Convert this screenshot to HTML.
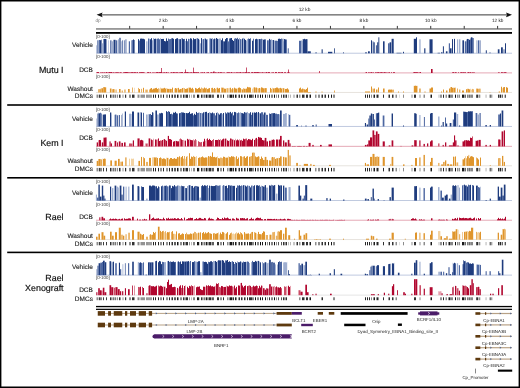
<!DOCTYPE html>
<html><head><meta charset="utf-8"><style>
html,body{margin:0;padding:0;background:#fff;}
#f{position:relative;width:520px;height:388px;overflow:hidden;background:#fff;}
#b{position:absolute;left:0;top:0;width:518px;height:386px;border:1px solid #000;box-shadow:inset 0 0 0 0.4px #000;}
svg{position:absolute;left:0;top:0;}
svg.t{will-change:transform;}
text{text-rendering:geometricPrecision;}
text{font-family:'Liberation Sans', sans-serif;}
</style></head><body><div id="f">
<svg width="520" height="388" viewBox="0 0 520 388" shape-rendering="auto">
<rect x="101.00" y="14.20" width="406.00" height="1.30" fill="#666"/>
<path d="M96.6,14.85 L102.6,12.4 L101.6,14.85 L102.6,17.3 Z" fill="#111"/>
<path d="M512.0,14.85 L506.0,12.4 L507.0,14.85 L506.0,17.3 Z" fill="#111"/>
<rect x="96.00" y="28.40" width="416.00" height="1.10" fill="#555"/>
<rect x="129.25" y="25.90" width="0.90" height="2.80" fill="#222"/>
<rect x="162.70" y="25.90" width="0.90" height="2.80" fill="#222"/>
<rect x="196.15" y="25.90" width="0.90" height="2.80" fill="#222"/>
<rect x="229.60" y="25.90" width="0.90" height="2.80" fill="#222"/>
<rect x="263.05" y="25.90" width="0.90" height="2.80" fill="#222"/>
<rect x="296.50" y="25.90" width="0.90" height="2.80" fill="#222"/>
<rect x="329.95" y="25.90" width="0.90" height="2.80" fill="#222"/>
<rect x="363.40" y="25.90" width="0.90" height="2.80" fill="#222"/>
<rect x="396.85" y="25.90" width="0.90" height="2.80" fill="#222"/>
<rect x="430.30" y="25.90" width="0.90" height="2.80" fill="#222"/>
<rect x="463.75" y="25.90" width="0.90" height="2.80" fill="#222"/>
<rect x="497.20" y="25.90" width="0.90" height="2.80" fill="#222"/>
<rect x="96.00" y="32.00" width="416.00" height="1.80" fill="#000"/>
<rect x="96.00" y="52.75" width="416.00" height="0.90" fill="#b9c4dc"/>
<rect x="96.30" y="45.30" width="0.70" height="8.00" fill="#9eaed0"/>
<rect x="97.30" y="40.30" width="1.00" height="13.00" fill="#4d67a1"/>
<rect x="98.60" y="40.25" width="0.40" height="13.05" fill="#4d67a1"/>
<rect x="99.00" y="39.97" width="1.00" height="13.33" fill="#4d67a1"/>
<rect x="100.00" y="40.21" width="1.00" height="13.09" fill="#1f3c7e"/>
<rect x="101.00" y="39.66" width="0.60" height="13.64" fill="#1f3c7e"/>
<rect x="102.00" y="43.30" width="1.00" height="10.00" fill="#9eaed0"/>
<rect x="103.30" y="38.99" width="0.70" height="14.31" fill="#4d67a1"/>
<rect x="104.00" y="38.94" width="1.00" height="14.36" fill="#1f3c7e"/>
<rect x="105.00" y="38.98" width="1.00" height="14.32" fill="#1f3c7e"/>
<rect x="106.00" y="39.23" width="0.50" height="14.07" fill="#1f3c7e"/>
<rect x="108.00" y="40.30" width="0.60" height="13.00" fill="#9eaed0"/>
<rect x="110.20" y="40.30" width="1.30" height="13.00" fill="#4d67a1"/>
<rect x="111.80" y="41.30" width="1.20" height="12.00" fill="#9eaed0"/>
<rect x="113.50" y="39.80" width="2.10" height="13.50" fill="#1f3c7e"/>
<rect x="116.00" y="40.30" width="1.30" height="13.00" fill="#4d67a1"/>
<rect x="118.00" y="39.30" width="1.00" height="14.00" fill="#9eaed0"/>
<rect x="119.40" y="37.80" width="1.20" height="15.50" fill="#1f3c7e"/>
<rect x="121.00" y="41.30" width="0.70" height="12.00" fill="#9eaed0"/>
<rect x="122.20" y="40.30" width="0.80" height="13.00" fill="#4d67a1"/>
<rect x="123.90" y="40.30" width="0.80" height="13.00" fill="#4d67a1"/>
<rect x="125.50" y="39.30" width="0.90" height="14.00" fill="#4d67a1"/>
<rect x="128.80" y="41.30" width="1.20" height="12.00" fill="#4d67a1"/>
<rect x="131.00" y="40.30" width="0.60" height="13.00" fill="#4d67a1"/>
<rect x="132.10" y="40.08" width="0.90" height="13.22" fill="#4d67a1"/>
<rect x="133.00" y="39.41" width="1.00" height="13.89" fill="#1f3c7e"/>
<rect x="134.00" y="40.00" width="0.60" height="13.30" fill="#1f3c7e"/>
<rect x="138.00" y="39.15" width="1.00" height="14.15" fill="#1f3c7e"/>
<rect x="139.00" y="40.55" width="1.00" height="12.75" fill="#4d67a1"/>
<rect x="140.00" y="38.67" width="1.00" height="14.63" fill="#1f3c7e"/>
<rect x="141.00" y="38.55" width="1.00" height="14.75" fill="#1f3c7e"/>
<rect x="142.00" y="38.72" width="1.00" height="14.58" fill="#1f3c7e"/>
<rect x="143.00" y="38.76" width="1.00" height="14.54" fill="#1f3c7e"/>
<rect x="144.00" y="39.30" width="1.00" height="14.00" fill="#1f3c7e"/>
<rect x="146.20" y="41.30" width="1.30" height="12.00" fill="#9eaed0"/>
<rect x="148.00" y="38.50" width="1.00" height="14.80" fill="#4d67a1"/>
<rect x="149.00" y="38.76" width="1.00" height="14.54" fill="#9eaed0"/>
<rect x="150.00" y="39.28" width="1.00" height="14.02" fill="#1f3c7e"/>
<rect x="151.00" y="38.20" width="1.00" height="15.10" fill="#1f3c7e"/>
<rect x="152.00" y="40.27" width="1.00" height="13.03" fill="#9eaed0"/>
<rect x="153.00" y="38.13" width="1.00" height="15.17" fill="#9eaed0"/>
<rect x="154.00" y="38.90" width="1.00" height="14.40" fill="#1f3c7e"/>
<rect x="155.00" y="38.68" width="1.00" height="14.62" fill="#1f3c7e"/>
<rect x="156.00" y="38.85" width="1.00" height="14.45" fill="#9eaed0"/>
<rect x="157.00" y="38.67" width="1.00" height="14.63" fill="#4d67a1"/>
<rect x="158.00" y="38.44" width="1.00" height="14.86" fill="#4d67a1"/>
<rect x="159.00" y="39.25" width="1.00" height="14.05" fill="#4d67a1"/>
<rect x="160.00" y="38.30" width="1.00" height="15.00" fill="#9eaed0"/>
<rect x="161.00" y="38.99" width="1.00" height="14.31" fill="#1f3c7e"/>
<rect x="162.00" y="38.95" width="1.00" height="14.35" fill="#1f3c7e"/>
<rect x="163.00" y="38.90" width="1.00" height="14.40" fill="#1f3c7e"/>
<rect x="164.00" y="41.00" width="1.00" height="12.30" fill="#1f3c7e"/>
<rect x="165.00" y="41.34" width="1.00" height="11.96" fill="#1f3c7e"/>
<rect x="166.00" y="38.37" width="1.00" height="14.93" fill="#1f3c7e"/>
<rect x="167.00" y="40.87" width="1.00" height="12.43" fill="#1f3c7e"/>
<rect x="168.00" y="38.59" width="1.00" height="14.71" fill="#4d67a1"/>
<rect x="169.00" y="39.24" width="1.00" height="14.06" fill="#4d67a1"/>
<rect x="170.00" y="39.04" width="1.00" height="14.26" fill="#4d67a1"/>
<rect x="171.00" y="38.40" width="1.00" height="14.90" fill="#4d67a1"/>
<rect x="172.00" y="38.19" width="1.00" height="15.11" fill="#1f3c7e"/>
<rect x="173.00" y="38.77" width="1.00" height="14.53" fill="#1f3c7e"/>
<rect x="175.00" y="39.10" width="1.00" height="14.20" fill="#1f3c7e"/>
<rect x="176.00" y="38.48" width="1.00" height="14.82" fill="#1f3c7e"/>
<rect x="177.00" y="38.19" width="1.00" height="15.11" fill="#1f3c7e"/>
<rect x="178.00" y="38.96" width="1.00" height="14.34" fill="#9eaed0"/>
<rect x="179.00" y="39.15" width="1.00" height="14.15" fill="#4d67a1"/>
<rect x="180.00" y="39.12" width="1.00" height="14.18" fill="#1f3c7e"/>
<rect x="181.00" y="38.10" width="1.00" height="15.20" fill="#9eaed0"/>
<rect x="182.00" y="38.46" width="1.00" height="14.84" fill="#1f3c7e"/>
<rect x="183.00" y="39.12" width="1.00" height="14.18" fill="#1f3c7e"/>
<rect x="184.00" y="38.89" width="1.00" height="14.41" fill="#4d67a1"/>
<rect x="185.00" y="41.05" width="1.00" height="12.25" fill="#9eaed0"/>
<rect x="186.00" y="38.80" width="1.00" height="14.50" fill="#1f3c7e"/>
<rect x="187.00" y="41.24" width="1.00" height="12.06" fill="#4d67a1"/>
<rect x="188.00" y="38.82" width="1.00" height="14.48" fill="#4d67a1"/>
<rect x="189.00" y="39.01" width="1.00" height="14.29" fill="#9eaed0"/>
<rect x="190.00" y="38.26" width="1.00" height="15.04" fill="#1f3c7e"/>
<rect x="191.00" y="38.65" width="1.00" height="14.65" fill="#1f3c7e"/>
<rect x="192.00" y="40.20" width="1.00" height="13.10" fill="#9eaed0"/>
<rect x="193.00" y="38.25" width="1.00" height="15.05" fill="#1f3c7e"/>
<rect x="194.00" y="39.12" width="1.00" height="14.18" fill="#1f3c7e"/>
<rect x="195.00" y="38.89" width="1.00" height="14.41" fill="#1f3c7e"/>
<rect x="196.00" y="38.38" width="1.00" height="14.92" fill="#9eaed0"/>
<rect x="197.00" y="38.21" width="1.00" height="15.09" fill="#4d67a1"/>
<rect x="198.00" y="38.83" width="1.00" height="14.47" fill="#1f3c7e"/>
<rect x="199.00" y="39.71" width="1.00" height="13.59" fill="#9eaed0"/>
<rect x="200.00" y="43.30" width="1.30" height="10.00" fill="#9eaed0"/>
<rect x="201.00" y="38.13" width="1.00" height="15.17" fill="#1f3c7e"/>
<rect x="202.00" y="39.36" width="1.00" height="13.94" fill="#9eaed0"/>
<rect x="203.00" y="39.07" width="1.00" height="14.23" fill="#4d67a1"/>
<rect x="204.00" y="38.61" width="1.00" height="14.69" fill="#9eaed0"/>
<rect x="205.00" y="38.60" width="1.00" height="14.70" fill="#1f3c7e"/>
<rect x="206.00" y="39.43" width="1.00" height="13.87" fill="#1f3c7e"/>
<rect x="207.00" y="39.14" width="1.00" height="14.16" fill="#9eaed0"/>
<rect x="209.00" y="38.40" width="1.00" height="14.90" fill="#9eaed0"/>
<rect x="210.00" y="38.45" width="1.00" height="14.85" fill="#4d67a1"/>
<rect x="211.00" y="38.75" width="1.00" height="14.55" fill="#1f3c7e"/>
<rect x="212.00" y="38.03" width="1.00" height="15.27" fill="#9eaed0"/>
<rect x="213.00" y="39.24" width="1.00" height="14.06" fill="#4d67a1"/>
<rect x="214.00" y="38.58" width="1.00" height="14.72" fill="#1f3c7e"/>
<rect x="215.00" y="38.83" width="1.00" height="14.47" fill="#9eaed0"/>
<rect x="216.00" y="38.03" width="1.00" height="15.27" fill="#1f3c7e"/>
<rect x="217.00" y="38.81" width="1.00" height="14.49" fill="#1f3c7e"/>
<rect x="218.00" y="38.90" width="1.00" height="14.40" fill="#9eaed0"/>
<rect x="219.00" y="38.47" width="1.00" height="14.83" fill="#9eaed0"/>
<rect x="220.00" y="38.55" width="1.00" height="14.75" fill="#9eaed0"/>
<rect x="221.00" y="40.18" width="1.00" height="13.12" fill="#1f3c7e"/>
<rect x="222.00" y="38.33" width="1.00" height="14.97" fill="#1f3c7e"/>
<rect x="223.00" y="41.30" width="1.00" height="12.00" fill="#4d67a1"/>
<rect x="224.00" y="41.36" width="1.00" height="11.94" fill="#1f3c7e"/>
<rect x="225.00" y="39.10" width="1.00" height="14.20" fill="#1f3c7e"/>
<rect x="226.00" y="38.00" width="1.00" height="15.30" fill="#1f3c7e"/>
<rect x="227.00" y="38.04" width="1.00" height="15.26" fill="#4d67a1"/>
<rect x="228.00" y="41.38" width="1.00" height="11.92" fill="#4d67a1"/>
<rect x="229.00" y="38.42" width="1.00" height="14.88" fill="#4d67a1"/>
<rect x="230.00" y="38.25" width="1.00" height="15.05" fill="#1f3c7e"/>
<rect x="231.00" y="38.00" width="1.00" height="15.30" fill="#1f3c7e"/>
<rect x="232.00" y="39.95" width="1.00" height="13.35" fill="#1f3c7e"/>
<rect x="233.00" y="40.99" width="1.00" height="12.31" fill="#1f3c7e"/>
<rect x="234.00" y="38.68" width="1.00" height="14.62" fill="#4d67a1"/>
<rect x="235.00" y="38.17" width="1.00" height="15.13" fill="#4d67a1"/>
<rect x="236.00" y="38.72" width="1.00" height="14.58" fill="#1f3c7e"/>
<rect x="237.00" y="37.83" width="1.00" height="15.47" fill="#4d67a1"/>
<rect x="238.00" y="39.27" width="1.00" height="14.03" fill="#1f3c7e"/>
<rect x="239.00" y="37.95" width="1.00" height="15.35" fill="#9eaed0"/>
<rect x="240.00" y="39.11" width="1.00" height="14.19" fill="#4d67a1"/>
<rect x="241.00" y="39.30" width="1.00" height="14.00" fill="#9eaed0"/>
<rect x="242.00" y="38.57" width="1.00" height="14.73" fill="#1f3c7e"/>
<rect x="243.00" y="37.89" width="1.00" height="15.41" fill="#9eaed0"/>
<rect x="244.00" y="38.79" width="1.00" height="14.51" fill="#1f3c7e"/>
<rect x="245.00" y="39.93" width="1.00" height="13.37" fill="#1f3c7e"/>
<rect x="246.00" y="40.57" width="1.00" height="12.73" fill="#9eaed0"/>
<rect x="247.00" y="38.97" width="1.00" height="14.33" fill="#9eaed0"/>
<rect x="248.00" y="38.50" width="1.00" height="14.80" fill="#4d67a1"/>
<rect x="249.00" y="38.93" width="1.00" height="14.37" fill="#1f3c7e"/>
<rect x="250.00" y="38.29" width="1.00" height="15.01" fill="#4d67a1"/>
<rect x="252.00" y="40.71" width="1.00" height="12.59" fill="#1f3c7e"/>
<rect x="253.00" y="38.73" width="1.00" height="14.57" fill="#4d67a1"/>
<rect x="255.00" y="39.20" width="1.00" height="14.10" fill="#1f3c7e"/>
<rect x="256.00" y="38.78" width="1.00" height="14.52" fill="#1f3c7e"/>
<rect x="257.00" y="39.21" width="1.00" height="14.09" fill="#4d67a1"/>
<rect x="258.00" y="39.02" width="1.00" height="14.28" fill="#9eaed0"/>
<rect x="259.00" y="39.05" width="1.00" height="14.25" fill="#1f3c7e"/>
<rect x="260.00" y="39.13" width="1.00" height="14.17" fill="#4d67a1"/>
<rect x="261.00" y="38.76" width="1.00" height="14.54" fill="#4d67a1"/>
<rect x="262.00" y="39.12" width="1.00" height="14.18" fill="#9eaed0"/>
<rect x="263.00" y="39.71" width="1.00" height="13.59" fill="#1f3c7e"/>
<rect x="264.00" y="39.40" width="1.00" height="13.90" fill="#1f3c7e"/>
<rect x="265.00" y="39.34" width="1.00" height="13.96" fill="#4d67a1"/>
<rect x="267.00" y="40.30" width="1.80" height="13.00" fill="#4d67a1"/>
<rect x="269.00" y="38.89" width="1.00" height="14.41" fill="#1f3c7e"/>
<rect x="270.00" y="39.77" width="1.00" height="13.53" fill="#4d67a1"/>
<rect x="271.00" y="39.36" width="1.00" height="13.94" fill="#9eaed0"/>
<rect x="272.00" y="40.00" width="1.00" height="13.30" fill="#9eaed0"/>
<rect x="273.00" y="40.04" width="1.00" height="13.26" fill="#1f3c7e"/>
<rect x="274.50" y="40.53" width="0.50" height="12.77" fill="#4d67a1"/>
<rect x="275.00" y="40.70" width="1.00" height="12.60" fill="#4d67a1"/>
<rect x="276.00" y="40.69" width="1.00" height="12.61" fill="#4d67a1"/>
<rect x="277.00" y="40.98" width="0.90" height="12.32" fill="#4d67a1"/>
<rect x="277.90" y="39.31" width="0.10" height="13.99" fill="#1f3c7e"/>
<rect x="278.00" y="38.81" width="1.00" height="14.49" fill="#1f3c7e"/>
<rect x="279.00" y="38.68" width="1.00" height="14.62" fill="#1f3c7e"/>
<rect x="280.00" y="39.06" width="1.00" height="14.24" fill="#1f3c7e"/>
<rect x="281.00" y="38.56" width="1.00" height="14.74" fill="#4d67a1"/>
<rect x="282.00" y="38.79" width="0.50" height="14.51" fill="#1f3c7e"/>
<rect x="282.50" y="41.30" width="1.10" height="12.00" fill="#9eaed0"/>
<rect x="283.60" y="38.63" width="0.40" height="14.67" fill="#4d67a1"/>
<rect x="284.00" y="39.04" width="1.00" height="14.26" fill="#1f3c7e"/>
<rect x="285.00" y="39.40" width="1.00" height="13.90" fill="#1f3c7e"/>
<rect x="286.00" y="39.49" width="0.90" height="13.81" fill="#4d67a1"/>
<rect x="287.80" y="48.30" width="0.80" height="5.00" fill="#1f3c7e"/>
<rect x="299.00" y="40.76" width="1.00" height="12.54" fill="#4d67a1"/>
<rect x="300.00" y="40.77" width="1.00" height="12.53" fill="#4d67a1"/>
<rect x="301.00" y="40.46" width="1.00" height="12.84" fill="#9eaed0"/>
<rect x="302.00" y="41.08" width="0.60" height="12.22" fill="#9eaed0"/>
<rect x="302.60" y="39.06" width="0.40" height="14.24" fill="#4d67a1"/>
<rect x="303.00" y="39.20" width="1.00" height="14.10" fill="#1f3c7e"/>
<rect x="304.00" y="38.83" width="1.00" height="14.47" fill="#1f3c7e"/>
<rect x="305.00" y="39.33" width="1.00" height="13.97" fill="#1f3c7e"/>
<rect x="306.00" y="39.12" width="1.00" height="14.18" fill="#1f3c7e"/>
<rect x="307.00" y="39.20" width="0.50" height="14.10" fill="#1f3c7e"/>
<rect x="307.50" y="51.30" width="3.30" height="2.00" fill="#1f3c7e"/>
<rect x="315.50" y="52.30" width="1.10" height="1.00" fill="#1f3c7e"/>
<rect x="321.60" y="49.30" width="1.10" height="4.00" fill="#1f3c7e"/>
<rect x="328.00" y="51.80" width="4.30" height="1.50" fill="#1f3c7e"/>
<rect x="334.00" y="48.30" width="0.80" height="5.00" fill="#1f3c7e"/>
<rect x="343.00" y="52.30" width="0.80" height="1.00" fill="#1f3c7e"/>
<rect x="365.20" y="52.30" width="1.60" height="1.00" fill="#1f3c7e"/>
<rect x="368.00" y="51.30" width="1.80" height="2.00" fill="#1f3c7e"/>
<rect x="371.00" y="40.30" width="1.00" height="13.00" fill="#1f3c7e"/>
<rect x="372.60" y="41.30" width="0.80" height="12.00" fill="#4d67a1"/>
<rect x="373.40" y="42.30" width="1.30" height="11.00" fill="#1f3c7e"/>
<rect x="375.90" y="45.30" width="1.30" height="8.00" fill="#4d67a1"/>
<rect x="377.20" y="42.30" width="1.20" height="11.00" fill="#1f3c7e"/>
<rect x="378.40" y="37.30" width="0.90" height="16.00" fill="#1f3c7e"/>
<rect x="383.00" y="41.30" width="1.60" height="12.00" fill="#1f3c7e"/>
<rect x="388.00" y="43.30" width="1.60" height="10.00" fill="#4d67a1"/>
<rect x="389.60" y="42.30" width="1.60" height="11.00" fill="#1f3c7e"/>
<rect x="391.60" y="38.80" width="2.10" height="14.50" fill="#1f3c7e"/>
<rect x="396.50" y="52.80" width="5.00" height="0.50" fill="#1f3c7e"/>
<rect x="403.00" y="51.80" width="1.00" height="1.50" fill="#1f3c7e"/>
<rect x="413.80" y="38.80" width="2.20" height="14.50" fill="#1f3c7e"/>
<rect x="416.00" y="37.30" width="1.00" height="16.00" fill="#1f3c7e"/>
<rect x="419.30" y="39.30" width="1.30" height="14.00" fill="#9eaed0"/>
<rect x="424.20" y="48.30" width="1.20" height="5.00" fill="#1f3c7e"/>
<rect x="429.50" y="39.30" width="1.50" height="14.00" fill="#1f3c7e"/>
<rect x="431.00" y="39.30" width="1.60" height="14.00" fill="#1f3c7e"/>
<rect x="437.60" y="52.80" width="2.40" height="0.50" fill="#1f3c7e"/>
<rect x="441.00" y="52.30" width="1.50" height="1.00" fill="#1f3c7e"/>
<rect x="442.90" y="46.30" width="1.00" height="7.00" fill="#1f3c7e"/>
<rect x="445.90" y="51.30" width="1.60" height="2.00" fill="#1f3c7e"/>
<rect x="448.80" y="43.30" width="1.20" height="10.00" fill="#4d67a1"/>
<rect x="450.00" y="48.30" width="1.60" height="5.00" fill="#1f3c7e"/>
<rect x="452.00" y="39.13" width="1.00" height="14.17" fill="#1f3c7e"/>
<rect x="454.00" y="38.86" width="1.00" height="14.44" fill="#1f3c7e"/>
<rect x="457.00" y="39.30" width="1.20" height="14.00" fill="#9eaed0"/>
<rect x="459.00" y="39.30" width="1.40" height="14.00" fill="#9eaed0"/>
<rect x="462.40" y="40.30" width="1.60" height="13.00" fill="#1f3c7e"/>
<rect x="464.80" y="41.30" width="1.70" height="12.00" fill="#4d67a1"/>
<rect x="466.50" y="39.38" width="0.50" height="13.92" fill="#4d67a1"/>
<rect x="467.00" y="38.95" width="1.00" height="14.35" fill="#1f3c7e"/>
<rect x="468.00" y="39.09" width="1.00" height="14.21" fill="#4d67a1"/>
<rect x="469.00" y="39.77" width="1.00" height="13.53" fill="#1f3c7e"/>
<rect x="470.00" y="39.46" width="0.60" height="13.84" fill="#1f3c7e"/>
<rect x="470.60" y="37.72" width="0.40" height="15.58" fill="#1f3c7e"/>
<rect x="471.00" y="37.31" width="1.00" height="15.99" fill="#1f3c7e"/>
<rect x="472.00" y="37.60" width="1.00" height="15.70" fill="#4d67a1"/>
<rect x="473.00" y="38.05" width="0.60" height="15.25" fill="#1f3c7e"/>
<rect x="476.40" y="40.30" width="1.10" height="13.00" fill="#9eaed0"/>
<rect x="478.00" y="40.30" width="1.20" height="13.00" fill="#4d67a1"/>
<rect x="479.70" y="40.30" width="0.80" height="13.00" fill="#4d67a1"/>
<rect x="485.80" y="50.30" width="1.00" height="3.00" fill="#1f3c7e"/>
<rect x="489.60" y="52.30" width="0.80" height="1.00" fill="#1f3c7e"/>
<rect x="497.80" y="49.30" width="1.70" height="4.00" fill="#1f3c7e"/>
<rect x="501.00" y="47.30" width="1.80" height="6.00" fill="#1f3c7e"/>
<rect x="503.60" y="49.30" width="0.80" height="4.00" fill="#1f3c7e"/>
<rect x="505.00" y="43.30" width="1.00" height="10.00" fill="#1f3c7e"/>
<rect x="96.00" y="72.45" width="416.00" height="0.90" fill="#e2a0ae"/>
<rect x="96.00" y="72.64" width="1.00" height="0.36" fill="#b1072f"/>
<rect x="97.00" y="72.12" width="1.00" height="0.88" fill="#b1072f"/>
<rect x="98.00" y="72.13" width="1.00" height="0.87" fill="#b1072f"/>
<rect x="100.00" y="72.57" width="1.00" height="0.43" fill="#b1072f"/>
<rect x="101.00" y="72.58" width="1.00" height="0.42" fill="#b1072f"/>
<rect x="102.00" y="72.43" width="1.00" height="0.57" fill="#b1072f"/>
<rect x="103.00" y="72.63" width="1.00" height="0.37" fill="#b1072f"/>
<rect x="104.00" y="72.45" width="1.00" height="0.55" fill="#b1072f"/>
<rect x="105.00" y="72.68" width="1.00" height="0.32" fill="#b1072f"/>
<rect x="106.00" y="72.15" width="1.00" height="0.85" fill="#b1072f"/>
<rect x="107.00" y="72.59" width="1.00" height="0.41" fill="#b1072f"/>
<rect x="108.00" y="72.47" width="1.00" height="0.53" fill="#b1072f"/>
<rect x="109.00" y="72.12" width="1.00" height="0.88" fill="#b1072f"/>
<rect x="110.00" y="72.21" width="1.00" height="0.79" fill="#b1072f"/>
<rect x="111.00" y="72.11" width="1.00" height="0.89" fill="#b1072f"/>
<rect x="112.00" y="72.66" width="1.00" height="0.34" fill="#b1072f"/>
<rect x="113.00" y="72.43" width="1.00" height="0.57" fill="#b1072f"/>
<rect x="114.00" y="72.68" width="1.00" height="0.32" fill="#b1072f"/>
<rect x="115.00" y="72.48" width="1.00" height="0.52" fill="#b1072f"/>
<rect x="116.00" y="72.33" width="1.00" height="0.67" fill="#b1072f"/>
<rect x="117.00" y="72.33" width="1.00" height="0.67" fill="#b1072f"/>
<rect x="118.00" y="72.43" width="1.00" height="0.57" fill="#b1072f"/>
<rect x="119.00" y="72.67" width="1.00" height="0.33" fill="#b1072f"/>
<rect x="120.00" y="72.35" width="1.00" height="0.65" fill="#b1072f"/>
<rect x="121.00" y="72.57" width="1.00" height="0.43" fill="#b1072f"/>
<rect x="123.00" y="72.44" width="1.00" height="0.56" fill="#b1072f"/>
<rect x="124.00" y="72.28" width="1.00" height="0.72" fill="#b1072f"/>
<rect x="125.00" y="72.12" width="1.00" height="0.88" fill="#b1072f"/>
<rect x="126.00" y="72.11" width="1.00" height="0.89" fill="#b1072f"/>
<rect x="127.00" y="72.19" width="1.00" height="0.81" fill="#b1072f"/>
<rect x="128.00" y="72.42" width="1.00" height="0.58" fill="#b1072f"/>
<rect x="129.00" y="72.50" width="1.00" height="0.50" fill="#b1072f"/>
<rect x="130.00" y="72.51" width="1.00" height="0.49" fill="#b1072f"/>
<rect x="131.00" y="72.27" width="1.00" height="0.73" fill="#b1072f"/>
<rect x="132.00" y="72.21" width="1.00" height="0.79" fill="#b1072f"/>
<rect x="133.00" y="72.47" width="1.00" height="0.53" fill="#b1072f"/>
<rect x="134.00" y="72.23" width="1.00" height="0.77" fill="#b1072f"/>
<rect x="135.00" y="72.29" width="1.00" height="0.71" fill="#b1072f"/>
<rect x="136.00" y="72.60" width="1.00" height="0.40" fill="#b1072f"/>
<rect x="137.00" y="72.23" width="1.00" height="0.77" fill="#b1072f"/>
<rect x="139.00" y="72.33" width="1.00" height="0.67" fill="#b1072f"/>
<rect x="140.00" y="72.31" width="1.00" height="0.69" fill="#b1072f"/>
<rect x="141.00" y="72.22" width="1.00" height="0.78" fill="#b1072f"/>
<rect x="142.00" y="72.24" width="1.00" height="0.76" fill="#b1072f"/>
<rect x="143.00" y="72.28" width="1.00" height="0.72" fill="#b1072f"/>
<rect x="144.00" y="72.60" width="1.00" height="0.40" fill="#b1072f"/>
<rect x="147.00" y="72.30" width="1.00" height="0.70" fill="#b1072f"/>
<rect x="148.00" y="72.20" width="1.00" height="0.80" fill="#b1072f"/>
<rect x="149.00" y="72.65" width="1.00" height="0.35" fill="#b1072f"/>
<rect x="150.00" y="72.33" width="1.00" height="0.67" fill="#b1072f"/>
<rect x="152.00" y="72.57" width="1.00" height="0.43" fill="#b1072f"/>
<rect x="153.00" y="72.57" width="1.00" height="0.43" fill="#b1072f"/>
<rect x="154.00" y="72.63" width="1.00" height="0.37" fill="#b1072f"/>
<rect x="155.00" y="72.67" width="1.00" height="0.33" fill="#b1072f"/>
<rect x="156.00" y="72.25" width="1.00" height="0.75" fill="#b1072f"/>
<rect x="157.00" y="72.14" width="1.00" height="0.86" fill="#b1072f"/>
<rect x="158.00" y="72.42" width="1.00" height="0.58" fill="#b1072f"/>
<rect x="159.00" y="72.20" width="1.00" height="0.80" fill="#b1072f"/>
<rect x="160.00" y="72.14" width="1.00" height="0.86" fill="#b1072f"/>
<rect x="161.00" y="72.35" width="1.00" height="0.65" fill="#b1072f"/>
<rect x="162.00" y="72.67" width="1.00" height="0.33" fill="#b1072f"/>
<rect x="163.00" y="72.50" width="1.00" height="0.50" fill="#b1072f"/>
<rect x="164.00" y="72.36" width="1.00" height="0.64" fill="#b1072f"/>
<rect x="165.00" y="72.64" width="1.00" height="0.36" fill="#b1072f"/>
<rect x="166.00" y="72.17" width="1.00" height="0.83" fill="#b1072f"/>
<rect x="167.00" y="72.65" width="1.00" height="0.35" fill="#b1072f"/>
<rect x="168.00" y="72.54" width="1.00" height="0.46" fill="#b1072f"/>
<rect x="170.00" y="72.65" width="1.00" height="0.35" fill="#b1072f"/>
<rect x="171.00" y="72.28" width="1.00" height="0.72" fill="#b1072f"/>
<rect x="172.00" y="72.57" width="1.00" height="0.43" fill="#b1072f"/>
<rect x="173.00" y="72.14" width="1.00" height="0.86" fill="#b1072f"/>
<rect x="174.00" y="72.32" width="1.00" height="0.68" fill="#b1072f"/>
<rect x="175.00" y="72.49" width="1.00" height="0.51" fill="#b1072f"/>
<rect x="176.00" y="72.31" width="1.00" height="0.69" fill="#b1072f"/>
<rect x="177.00" y="72.32" width="1.00" height="0.68" fill="#b1072f"/>
<rect x="178.00" y="72.68" width="1.00" height="0.32" fill="#b1072f"/>
<rect x="179.00" y="72.48" width="1.00" height="0.52" fill="#b1072f"/>
<rect x="180.00" y="72.37" width="1.00" height="0.63" fill="#b1072f"/>
<rect x="181.00" y="72.21" width="1.00" height="0.79" fill="#b1072f"/>
<rect x="182.00" y="72.17" width="1.00" height="0.83" fill="#b1072f"/>
<rect x="184.00" y="72.34" width="1.00" height="0.66" fill="#b1072f"/>
<rect x="185.00" y="72.34" width="1.00" height="0.66" fill="#b1072f"/>
<rect x="186.00" y="72.27" width="1.00" height="0.73" fill="#b1072f"/>
<rect x="187.00" y="72.15" width="1.00" height="0.85" fill="#b1072f"/>
<rect x="188.00" y="72.40" width="1.00" height="0.60" fill="#b1072f"/>
<rect x="189.00" y="72.57" width="1.00" height="0.43" fill="#b1072f"/>
<rect x="190.00" y="72.43" width="1.00" height="0.57" fill="#b1072f"/>
<rect x="191.00" y="72.32" width="1.00" height="0.68" fill="#b1072f"/>
<rect x="192.00" y="72.68" width="1.00" height="0.32" fill="#b1072f"/>
<rect x="193.00" y="72.18" width="1.00" height="0.82" fill="#b1072f"/>
<rect x="194.00" y="72.19" width="1.00" height="0.81" fill="#b1072f"/>
<rect x="195.00" y="72.31" width="1.00" height="0.69" fill="#b1072f"/>
<rect x="196.00" y="72.26" width="1.00" height="0.74" fill="#b1072f"/>
<rect x="197.00" y="72.36" width="1.00" height="0.64" fill="#b1072f"/>
<rect x="198.00" y="72.28" width="1.00" height="0.72" fill="#b1072f"/>
<rect x="200.00" y="72.65" width="1.00" height="0.35" fill="#b1072f"/>
<rect x="201.00" y="72.47" width="1.00" height="0.53" fill="#b1072f"/>
<rect x="202.00" y="72.36" width="1.00" height="0.64" fill="#b1072f"/>
<rect x="203.00" y="72.65" width="1.00" height="0.35" fill="#b1072f"/>
<rect x="204.00" y="72.20" width="1.00" height="0.80" fill="#b1072f"/>
<rect x="206.00" y="72.60" width="1.00" height="0.40" fill="#b1072f"/>
<rect x="207.00" y="72.38" width="1.00" height="0.62" fill="#b1072f"/>
<rect x="208.00" y="72.24" width="1.00" height="0.76" fill="#b1072f"/>
<rect x="210.00" y="72.51" width="1.00" height="0.49" fill="#b1072f"/>
<rect x="211.00" y="72.26" width="1.00" height="0.74" fill="#b1072f"/>
<rect x="212.00" y="72.61" width="1.00" height="0.39" fill="#b1072f"/>
<rect x="213.00" y="72.12" width="1.00" height="0.88" fill="#b1072f"/>
<rect x="214.00" y="72.50" width="1.00" height="0.50" fill="#b1072f"/>
<rect x="215.00" y="72.35" width="1.00" height="0.65" fill="#b1072f"/>
<rect x="216.00" y="72.56" width="1.00" height="0.44" fill="#b1072f"/>
<rect x="217.00" y="72.66" width="1.00" height="0.34" fill="#b1072f"/>
<rect x="218.00" y="72.23" width="1.00" height="0.77" fill="#b1072f"/>
<rect x="219.00" y="72.56" width="1.00" height="0.44" fill="#b1072f"/>
<rect x="220.00" y="72.26" width="1.00" height="0.74" fill="#b1072f"/>
<rect x="221.00" y="72.31" width="1.00" height="0.69" fill="#b1072f"/>
<rect x="222.00" y="72.66" width="1.00" height="0.34" fill="#b1072f"/>
<rect x="223.00" y="72.60" width="1.00" height="0.40" fill="#b1072f"/>
<rect x="224.00" y="72.57" width="1.00" height="0.43" fill="#b1072f"/>
<rect x="226.00" y="72.68" width="1.00" height="0.32" fill="#b1072f"/>
<rect x="227.00" y="72.29" width="1.00" height="0.71" fill="#b1072f"/>
<rect x="228.00" y="72.31" width="1.00" height="0.69" fill="#b1072f"/>
<rect x="229.00" y="72.34" width="1.00" height="0.66" fill="#b1072f"/>
<rect x="230.00" y="72.62" width="1.00" height="0.38" fill="#b1072f"/>
<rect x="231.00" y="72.15" width="1.00" height="0.85" fill="#b1072f"/>
<rect x="232.00" y="72.62" width="1.00" height="0.38" fill="#b1072f"/>
<rect x="233.00" y="72.64" width="1.00" height="0.36" fill="#b1072f"/>
<rect x="234.00" y="72.52" width="1.00" height="0.48" fill="#b1072f"/>
<rect x="235.00" y="72.66" width="1.00" height="0.34" fill="#b1072f"/>
<rect x="236.00" y="72.37" width="1.00" height="0.63" fill="#b1072f"/>
<rect x="237.00" y="72.38" width="1.00" height="0.62" fill="#b1072f"/>
<rect x="238.00" y="72.48" width="1.00" height="0.52" fill="#b1072f"/>
<rect x="239.00" y="72.43" width="1.00" height="0.57" fill="#b1072f"/>
<rect x="240.00" y="72.16" width="1.00" height="0.84" fill="#b1072f"/>
<rect x="241.00" y="72.63" width="1.00" height="0.37" fill="#b1072f"/>
<rect x="242.00" y="72.52" width="1.00" height="0.48" fill="#b1072f"/>
<rect x="243.00" y="72.42" width="1.00" height="0.58" fill="#b1072f"/>
<rect x="244.00" y="72.51" width="1.00" height="0.49" fill="#b1072f"/>
<rect x="245.00" y="72.22" width="1.00" height="0.78" fill="#b1072f"/>
<rect x="246.00" y="72.42" width="1.00" height="0.58" fill="#b1072f"/>
<rect x="247.00" y="72.52" width="1.00" height="0.48" fill="#b1072f"/>
<rect x="248.00" y="72.30" width="1.00" height="0.70" fill="#b1072f"/>
<rect x="249.00" y="72.31" width="1.00" height="0.69" fill="#b1072f"/>
<rect x="251.00" y="72.34" width="1.00" height="0.66" fill="#b1072f"/>
<rect x="252.00" y="72.18" width="1.00" height="0.82" fill="#b1072f"/>
<rect x="253.00" y="72.63" width="1.00" height="0.37" fill="#b1072f"/>
<rect x="254.00" y="72.15" width="1.00" height="0.85" fill="#b1072f"/>
<rect x="255.00" y="72.19" width="1.00" height="0.81" fill="#b1072f"/>
<rect x="256.00" y="72.24" width="1.00" height="0.76" fill="#b1072f"/>
<rect x="257.00" y="72.12" width="1.00" height="0.88" fill="#b1072f"/>
<rect x="258.00" y="72.21" width="1.00" height="0.79" fill="#b1072f"/>
<rect x="259.00" y="72.46" width="1.00" height="0.54" fill="#b1072f"/>
<rect x="260.00" y="72.56" width="1.00" height="0.44" fill="#b1072f"/>
<rect x="261.00" y="72.60" width="1.00" height="0.40" fill="#b1072f"/>
<rect x="262.00" y="72.30" width="1.00" height="0.70" fill="#b1072f"/>
<rect x="263.00" y="72.60" width="1.00" height="0.40" fill="#b1072f"/>
<rect x="264.00" y="72.61" width="1.00" height="0.39" fill="#b1072f"/>
<rect x="265.00" y="72.59" width="1.00" height="0.41" fill="#b1072f"/>
<rect x="266.00" y="72.15" width="1.00" height="0.85" fill="#b1072f"/>
<rect x="267.00" y="72.61" width="1.00" height="0.39" fill="#b1072f"/>
<rect x="268.00" y="72.16" width="1.00" height="0.84" fill="#b1072f"/>
<rect x="269.00" y="72.20" width="1.00" height="0.80" fill="#b1072f"/>
<rect x="271.00" y="72.67" width="1.00" height="0.33" fill="#b1072f"/>
<rect x="272.00" y="72.50" width="1.00" height="0.50" fill="#b1072f"/>
<rect x="273.00" y="72.39" width="1.00" height="0.61" fill="#b1072f"/>
<rect x="275.00" y="72.14" width="1.00" height="0.86" fill="#b1072f"/>
<rect x="276.00" y="72.20" width="1.00" height="0.80" fill="#b1072f"/>
<rect x="278.00" y="72.21" width="1.00" height="0.79" fill="#b1072f"/>
<rect x="279.00" y="72.31" width="1.00" height="0.69" fill="#b1072f"/>
<rect x="280.00" y="72.50" width="1.00" height="0.50" fill="#b1072f"/>
<rect x="281.00" y="72.32" width="1.00" height="0.68" fill="#b1072f"/>
<rect x="282.00" y="72.13" width="1.00" height="0.87" fill="#b1072f"/>
<rect x="284.00" y="72.38" width="1.00" height="0.62" fill="#b1072f"/>
<rect x="285.00" y="72.32" width="1.00" height="0.68" fill="#b1072f"/>
<rect x="287.00" y="72.49" width="1.00" height="0.51" fill="#b1072f"/>
<rect x="288.00" y="72.34" width="1.00" height="0.66" fill="#b1072f"/>
<rect x="289.00" y="72.59" width="1.00" height="0.41" fill="#b1072f"/>
<rect x="161.00" y="68.00" width="0.70" height="5.00" fill="#b1072f"/>
<rect x="185.30" y="69.50" width="0.70" height="3.50" fill="#b1072f"/>
<rect x="193.00" y="67.60" width="0.70" height="5.40" fill="#b1072f"/>
<rect x="213.60" y="71.00" width="0.70" height="2.00" fill="#b1072f"/>
<rect x="246.30" y="67.50" width="0.70" height="5.50" fill="#b1072f"/>
<rect x="288.20" y="69.50" width="0.70" height="3.50" fill="#b1072f"/>
<rect x="319.00" y="71.00" width="0.70" height="2.00" fill="#b1072f"/>
<rect x="365.00" y="72.66" width="1.00" height="0.34" fill="#b1072f"/>
<rect x="366.00" y="72.17" width="1.00" height="0.83" fill="#b1072f"/>
<rect x="368.00" y="72.44" width="1.00" height="0.56" fill="#b1072f"/>
<rect x="369.00" y="72.53" width="1.00" height="0.47" fill="#b1072f"/>
<rect x="370.00" y="72.52" width="1.00" height="0.48" fill="#b1072f"/>
<rect x="371.00" y="72.21" width="1.00" height="0.79" fill="#b1072f"/>
<rect x="372.00" y="72.63" width="1.00" height="0.37" fill="#b1072f"/>
<rect x="373.00" y="72.50" width="1.00" height="0.50" fill="#b1072f"/>
<rect x="375.00" y="72.40" width="1.00" height="0.60" fill="#b1072f"/>
<rect x="376.00" y="72.50" width="1.00" height="0.50" fill="#b1072f"/>
<rect x="377.00" y="72.33" width="1.00" height="0.67" fill="#b1072f"/>
<rect x="378.00" y="72.21" width="1.00" height="0.79" fill="#b1072f"/>
<rect x="379.00" y="72.54" width="1.00" height="0.46" fill="#b1072f"/>
<rect x="380.00" y="72.37" width="1.00" height="0.63" fill="#b1072f"/>
<rect x="381.00" y="72.22" width="1.00" height="0.78" fill="#b1072f"/>
<rect x="382.00" y="72.45" width="1.00" height="0.55" fill="#b1072f"/>
<rect x="383.00" y="72.56" width="1.00" height="0.44" fill="#b1072f"/>
<rect x="384.00" y="72.21" width="1.00" height="0.79" fill="#b1072f"/>
<rect x="385.00" y="72.43" width="1.00" height="0.57" fill="#b1072f"/>
<rect x="386.00" y="72.59" width="1.00" height="0.41" fill="#b1072f"/>
<rect x="387.00" y="72.67" width="1.00" height="0.33" fill="#b1072f"/>
<rect x="388.00" y="72.57" width="1.00" height="0.43" fill="#b1072f"/>
<rect x="389.00" y="72.34" width="1.00" height="0.66" fill="#b1072f"/>
<rect x="391.00" y="72.38" width="1.00" height="0.62" fill="#b1072f"/>
<rect x="393.00" y="72.28" width="1.00" height="0.72" fill="#b1072f"/>
<rect x="394.00" y="72.31" width="1.00" height="0.69" fill="#b1072f"/>
<rect x="413.00" y="72.49" width="1.00" height="0.51" fill="#b1072f"/>
<rect x="414.00" y="72.16" width="1.00" height="0.84" fill="#b1072f"/>
<rect x="415.00" y="72.26" width="1.00" height="0.74" fill="#b1072f"/>
<rect x="416.00" y="72.25" width="1.00" height="0.75" fill="#b1072f"/>
<rect x="417.00" y="72.31" width="1.00" height="0.69" fill="#b1072f"/>
<rect x="418.00" y="72.65" width="1.00" height="0.35" fill="#b1072f"/>
<rect x="419.00" y="72.51" width="1.00" height="0.49" fill="#b1072f"/>
<rect x="420.00" y="72.12" width="1.00" height="0.88" fill="#b1072f"/>
<rect x="431.00" y="69.00" width="1.60" height="4.00" fill="#b1072f"/>
<rect x="452.00" y="72.44" width="1.00" height="0.56" fill="#b1072f"/>
<rect x="453.00" y="72.21" width="1.00" height="0.79" fill="#b1072f"/>
<rect x="454.00" y="72.70" width="1.00" height="0.30" fill="#b1072f"/>
<rect x="455.00" y="72.26" width="1.00" height="0.74" fill="#b1072f"/>
<rect x="456.00" y="72.54" width="1.00" height="0.46" fill="#b1072f"/>
<rect x="458.00" y="72.43" width="1.00" height="0.57" fill="#b1072f"/>
<rect x="460.00" y="72.46" width="1.00" height="0.54" fill="#b1072f"/>
<rect x="461.00" y="72.26" width="1.00" height="0.74" fill="#b1072f"/>
<rect x="462.00" y="72.44" width="1.00" height="0.56" fill="#b1072f"/>
<rect x="463.00" y="72.33" width="1.00" height="0.67" fill="#b1072f"/>
<rect x="464.00" y="72.42" width="1.00" height="0.58" fill="#b1072f"/>
<rect x="465.00" y="72.35" width="1.00" height="0.65" fill="#b1072f"/>
<rect x="467.00" y="72.56" width="1.00" height="0.44" fill="#b1072f"/>
<rect x="468.00" y="72.21" width="1.00" height="0.79" fill="#b1072f"/>
<rect x="469.00" y="72.53" width="1.00" height="0.47" fill="#b1072f"/>
<rect x="470.00" y="72.30" width="1.00" height="0.70" fill="#b1072f"/>
<rect x="471.00" y="72.71" width="1.00" height="0.29" fill="#b1072f"/>
<rect x="472.00" y="72.47" width="1.00" height="0.53" fill="#b1072f"/>
<rect x="473.00" y="72.51" width="1.00" height="0.49" fill="#b1072f"/>
<rect x="474.00" y="72.58" width="1.00" height="0.42" fill="#b1072f"/>
<rect x="498.00" y="72.45" width="1.00" height="0.55" fill="#b1072f"/>
<rect x="499.00" y="72.64" width="1.00" height="0.36" fill="#b1072f"/>
<rect x="501.00" y="72.27" width="1.00" height="0.73" fill="#b1072f"/>
<rect x="502.00" y="72.37" width="1.00" height="0.63" fill="#b1072f"/>
<rect x="503.00" y="72.63" width="1.00" height="0.37" fill="#b1072f"/>
<rect x="504.00" y="72.31" width="1.00" height="0.69" fill="#b1072f"/>
<rect x="505.00" y="72.25" width="1.00" height="0.75" fill="#b1072f"/>
<rect x="506.00" y="72.67" width="1.00" height="0.33" fill="#b1072f"/>
<rect x="96.00" y="91.95" width="416.00" height="0.90" fill="#e4e0da"/>
<rect x="98.30" y="89.20" width="0.70" height="3.30" fill="#df952c"/>
<rect x="99.00" y="89.11" width="1.00" height="3.39" fill="#eab263"/>
<rect x="100.00" y="89.16" width="0.80" height="3.34" fill="#df952c"/>
<rect x="100.80" y="88.21" width="0.20" height="4.29" fill="#df952c"/>
<rect x="101.00" y="88.28" width="1.00" height="4.22" fill="#eab263"/>
<rect x="102.00" y="88.23" width="1.00" height="4.27" fill="#df952c"/>
<rect x="103.00" y="88.05" width="0.30" height="4.45" fill="#eab263"/>
<rect x="103.30" y="87.04" width="0.70" height="5.46" fill="#df952c"/>
<rect x="104.00" y="87.13" width="1.00" height="5.37" fill="#df952c"/>
<rect x="105.00" y="87.31" width="1.00" height="5.19" fill="#df952c"/>
<rect x="106.00" y="87.35" width="0.20" height="5.15" fill="#df952c"/>
<rect x="109.90" y="88.50" width="1.60" height="4.00" fill="#df952c"/>
<rect x="112.30" y="89.18" width="0.70" height="3.32" fill="#df952c"/>
<rect x="113.00" y="89.08" width="1.00" height="3.42" fill="#df952c"/>
<rect x="114.00" y="89.17" width="0.80" height="3.33" fill="#eab263"/>
<rect x="115.60" y="89.50" width="0.90" height="3.00" fill="#df952c"/>
<rect x="119.00" y="89.00" width="1.60" height="3.50" fill="#df952c"/>
<rect x="121.70" y="90.50" width="1.00" height="2.00" fill="#df952c"/>
<rect x="124.40" y="89.50" width="1.10" height="3.00" fill="#df952c"/>
<rect x="128.00" y="89.00" width="1.70" height="3.50" fill="#df952c"/>
<rect x="132.00" y="87.51" width="1.00" height="4.99" fill="#eab263"/>
<rect x="134.00" y="87.78" width="0.30" height="4.72" fill="#df952c"/>
<rect x="138.00" y="87.92" width="1.00" height="4.58" fill="#eab263"/>
<rect x="139.00" y="89.04" width="1.00" height="3.46" fill="#df952c"/>
<rect x="141.00" y="88.82" width="1.00" height="3.68" fill="#eab263"/>
<rect x="143.00" y="87.79" width="1.00" height="4.71" fill="#df952c"/>
<rect x="145.30" y="89.51" width="0.70" height="2.99" fill="#eab263"/>
<rect x="146.00" y="89.62" width="1.00" height="2.88" fill="#eab263"/>
<rect x="147.00" y="89.59" width="0.80" height="2.91" fill="#eab263"/>
<rect x="149.00" y="89.46" width="1.00" height="3.04" fill="#eab263"/>
<rect x="150.00" y="88.65" width="1.00" height="3.85" fill="#df952c"/>
<rect x="151.00" y="88.02" width="1.00" height="4.48" fill="#df952c"/>
<rect x="152.00" y="89.50" width="1.00" height="3.00" fill="#df952c"/>
<rect x="153.00" y="88.67" width="1.00" height="3.83" fill="#df952c"/>
<rect x="154.00" y="88.54" width="1.00" height="3.96" fill="#df952c"/>
<rect x="155.00" y="88.09" width="1.00" height="4.41" fill="#df952c"/>
<rect x="156.00" y="87.85" width="1.00" height="4.65" fill="#df952c"/>
<rect x="157.00" y="88.95" width="1.00" height="3.55" fill="#df952c"/>
<rect x="158.00" y="88.22" width="1.00" height="4.28" fill="#eab263"/>
<rect x="159.00" y="88.69" width="1.00" height="3.81" fill="#f3d3a2"/>
<rect x="160.00" y="87.62" width="1.00" height="4.88" fill="#f3d3a2"/>
<rect x="161.00" y="88.50" width="1.00" height="4.00" fill="#df952c"/>
<rect x="162.00" y="88.51" width="1.00" height="3.99" fill="#df952c"/>
<rect x="163.00" y="88.36" width="1.00" height="4.14" fill="#df952c"/>
<rect x="164.00" y="87.85" width="1.00" height="4.65" fill="#df952c"/>
<rect x="165.00" y="88.57" width="1.00" height="3.93" fill="#df952c"/>
<rect x="166.00" y="88.11" width="1.00" height="4.39" fill="#f3d3a2"/>
<rect x="167.00" y="88.74" width="1.00" height="3.76" fill="#df952c"/>
<rect x="168.00" y="88.91" width="1.00" height="3.59" fill="#df952c"/>
<rect x="169.00" y="88.85" width="1.00" height="3.65" fill="#eab263"/>
<rect x="170.00" y="88.87" width="1.00" height="3.63" fill="#df952c"/>
<rect x="171.00" y="88.98" width="1.00" height="3.52" fill="#eab263"/>
<rect x="172.00" y="87.62" width="1.00" height="4.88" fill="#df952c"/>
<rect x="174.00" y="88.55" width="1.00" height="3.95" fill="#f3d3a2"/>
<rect x="175.00" y="88.03" width="1.00" height="4.47" fill="#df952c"/>
<rect x="176.00" y="88.48" width="1.00" height="4.02" fill="#df952c"/>
<rect x="177.00" y="87.97" width="1.00" height="4.53" fill="#f3d3a2"/>
<rect x="178.00" y="87.86" width="1.00" height="4.64" fill="#df952c"/>
<rect x="179.00" y="89.51" width="1.00" height="2.99" fill="#df952c"/>
<rect x="180.00" y="88.94" width="1.00" height="3.56" fill="#df952c"/>
<rect x="181.00" y="88.83" width="1.00" height="3.67" fill="#eab263"/>
<rect x="182.00" y="88.03" width="1.00" height="4.47" fill="#df952c"/>
<rect x="183.00" y="87.84" width="1.00" height="4.66" fill="#f3d3a2"/>
<rect x="184.00" y="88.17" width="1.00" height="4.33" fill="#eab263"/>
<rect x="185.00" y="88.98" width="1.00" height="3.52" fill="#df952c"/>
<rect x="186.00" y="88.71" width="1.00" height="3.79" fill="#df952c"/>
<rect x="187.00" y="88.33" width="1.00" height="4.17" fill="#df952c"/>
<rect x="188.00" y="87.56" width="1.00" height="4.94" fill="#f3d3a2"/>
<rect x="189.00" y="87.64" width="1.00" height="4.86" fill="#df952c"/>
<rect x="190.00" y="87.67" width="1.00" height="4.83" fill="#df952c"/>
<rect x="191.00" y="88.69" width="1.00" height="3.81" fill="#df952c"/>
<rect x="192.00" y="87.83" width="1.00" height="4.67" fill="#df952c"/>
<rect x="193.00" y="89.19" width="1.00" height="3.31" fill="#eab263"/>
<rect x="195.00" y="87.92" width="1.00" height="4.58" fill="#df952c"/>
<rect x="196.00" y="88.49" width="1.00" height="4.01" fill="#df952c"/>
<rect x="197.00" y="88.96" width="1.00" height="3.54" fill="#df952c"/>
<rect x="198.00" y="88.04" width="1.00" height="4.46" fill="#df952c"/>
<rect x="199.00" y="87.51" width="1.00" height="4.99" fill="#df952c"/>
<rect x="200.00" y="88.85" width="1.00" height="3.65" fill="#df952c"/>
<rect x="201.00" y="87.53" width="1.00" height="4.97" fill="#eab263"/>
<rect x="202.00" y="88.28" width="1.00" height="4.22" fill="#eab263"/>
<rect x="203.00" y="88.58" width="1.00" height="3.92" fill="#df952c"/>
<rect x="204.00" y="87.52" width="1.00" height="4.98" fill="#df952c"/>
<rect x="205.00" y="88.36" width="1.00" height="4.14" fill="#df952c"/>
<rect x="206.00" y="87.83" width="1.00" height="4.67" fill="#eab263"/>
<rect x="207.00" y="89.09" width="1.00" height="3.41" fill="#df952c"/>
<rect x="208.00" y="88.53" width="1.00" height="3.97" fill="#df952c"/>
<rect x="209.00" y="88.06" width="1.00" height="4.44" fill="#df952c"/>
<rect x="211.00" y="87.94" width="1.00" height="4.56" fill="#eab263"/>
<rect x="212.00" y="87.80" width="1.00" height="4.70" fill="#df952c"/>
<rect x="213.00" y="88.88" width="1.00" height="3.62" fill="#eab263"/>
<rect x="214.00" y="87.99" width="1.00" height="4.51" fill="#df952c"/>
<rect x="215.00" y="88.86" width="1.00" height="3.64" fill="#eab263"/>
<rect x="216.00" y="87.84" width="1.00" height="4.66" fill="#f3d3a2"/>
<rect x="217.00" y="87.68" width="1.00" height="4.82" fill="#df952c"/>
<rect x="218.00" y="88.55" width="1.00" height="3.95" fill="#df952c"/>
<rect x="219.00" y="87.99" width="1.00" height="4.51" fill="#df952c"/>
<rect x="221.00" y="87.59" width="1.00" height="4.91" fill="#eab263"/>
<rect x="222.00" y="87.67" width="1.00" height="4.83" fill="#df952c"/>
<rect x="223.00" y="87.72" width="1.00" height="4.78" fill="#eab263"/>
<rect x="224.00" y="88.60" width="1.00" height="3.90" fill="#df952c"/>
<rect x="225.00" y="88.76" width="1.00" height="3.74" fill="#df952c"/>
<rect x="226.00" y="88.23" width="1.00" height="4.27" fill="#f3d3a2"/>
<rect x="227.00" y="88.12" width="1.00" height="4.38" fill="#eab263"/>
<rect x="228.00" y="88.23" width="1.00" height="4.27" fill="#f3d3a2"/>
<rect x="229.00" y="87.85" width="1.00" height="4.65" fill="#f3d3a2"/>
<rect x="230.00" y="87.75" width="1.00" height="4.75" fill="#df952c"/>
<rect x="231.00" y="89.28" width="1.00" height="3.22" fill="#eab263"/>
<rect x="232.00" y="88.17" width="1.00" height="4.33" fill="#df952c"/>
<rect x="233.00" y="88.62" width="1.00" height="3.88" fill="#f3d3a2"/>
<rect x="234.00" y="87.67" width="1.00" height="4.83" fill="#df952c"/>
<rect x="235.00" y="88.44" width="1.00" height="4.06" fill="#df952c"/>
<rect x="236.00" y="88.64" width="1.00" height="3.86" fill="#df952c"/>
<rect x="237.00" y="88.43" width="1.00" height="4.07" fill="#f3d3a2"/>
<rect x="238.00" y="87.77" width="1.00" height="4.73" fill="#df952c"/>
<rect x="239.00" y="87.52" width="1.00" height="4.98" fill="#df952c"/>
<rect x="240.00" y="88.12" width="1.00" height="4.38" fill="#df952c"/>
<rect x="241.00" y="89.08" width="1.00" height="3.42" fill="#f3d3a2"/>
<rect x="242.00" y="89.42" width="1.00" height="3.08" fill="#df952c"/>
<rect x="243.00" y="88.27" width="1.00" height="4.23" fill="#eab263"/>
<rect x="244.00" y="88.72" width="1.00" height="3.78" fill="#df952c"/>
<rect x="245.00" y="88.77" width="1.00" height="3.73" fill="#eab263"/>
<rect x="246.00" y="88.59" width="1.00" height="3.91" fill="#df952c"/>
<rect x="247.00" y="86.87" width="1.00" height="5.63" fill="#df952c"/>
<rect x="248.00" y="87.31" width="1.00" height="5.19" fill="#df952c"/>
<rect x="249.00" y="87.29" width="1.00" height="5.21" fill="#df952c"/>
<rect x="250.00" y="87.62" width="1.00" height="4.88" fill="#df952c"/>
<rect x="252.00" y="88.61" width="1.00" height="3.89" fill="#f3d3a2"/>
<rect x="253.00" y="87.48" width="1.00" height="5.02" fill="#f3d3a2"/>
<rect x="254.00" y="87.30" width="1.00" height="5.20" fill="#df952c"/>
<rect x="255.00" y="87.59" width="1.00" height="4.91" fill="#eab263"/>
<rect x="256.00" y="87.56" width="1.00" height="4.94" fill="#df952c"/>
<rect x="257.00" y="87.94" width="1.00" height="4.56" fill="#f3d3a2"/>
<rect x="258.00" y="88.37" width="1.00" height="4.13" fill="#eab263"/>
<rect x="259.00" y="87.99" width="1.00" height="4.51" fill="#df952c"/>
<rect x="260.00" y="88.35" width="1.00" height="4.15" fill="#f3d3a2"/>
<rect x="261.00" y="87.34" width="1.00" height="5.16" fill="#df952c"/>
<rect x="262.00" y="87.71" width="1.00" height="4.79" fill="#df952c"/>
<rect x="263.00" y="88.29" width="1.00" height="4.21" fill="#df952c"/>
<rect x="264.00" y="88.24" width="1.00" height="4.26" fill="#eab263"/>
<rect x="265.00" y="88.11" width="1.00" height="4.39" fill="#df952c"/>
<rect x="266.00" y="88.13" width="1.00" height="4.37" fill="#eab263"/>
<rect x="270.00" y="87.92" width="1.00" height="4.58" fill="#df952c"/>
<rect x="271.00" y="88.87" width="1.00" height="3.63" fill="#eab263"/>
<rect x="272.00" y="87.78" width="1.00" height="4.72" fill="#f3d3a2"/>
<rect x="273.00" y="88.37" width="1.00" height="4.13" fill="#df952c"/>
<rect x="274.00" y="88.25" width="1.00" height="4.25" fill="#eab263"/>
<rect x="275.00" y="88.08" width="1.00" height="4.42" fill="#df952c"/>
<rect x="276.00" y="87.56" width="1.00" height="4.94" fill="#df952c"/>
<rect x="277.00" y="87.59" width="1.00" height="4.91" fill="#df952c"/>
<rect x="278.00" y="88.39" width="1.00" height="4.11" fill="#df952c"/>
<rect x="279.00" y="88.13" width="1.00" height="4.37" fill="#eab263"/>
<rect x="280.00" y="87.85" width="1.00" height="4.65" fill="#df952c"/>
<rect x="281.00" y="88.48" width="1.00" height="4.02" fill="#df952c"/>
<rect x="282.00" y="87.99" width="1.00" height="4.51" fill="#f3d3a2"/>
<rect x="283.00" y="88.20" width="1.00" height="4.30" fill="#df952c"/>
<rect x="284.00" y="88.34" width="1.00" height="4.16" fill="#f3d3a2"/>
<rect x="285.00" y="88.95" width="1.00" height="3.55" fill="#df952c"/>
<rect x="286.00" y="88.87" width="1.00" height="3.63" fill="#df952c"/>
<rect x="287.00" y="88.32" width="1.00" height="4.18" fill="#df952c"/>
<rect x="288.00" y="89.50" width="1.00" height="3.00" fill="#df952c"/>
<rect x="299.00" y="88.47" width="1.00" height="4.03" fill="#df952c"/>
<rect x="300.00" y="87.61" width="1.00" height="4.89" fill="#df952c"/>
<rect x="301.00" y="89.33" width="1.00" height="3.17" fill="#df952c"/>
<rect x="302.00" y="88.56" width="1.00" height="3.94" fill="#df952c"/>
<rect x="303.00" y="88.85" width="1.00" height="3.65" fill="#eab263"/>
<rect x="304.00" y="89.28" width="1.00" height="3.22" fill="#df952c"/>
<rect x="305.00" y="89.69" width="1.00" height="2.81" fill="#df952c"/>
<rect x="306.00" y="88.99" width="1.00" height="3.51" fill="#df952c"/>
<rect x="307.00" y="87.65" width="1.00" height="4.85" fill="#df952c"/>
<rect x="307.50" y="92.00" width="3.30" height="0.50" fill="#df952c"/>
<rect x="315.50" y="91.50" width="1.00" height="1.00" fill="#df952c"/>
<rect x="321.60" y="91.50" width="0.90" height="1.00" fill="#df952c"/>
<rect x="334.00" y="90.50" width="0.80" height="2.00" fill="#df952c"/>
<rect x="365.00" y="91.50" width="5.00" height="1.00" fill="#df952c"/>
<rect x="371.00" y="86.50" width="1.00" height="6.00" fill="#df952c"/>
<rect x="372.60" y="88.51" width="0.40" height="3.99" fill="#df952c"/>
<rect x="373.00" y="88.68" width="1.00" height="3.82" fill="#eab263"/>
<rect x="374.00" y="88.54" width="1.00" height="3.96" fill="#df952c"/>
<rect x="376.00" y="89.50" width="1.50" height="3.00" fill="#df952c"/>
<rect x="378.00" y="87.50" width="1.00" height="5.00" fill="#df952c"/>
<rect x="383.00" y="88.50" width="1.60" height="4.00" fill="#df952c"/>
<rect x="388.00" y="89.70" width="1.00" height="2.80" fill="#df952c"/>
<rect x="389.00" y="89.53" width="1.00" height="2.97" fill="#df952c"/>
<rect x="390.00" y="89.63" width="1.00" height="2.87" fill="#df952c"/>
<rect x="391.00" y="89.51" width="1.00" height="2.99" fill="#df952c"/>
<rect x="392.00" y="89.70" width="1.00" height="2.80" fill="#eab263"/>
<rect x="393.00" y="89.62" width="1.00" height="2.88" fill="#eab263"/>
<rect x="398.00" y="91.50" width="1.00" height="1.00" fill="#df952c"/>
<rect x="403.00" y="91.50" width="1.00" height="1.00" fill="#df952c"/>
<rect x="413.80" y="85.79" width="0.20" height="6.71" fill="#df952c"/>
<rect x="414.00" y="85.84" width="1.00" height="6.66" fill="#df952c"/>
<rect x="415.00" y="85.66" width="1.00" height="6.84" fill="#df952c"/>
<rect x="416.00" y="85.86" width="1.00" height="6.64" fill="#df952c"/>
<rect x="417.00" y="85.83" width="0.60" height="6.67" fill="#eab263"/>
<rect x="419.30" y="88.50" width="1.30" height="4.00" fill="#df952c"/>
<rect x="424.50" y="91.50" width="1.00" height="1.00" fill="#df952c"/>
<rect x="429.50" y="88.50" width="1.50" height="4.00" fill="#df952c"/>
<rect x="431.00" y="87.50" width="2.00" height="5.00" fill="#df952c"/>
<rect x="441.00" y="91.50" width="1.00" height="1.00" fill="#df952c"/>
<rect x="443.00" y="89.50" width="1.00" height="3.00" fill="#df952c"/>
<rect x="446.00" y="90.50" width="1.50" height="2.00" fill="#df952c"/>
<rect x="449.00" y="88.50" width="1.50" height="4.00" fill="#df952c"/>
<rect x="450.50" y="87.00" width="1.50" height="5.50" fill="#df952c"/>
<rect x="452.00" y="87.77" width="1.00" height="4.73" fill="#df952c"/>
<rect x="453.00" y="87.72" width="1.00" height="4.78" fill="#eab263"/>
<rect x="454.00" y="87.77" width="1.00" height="4.73" fill="#df952c"/>
<rect x="455.00" y="87.57" width="0.80" height="4.93" fill="#eab263"/>
<rect x="457.00" y="88.50" width="1.00" height="4.00" fill="#eab263"/>
<rect x="459.00" y="89.50" width="1.40" height="3.00" fill="#eab263"/>
<rect x="462.00" y="90.50" width="2.00" height="2.00" fill="#df952c"/>
<rect x="466.00" y="89.22" width="1.00" height="3.28" fill="#df952c"/>
<rect x="467.00" y="88.75" width="1.00" height="3.75" fill="#eab263"/>
<rect x="468.00" y="88.83" width="1.00" height="3.67" fill="#df952c"/>
<rect x="469.00" y="89.31" width="1.00" height="3.19" fill="#df952c"/>
<rect x="470.00" y="88.76" width="1.00" height="3.74" fill="#f3d3a2"/>
<rect x="471.00" y="89.64" width="1.00" height="2.86" fill="#f3d3a2"/>
<rect x="472.00" y="88.90" width="1.00" height="3.60" fill="#eab263"/>
<rect x="473.00" y="89.28" width="1.00" height="3.22" fill="#eab263"/>
<rect x="476.00" y="88.57" width="1.00" height="3.93" fill="#eab263"/>
<rect x="477.00" y="88.63" width="1.00" height="3.87" fill="#df952c"/>
<rect x="478.00" y="88.77" width="1.00" height="3.73" fill="#eab263"/>
<rect x="479.00" y="88.62" width="1.00" height="3.88" fill="#eab263"/>
<rect x="480.00" y="88.65" width="0.50" height="3.85" fill="#df952c"/>
<rect x="489.60" y="92.00" width="0.80" height="0.50" fill="#df952c"/>
<rect x="498.70" y="91.50" width="1.30" height="1.00" fill="#df952c"/>
<rect x="501.00" y="86.75" width="1.00" height="5.75" fill="#df952c"/>
<rect x="502.00" y="88.23" width="1.00" height="4.27" fill="#f3d3a2"/>
<rect x="503.00" y="87.30" width="1.00" height="5.20" fill="#df952c"/>
<rect x="504.00" y="87.01" width="1.00" height="5.49" fill="#df952c"/>
<rect x="506.00" y="87.17" width="1.00" height="5.33" fill="#df952c"/>
<rect x="507.00" y="87.71" width="1.00" height="4.79" fill="#df952c"/>
<rect x="96.50" y="94.60" width="1.50" height="3.20" fill="#000" fill-opacity="0.45"/>
<rect x="98.80" y="94.60" width="1.00" height="3.20" fill="#000" fill-opacity="0.95"/>
<rect x="100.50" y="94.60" width="1.00" height="3.20" fill="#000" fill-opacity="0.95"/>
<rect x="103.00" y="94.60" width="1.00" height="3.20" fill="#000" fill-opacity="0.76"/>
<rect x="106.00" y="94.60" width="1.00" height="3.20" fill="#000" fill-opacity="0.76"/>
<rect x="110.00" y="94.60" width="1.50" height="3.20" fill="#000" fill-opacity="0.81"/>
<rect x="112.50" y="94.60" width="1.50" height="3.20" fill="#000" fill-opacity="0.54"/>
<rect x="114.50" y="94.60" width="1.70" height="3.20" fill="#000" fill-opacity="0.54"/>
<rect x="117.00" y="94.60" width="1.00" height="3.20" fill="#000" fill-opacity="0.45"/>
<rect x="119.00" y="94.60" width="1.50" height="3.20" fill="#000" fill-opacity="0.81"/>
<rect x="122.50" y="94.60" width="1.00" height="3.20" fill="#000" fill-opacity="0.45"/>
<rect x="125.00" y="94.60" width="1.20" height="3.20" fill="#000" fill-opacity="0.81"/>
<rect x="129.00" y="94.60" width="2.00" height="3.20" fill="#000" fill-opacity="0.45"/>
<rect x="132.00" y="94.60" width="2.50" height="3.20" fill="#000" fill-opacity="0.81"/>
<rect x="137.50" y="94.60" width="1.50" height="3.20" fill="#000" fill-opacity="0.45"/>
<rect x="139.50" y="94.60" width="1.00" height="3.20" fill="#000" fill-opacity="0.45"/>
<rect x="141.50" y="94.60" width="1.00" height="3.20" fill="#000" fill-opacity="0.85"/>
<rect x="143.50" y="94.60" width="1.00" height="3.20" fill="#000" fill-opacity="0.85"/>
<rect x="146.50" y="94.60" width="1.00" height="3.20" fill="#000" fill-opacity="0.81"/>
<rect x="148.50" y="94.60" width="1.00" height="3.20" fill="#000" fill-opacity="0.76"/>
<rect x="150.50" y="94.60" width="1.00" height="3.20" fill="#000" fill-opacity="0.76"/>
<rect x="153.00" y="94.60" width="1.00" height="3.20" fill="#000" fill-opacity="0.85"/>
<rect x="155.00" y="94.60" width="1.00" height="3.20" fill="#000" fill-opacity="0.85"/>
<rect x="158.00" y="94.60" width="1.00" height="3.20" fill="#000" fill-opacity="0.85"/>
<rect x="160.50" y="94.60" width="1.00" height="3.20" fill="#000" fill-opacity="0.85"/>
<rect x="163.00" y="94.60" width="1.00" height="3.20" fill="#000" fill-opacity="0.85"/>
<rect x="166.50" y="94.60" width="1.00" height="3.20" fill="#000" fill-opacity="0.85"/>
<rect x="169.00" y="94.60" width="1.00" height="3.20" fill="#000" fill-opacity="0.85"/>
<rect x="171.50" y="94.60" width="1.50" height="3.20" fill="#000" fill-opacity="0.81"/>
<rect x="174.00" y="94.60" width="2.00" height="3.20" fill="#000" fill-opacity="0.63"/>
<rect x="177.00" y="94.60" width="1.50" height="3.20" fill="#000" fill-opacity="0.90"/>
<rect x="180.00" y="94.60" width="2.00" height="3.20" fill="#000" fill-opacity="0.45"/>
<rect x="183.00" y="94.60" width="1.50" height="3.20" fill="#000" fill-opacity="0.81"/>
<rect x="185.50" y="94.60" width="2.50" height="3.20" fill="#000" fill-opacity="0.81"/>
<rect x="189.00" y="94.60" width="1.00" height="3.20" fill="#000" fill-opacity="0.45"/>
<rect x="191.00" y="94.60" width="1.00" height="3.20" fill="#000" fill-opacity="0.27"/>
<rect x="193.50" y="94.60" width="1.00" height="3.20" fill="#000" fill-opacity="0.95"/>
<rect x="197.00" y="94.60" width="1.00" height="3.20" fill="#000" fill-opacity="0.95"/>
<rect x="198.00" y="94.60" width="1.20" height="3.20" fill="#000" fill-opacity="0.90"/>
<rect x="201.00" y="94.60" width="1.50" height="3.20" fill="#000" fill-opacity="0.81"/>
<rect x="203.50" y="94.60" width="2.00" height="3.20" fill="#000" fill-opacity="0.54"/>
<rect x="206.00" y="94.60" width="1.50" height="3.20" fill="#000" fill-opacity="0.90"/>
<rect x="208.50" y="94.60" width="2.50" height="3.20" fill="#000" fill-opacity="0.81"/>
<rect x="211.50" y="94.60" width="2.50" height="3.20" fill="#000" fill-opacity="0.63"/>
<rect x="217.00" y="94.60" width="2.00" height="3.20" fill="#000" fill-opacity="0.81"/>
<rect x="220.50" y="94.60" width="1.00" height="3.20" fill="#000" fill-opacity="0.85"/>
<rect x="223.00" y="94.60" width="1.00" height="3.20" fill="#000" fill-opacity="0.85"/>
<rect x="227.00" y="94.60" width="1.50" height="3.20" fill="#000" fill-opacity="0.45"/>
<rect x="229.50" y="94.60" width="2.50" height="3.20" fill="#000" fill-opacity="0.90"/>
<rect x="232.50" y="94.60" width="1.50" height="3.20" fill="#000" fill-opacity="0.81"/>
<rect x="235.00" y="94.60" width="1.50" height="3.20" fill="#000" fill-opacity="0.90"/>
<rect x="238.50" y="94.60" width="1.50" height="3.20" fill="#000" fill-opacity="0.81"/>
<rect x="241.00" y="94.60" width="1.50" height="3.20" fill="#000" fill-opacity="0.81"/>
<rect x="244.00" y="94.60" width="1.50" height="3.20" fill="#000" fill-opacity="0.81"/>
<rect x="247.00" y="94.60" width="1.00" height="3.20" fill="#000" fill-opacity="0.85"/>
<rect x="249.00" y="94.60" width="1.00" height="3.20" fill="#000" fill-opacity="0.85"/>
<rect x="250.00" y="94.60" width="2.00" height="3.20" fill="#000" fill-opacity="0.81"/>
<rect x="252.50" y="94.60" width="1.00" height="3.20" fill="#000" fill-opacity="0.95"/>
<rect x="255.00" y="94.60" width="1.00" height="3.20" fill="#000" fill-opacity="0.95"/>
<rect x="257.50" y="94.60" width="1.00" height="3.20" fill="#000" fill-opacity="0.95"/>
<rect x="260.00" y="94.60" width="1.00" height="3.20" fill="#000" fill-opacity="0.95"/>
<rect x="262.00" y="94.60" width="1.00" height="3.20" fill="#000" fill-opacity="0.90"/>
<rect x="265.00" y="94.60" width="1.00" height="3.20" fill="#000" fill-opacity="0.90"/>
<rect x="267.00" y="94.60" width="1.00" height="3.20" fill="#000" fill-opacity="0.45"/>
<rect x="269.00" y="94.60" width="1.00" height="3.20" fill="#000" fill-opacity="0.81"/>
<rect x="271.50" y="94.60" width="1.00" height="3.20" fill="#000" fill-opacity="0.95"/>
<rect x="274.00" y="94.60" width="1.00" height="3.20" fill="#000" fill-opacity="0.95"/>
<rect x="276.00" y="94.60" width="1.00" height="3.20" fill="#000" fill-opacity="0.45"/>
<rect x="278.00" y="94.60" width="1.00" height="3.20" fill="#000" fill-opacity="0.66"/>
<rect x="281.00" y="94.60" width="1.00" height="3.20" fill="#000" fill-opacity="0.66"/>
<rect x="283.00" y="94.60" width="1.50" height="3.20" fill="#000" fill-opacity="0.81"/>
<rect x="285.50" y="94.60" width="1.50" height="3.20" fill="#000" fill-opacity="0.81"/>
<rect x="288.00" y="94.60" width="1.00" height="3.20" fill="#000" fill-opacity="0.28"/>
<rect x="290.00" y="94.60" width="1.00" height="3.20" fill="#000" fill-opacity="0.28"/>
<rect x="293.50" y="94.60" width="1.00" height="3.20" fill="#000" fill-opacity="0.45"/>
<rect x="296.50" y="94.60" width="1.50" height="3.20" fill="#000" fill-opacity="0.81"/>
<rect x="299.00" y="94.60" width="1.50" height="3.20" fill="#000" fill-opacity="0.45"/>
<rect x="302.00" y="94.60" width="2.50" height="3.20" fill="#000" fill-opacity="0.81"/>
<rect x="306.00" y="94.60" width="2.00" height="3.20" fill="#000" fill-opacity="0.81"/>
<rect x="309.50" y="94.60" width="1.50" height="3.20" fill="#000" fill-opacity="0.90"/>
<rect x="315.00" y="94.60" width="1.50" height="3.20" fill="#000" fill-opacity="0.45"/>
<rect x="318.00" y="94.60" width="2.00" height="3.20" fill="#000" fill-opacity="0.45"/>
<rect x="321.50" y="94.60" width="1.50" height="3.20" fill="#000" fill-opacity="0.81"/>
<rect x="324.50" y="94.60" width="1.50" height="3.20" fill="#000" fill-opacity="0.81"/>
<rect x="328.00" y="94.60" width="1.00" height="3.20" fill="#000" fill-opacity="0.90"/>
<rect x="331.00" y="94.60" width="1.00" height="3.20" fill="#000" fill-opacity="0.90"/>
<rect x="333.00" y="94.60" width="2.00" height="3.20" fill="#000" fill-opacity="0.45"/>
<rect x="365.00" y="94.60" width="1.00" height="3.20" fill="#000" fill-opacity="0.85"/>
<rect x="367.00" y="94.60" width="1.00" height="3.20" fill="#000" fill-opacity="0.85"/>
<rect x="369.00" y="94.60" width="1.00" height="3.20" fill="#000" fill-opacity="0.85"/>
<rect x="371.00" y="94.60" width="1.00" height="3.20" fill="#000" fill-opacity="0.45"/>
<rect x="373.50" y="94.60" width="1.50" height="3.20" fill="#000" fill-opacity="0.90"/>
<rect x="376.50" y="94.60" width="2.00" height="3.20" fill="#000" fill-opacity="0.85"/>
<rect x="383.00" y="94.60" width="1.00" height="3.20" fill="#000" fill-opacity="0.81"/>
<rect x="388.50" y="94.60" width="1.50" height="3.20" fill="#000" fill-opacity="0.81"/>
<rect x="392.00" y="94.60" width="1.50" height="3.20" fill="#000" fill-opacity="0.81"/>
<rect x="395.50" y="94.60" width="1.50" height="3.20" fill="#000" fill-opacity="0.45"/>
<rect x="399.50" y="94.60" width="0.50" height="3.20" fill="#000" fill-opacity="0.27"/>
<rect x="403.00" y="94.60" width="1.00" height="3.20" fill="#000" fill-opacity="0.45"/>
<rect x="411.50" y="94.60" width="1.00" height="3.20" fill="#000" fill-opacity="0.45"/>
<rect x="414.00" y="94.60" width="2.00" height="3.20" fill="#000" fill-opacity="0.81"/>
<rect x="419.50" y="94.60" width="1.00" height="3.20" fill="#000" fill-opacity="0.45"/>
<rect x="423.50" y="94.60" width="1.50" height="3.20" fill="#000" fill-opacity="0.45"/>
<rect x="430.50" y="94.60" width="1.50" height="3.20" fill="#000" fill-opacity="0.90"/>
<rect x="438.50" y="94.60" width="1.00" height="3.20" fill="#000" fill-opacity="0.27"/>
<rect x="440.50" y="94.60" width="1.00" height="3.20" fill="#000" fill-opacity="0.85"/>
<rect x="443.00" y="94.60" width="1.00" height="3.20" fill="#000" fill-opacity="0.85"/>
<rect x="445.50" y="94.60" width="1.50" height="3.20" fill="#000" fill-opacity="0.45"/>
<rect x="448.50" y="94.60" width="2.00" height="3.20" fill="#000" fill-opacity="0.90"/>
<rect x="451.50" y="94.60" width="1.00" height="3.20" fill="#000" fill-opacity="0.95"/>
<rect x="455.00" y="94.60" width="1.00" height="3.20" fill="#000" fill-opacity="0.95"/>
<rect x="457.00" y="94.60" width="1.00" height="3.20" fill="#000" fill-opacity="0.45"/>
<rect x="458.50" y="94.60" width="1.50" height="3.20" fill="#000" fill-opacity="0.45"/>
<rect x="462.00" y="94.60" width="2.20" height="3.20" fill="#000" fill-opacity="0.90"/>
<rect x="464.70" y="94.60" width="1.00" height="3.20" fill="#000" fill-opacity="0.85"/>
<rect x="467.40" y="94.60" width="1.00" height="3.20" fill="#000" fill-opacity="0.85"/>
<rect x="469.40" y="94.60" width="1.00" height="3.20" fill="#000" fill-opacity="0.95"/>
<rect x="471.50" y="94.60" width="1.00" height="3.20" fill="#000" fill-opacity="0.95"/>
<rect x="476.20" y="94.60" width="2.00" height="3.20" fill="#000" fill-opacity="0.81"/>
<rect x="478.80" y="94.60" width="1.50" height="3.20" fill="#000" fill-opacity="0.45"/>
<rect x="485.50" y="94.60" width="1.10" height="3.20" fill="#000" fill-opacity="0.27"/>
<rect x="489.70" y="94.60" width="1.00" height="3.20" fill="#000" fill-opacity="0.81"/>
<rect x="491.20" y="94.60" width="1.10" height="3.20" fill="#000" fill-opacity="0.45"/>
<rect x="498.00" y="94.60" width="1.50" height="3.20" fill="#000" fill-opacity="0.81"/>
<rect x="500.00" y="94.60" width="1.00" height="3.20" fill="#000" fill-opacity="0.85"/>
<rect x="501.70" y="94.60" width="1.00" height="3.20" fill="#000" fill-opacity="0.85"/>
<rect x="504.70" y="94.60" width="1.10" height="3.20" fill="#000" fill-opacity="0.81"/>
<rect x="96.00" y="125.95" width="416.00" height="0.90" fill="#b9c4dc"/>
<rect x="96.40" y="118.50" width="0.60" height="8.00" fill="#9eaed0"/>
<rect x="97.40" y="113.50" width="1.30" height="13.00" fill="#4d67a1"/>
<rect x="98.70" y="112.59" width="0.30" height="13.91" fill="#1f3c7e"/>
<rect x="99.00" y="113.28" width="1.00" height="13.22" fill="#1f3c7e"/>
<rect x="100.00" y="112.74" width="1.00" height="13.76" fill="#4d67a1"/>
<rect x="101.00" y="113.46" width="0.80" height="13.04" fill="#4d67a1"/>
<rect x="102.70" y="114.60" width="0.30" height="11.90" fill="#1f3c7e"/>
<rect x="103.00" y="114.58" width="1.00" height="11.92" fill="#1f3c7e"/>
<rect x="104.00" y="114.43" width="1.00" height="12.07" fill="#1f3c7e"/>
<rect x="105.00" y="114.37" width="1.00" height="12.13" fill="#1f3c7e"/>
<rect x="110.00" y="112.50" width="1.30" height="14.00" fill="#1f3c7e"/>
<rect x="111.30" y="114.50" width="0.70" height="12.00" fill="#9eaed0"/>
<rect x="114.60" y="114.76" width="0.40" height="11.74" fill="#4d67a1"/>
<rect x="115.00" y="114.58" width="1.00" height="11.92" fill="#4d67a1"/>
<rect x="116.00" y="114.67" width="1.00" height="11.83" fill="#9eaed0"/>
<rect x="117.00" y="115.32" width="1.00" height="11.18" fill="#4d67a1"/>
<rect x="118.80" y="114.97" width="0.20" height="11.53" fill="#1f3c7e"/>
<rect x="119.00" y="115.03" width="1.00" height="11.47" fill="#4d67a1"/>
<rect x="121.00" y="114.88" width="0.40" height="11.62" fill="#1f3c7e"/>
<rect x="122.20" y="113.50" width="0.80" height="13.00" fill="#9eaed0"/>
<rect x="124.80" y="111.50" width="1.20" height="15.00" fill="#1f3c7e"/>
<rect x="129.00" y="113.81" width="1.00" height="12.69" fill="#9eaed0"/>
<rect x="130.00" y="113.68" width="1.00" height="12.82" fill="#9eaed0"/>
<rect x="131.00" y="114.02" width="0.60" height="12.48" fill="#9eaed0"/>
<rect x="132.00" y="111.50" width="2.00" height="15.00" fill="#1f3c7e"/>
<rect x="137.50" y="112.50" width="1.70" height="14.00" fill="#1f3c7e"/>
<rect x="140.00" y="112.20" width="1.00" height="14.30" fill="#9eaed0"/>
<rect x="141.00" y="112.53" width="1.00" height="13.97" fill="#1f3c7e"/>
<rect x="143.00" y="112.80" width="1.00" height="13.70" fill="#4d67a1"/>
<rect x="146.00" y="114.50" width="1.70" height="12.00" fill="#9eaed0"/>
<rect x="148.60" y="114.13" width="0.40" height="12.37" fill="#4d67a1"/>
<rect x="149.00" y="114.25" width="1.00" height="12.25" fill="#4d67a1"/>
<rect x="150.00" y="113.96" width="1.00" height="12.54" fill="#4d67a1"/>
<rect x="151.00" y="115.02" width="1.00" height="11.48" fill="#1f3c7e"/>
<rect x="152.00" y="112.24" width="1.00" height="14.26" fill="#1f3c7e"/>
<rect x="153.00" y="112.65" width="1.00" height="13.85" fill="#9eaed0"/>
<rect x="155.40" y="110.50" width="1.60" height="16.00" fill="#1f3c7e"/>
<rect x="157.00" y="114.50" width="1.80" height="12.00" fill="#9eaed0"/>
<rect x="159.00" y="113.23" width="1.00" height="13.27" fill="#4d67a1"/>
<rect x="160.00" y="113.38" width="1.00" height="13.12" fill="#1f3c7e"/>
<rect x="161.00" y="112.83" width="1.00" height="13.67" fill="#1f3c7e"/>
<rect x="162.00" y="113.21" width="1.00" height="13.29" fill="#1f3c7e"/>
<rect x="166.00" y="111.18" width="1.00" height="15.32" fill="#1f3c7e"/>
<rect x="167.00" y="111.96" width="1.00" height="14.54" fill="#4d67a1"/>
<rect x="168.00" y="111.07" width="1.00" height="15.43" fill="#4d67a1"/>
<rect x="169.00" y="111.81" width="1.00" height="14.69" fill="#1f3c7e"/>
<rect x="170.00" y="114.06" width="1.00" height="12.44" fill="#1f3c7e"/>
<rect x="171.00" y="113.69" width="1.00" height="12.81" fill="#4d67a1"/>
<rect x="172.00" y="114.37" width="1.00" height="12.13" fill="#4d67a1"/>
<rect x="173.00" y="112.53" width="1.00" height="13.97" fill="#1f3c7e"/>
<rect x="174.00" y="112.83" width="1.00" height="13.67" fill="#1f3c7e"/>
<rect x="175.00" y="111.86" width="1.00" height="14.64" fill="#1f3c7e"/>
<rect x="176.00" y="113.28" width="1.00" height="13.22" fill="#1f3c7e"/>
<rect x="177.00" y="113.52" width="1.00" height="12.98" fill="#4d67a1"/>
<rect x="179.00" y="113.19" width="1.00" height="13.31" fill="#1f3c7e"/>
<rect x="180.00" y="112.90" width="1.00" height="13.60" fill="#4d67a1"/>
<rect x="181.00" y="112.27" width="1.00" height="14.23" fill="#4d67a1"/>
<rect x="182.00" y="112.46" width="1.00" height="14.04" fill="#1f3c7e"/>
<rect x="183.00" y="112.54" width="1.00" height="13.96" fill="#1f3c7e"/>
<rect x="184.00" y="112.97" width="1.00" height="13.53" fill="#1f3c7e"/>
<rect x="185.00" y="113.08" width="1.00" height="13.42" fill="#9eaed0"/>
<rect x="186.00" y="113.04" width="1.00" height="13.46" fill="#1f3c7e"/>
<rect x="187.00" y="113.24" width="1.00" height="13.26" fill="#1f3c7e"/>
<rect x="188.00" y="112.99" width="1.00" height="13.51" fill="#1f3c7e"/>
<rect x="189.00" y="111.84" width="1.00" height="14.66" fill="#1f3c7e"/>
<rect x="190.00" y="113.89" width="1.00" height="12.61" fill="#1f3c7e"/>
<rect x="191.00" y="113.48" width="1.00" height="13.02" fill="#1f3c7e"/>
<rect x="192.00" y="113.19" width="1.00" height="13.31" fill="#1f3c7e"/>
<rect x="193.00" y="115.29" width="1.00" height="11.21" fill="#4d67a1"/>
<rect x="194.00" y="113.79" width="1.00" height="12.71" fill="#1f3c7e"/>
<rect x="195.00" y="114.82" width="1.00" height="11.68" fill="#1f3c7e"/>
<rect x="196.00" y="111.90" width="1.00" height="14.60" fill="#1f3c7e"/>
<rect x="197.00" y="113.06" width="1.00" height="13.44" fill="#4d67a1"/>
<rect x="198.00" y="112.73" width="1.00" height="13.77" fill="#4d67a1"/>
<rect x="199.00" y="112.50" width="1.00" height="14.00" fill="#9eaed0"/>
<rect x="200.00" y="113.01" width="1.00" height="13.49" fill="#4d67a1"/>
<rect x="201.00" y="112.89" width="1.00" height="13.61" fill="#9eaed0"/>
<rect x="202.00" y="113.31" width="1.00" height="13.19" fill="#4d67a1"/>
<rect x="203.00" y="112.31" width="1.00" height="14.19" fill="#1f3c7e"/>
<rect x="204.00" y="112.24" width="1.00" height="14.26" fill="#9eaed0"/>
<rect x="205.00" y="111.95" width="1.00" height="14.55" fill="#1f3c7e"/>
<rect x="206.00" y="111.80" width="1.00" height="14.70" fill="#1f3c7e"/>
<rect x="207.00" y="113.22" width="1.00" height="13.28" fill="#9eaed0"/>
<rect x="208.00" y="112.96" width="1.00" height="13.54" fill="#1f3c7e"/>
<rect x="209.00" y="112.18" width="1.00" height="14.32" fill="#9eaed0"/>
<rect x="210.00" y="112.85" width="1.00" height="13.65" fill="#4d67a1"/>
<rect x="211.00" y="113.26" width="1.00" height="13.24" fill="#1f3c7e"/>
<rect x="212.00" y="112.46" width="1.00" height="14.04" fill="#1f3c7e"/>
<rect x="213.00" y="113.33" width="1.00" height="13.17" fill="#4d67a1"/>
<rect x="214.00" y="113.26" width="1.00" height="13.24" fill="#4d67a1"/>
<rect x="215.00" y="115.42" width="1.00" height="11.08" fill="#4d67a1"/>
<rect x="216.00" y="112.88" width="1.00" height="13.62" fill="#1f3c7e"/>
<rect x="217.00" y="112.21" width="1.00" height="14.29" fill="#9eaed0"/>
<rect x="218.00" y="113.44" width="1.00" height="13.06" fill="#4d67a1"/>
<rect x="219.00" y="114.61" width="1.00" height="11.89" fill="#1f3c7e"/>
<rect x="220.00" y="113.30" width="1.00" height="13.20" fill="#1f3c7e"/>
<rect x="221.00" y="113.05" width="1.00" height="13.45" fill="#4d67a1"/>
<rect x="222.00" y="114.18" width="1.00" height="12.32" fill="#9eaed0"/>
<rect x="223.00" y="113.00" width="1.00" height="13.50" fill="#1f3c7e"/>
<rect x="225.00" y="112.36" width="1.00" height="14.14" fill="#4d67a1"/>
<rect x="226.00" y="113.45" width="1.00" height="13.05" fill="#1f3c7e"/>
<rect x="227.00" y="112.33" width="1.00" height="14.17" fill="#4d67a1"/>
<rect x="228.00" y="112.60" width="1.00" height="13.90" fill="#1f3c7e"/>
<rect x="229.00" y="112.57" width="1.00" height="13.93" fill="#4d67a1"/>
<rect x="230.00" y="111.88" width="1.00" height="14.62" fill="#1f3c7e"/>
<rect x="231.00" y="113.32" width="1.00" height="13.18" fill="#1f3c7e"/>
<rect x="232.00" y="112.23" width="1.00" height="14.27" fill="#4d67a1"/>
<rect x="233.00" y="115.37" width="1.00" height="11.13" fill="#1f3c7e"/>
<rect x="234.00" y="111.92" width="1.00" height="14.58" fill="#1f3c7e"/>
<rect x="235.00" y="112.20" width="1.00" height="14.30" fill="#1f3c7e"/>
<rect x="236.00" y="112.74" width="1.00" height="13.76" fill="#9eaed0"/>
<rect x="237.00" y="113.14" width="1.00" height="13.36" fill="#4d67a1"/>
<rect x="238.00" y="112.39" width="1.00" height="14.11" fill="#4d67a1"/>
<rect x="239.00" y="112.86" width="1.00" height="13.64" fill="#9eaed0"/>
<rect x="240.00" y="112.34" width="1.00" height="14.16" fill="#9eaed0"/>
<rect x="241.00" y="112.94" width="1.00" height="13.56" fill="#4d67a1"/>
<rect x="242.00" y="113.15" width="1.00" height="13.35" fill="#1f3c7e"/>
<rect x="243.00" y="113.56" width="1.00" height="12.94" fill="#1f3c7e"/>
<rect x="244.00" y="112.07" width="1.00" height="14.43" fill="#1f3c7e"/>
<rect x="245.00" y="112.59" width="1.00" height="13.91" fill="#4d67a1"/>
<rect x="246.00" y="112.60" width="1.00" height="13.90" fill="#4d67a1"/>
<rect x="247.00" y="111.88" width="1.00" height="14.62" fill="#9eaed0"/>
<rect x="248.00" y="113.09" width="1.00" height="13.41" fill="#9eaed0"/>
<rect x="249.00" y="113.35" width="1.00" height="13.15" fill="#4d67a1"/>
<rect x="250.00" y="112.20" width="1.00" height="14.30" fill="#1f3c7e"/>
<rect x="251.00" y="114.82" width="1.00" height="11.68" fill="#4d67a1"/>
<rect x="252.00" y="112.58" width="1.00" height="13.92" fill="#1f3c7e"/>
<rect x="253.00" y="112.65" width="1.00" height="13.85" fill="#9eaed0"/>
<rect x="254.00" y="112.42" width="1.00" height="14.08" fill="#1f3c7e"/>
<rect x="255.00" y="112.79" width="1.00" height="13.71" fill="#1f3c7e"/>
<rect x="256.00" y="112.08" width="1.00" height="14.42" fill="#1f3c7e"/>
<rect x="257.00" y="112.77" width="1.00" height="13.73" fill="#9eaed0"/>
<rect x="258.00" y="112.03" width="1.00" height="14.47" fill="#1f3c7e"/>
<rect x="259.00" y="113.17" width="1.00" height="13.33" fill="#9eaed0"/>
<rect x="260.00" y="113.33" width="1.00" height="13.17" fill="#1f3c7e"/>
<rect x="261.00" y="112.26" width="1.00" height="14.24" fill="#4d67a1"/>
<rect x="262.00" y="112.25" width="1.00" height="14.25" fill="#4d67a1"/>
<rect x="263.00" y="114.50" width="0.90" height="12.00" fill="#4d67a1"/>
<rect x="263.90" y="112.50" width="1.70" height="14.00" fill="#1f3c7e"/>
<rect x="265.60" y="115.13" width="0.40" height="11.37" fill="#9eaed0"/>
<rect x="266.00" y="114.80" width="1.00" height="11.70" fill="#4d67a1"/>
<rect x="267.00" y="114.87" width="1.00" height="11.63" fill="#4d67a1"/>
<rect x="269.00" y="113.46" width="1.00" height="13.04" fill="#4d67a1"/>
<rect x="270.00" y="113.93" width="1.00" height="12.57" fill="#1f3c7e"/>
<rect x="271.00" y="113.70" width="0.50" height="12.80" fill="#1f3c7e"/>
<rect x="271.50" y="113.22" width="0.50" height="13.28" fill="#1f3c7e"/>
<rect x="272.00" y="113.19" width="1.00" height="13.31" fill="#4d67a1"/>
<rect x="273.00" y="113.20" width="1.00" height="13.30" fill="#1f3c7e"/>
<rect x="274.00" y="113.07" width="1.00" height="13.43" fill="#1f3c7e"/>
<rect x="275.00" y="113.67" width="1.00" height="12.83" fill="#4d67a1"/>
<rect x="276.00" y="113.64" width="1.00" height="12.86" fill="#4d67a1"/>
<rect x="277.00" y="114.13" width="1.00" height="12.37" fill="#4d67a1"/>
<rect x="278.00" y="114.03" width="1.00" height="12.47" fill="#4d67a1"/>
<rect x="279.00" y="114.36" width="1.00" height="12.14" fill="#9eaed0"/>
<rect x="280.00" y="110.50" width="1.70" height="16.00" fill="#1f3c7e"/>
<rect x="283.00" y="113.91" width="1.00" height="12.59" fill="#9eaed0"/>
<rect x="284.00" y="113.92" width="1.00" height="12.58" fill="#9eaed0"/>
<rect x="285.00" y="113.24" width="1.00" height="13.26" fill="#9eaed0"/>
<rect x="286.00" y="113.07" width="0.80" height="13.43" fill="#9eaed0"/>
<rect x="288.20" y="114.09" width="0.80" height="12.41" fill="#9eaed0"/>
<rect x="289.00" y="114.86" width="1.00" height="11.64" fill="#4d67a1"/>
<rect x="290.00" y="114.82" width="0.60" height="11.68" fill="#9eaed0"/>
<rect x="296.20" y="125.00" width="1.70" height="1.50" fill="#1f3c7e"/>
<rect x="301.00" y="125.50" width="0.50" height="1.00" fill="#1f3c7e"/>
<rect x="305.50" y="125.50" width="1.00" height="1.00" fill="#1f3c7e"/>
<rect x="312.30" y="125.00" width="1.40" height="1.50" fill="#1f3c7e"/>
<rect x="315.70" y="124.50" width="0.90" height="2.00" fill="#1f3c7e"/>
<rect x="328.50" y="124.00" width="3.50" height="2.50" fill="#1f3c7e"/>
<rect x="364.90" y="123.00" width="1.10" height="3.50" fill="#1f3c7e"/>
<rect x="366.60" y="124.50" width="1.70" height="2.00" fill="#1f3c7e"/>
<rect x="368.30" y="118.50" width="1.10" height="8.00" fill="#4d67a1"/>
<rect x="369.40" y="115.50" width="1.40" height="11.00" fill="#1f3c7e"/>
<rect x="370.80" y="113.50" width="1.40" height="13.00" fill="#1f3c7e"/>
<rect x="372.50" y="114.00" width="1.40" height="12.50" fill="#1f3c7e"/>
<rect x="373.90" y="119.50" width="1.10" height="7.00" fill="#4d67a1"/>
<rect x="375.90" y="113.34" width="0.10" height="13.16" fill="#1f3c7e"/>
<rect x="376.00" y="113.25" width="1.00" height="13.25" fill="#4d67a1"/>
<rect x="377.00" y="113.12" width="1.00" height="13.38" fill="#1f3c7e"/>
<rect x="378.00" y="112.65" width="1.00" height="13.85" fill="#1f3c7e"/>
<rect x="379.00" y="112.57" width="0.30" height="13.93" fill="#4d67a1"/>
<rect x="382.70" y="115.50" width="1.70" height="11.00" fill="#4d67a1"/>
<rect x="391.60" y="113.50" width="1.40" height="13.00" fill="#1f3c7e"/>
<rect x="403.00" y="125.50" width="1.00" height="1.00" fill="#1f3c7e"/>
<rect x="414.20" y="113.19" width="0.80" height="13.31" fill="#1f3c7e"/>
<rect x="415.00" y="113.33" width="1.00" height="13.17" fill="#1f3c7e"/>
<rect x="416.00" y="113.79" width="0.70" height="12.71" fill="#1f3c7e"/>
<rect x="419.30" y="115.00" width="1.20" height="11.50" fill="#9eaed0"/>
<rect x="423.90" y="117.00" width="1.00" height="9.50" fill="#4d67a1"/>
<rect x="430.00" y="113.50" width="1.00" height="13.00" fill="#1f3c7e"/>
<rect x="431.00" y="113.00" width="1.70" height="13.50" fill="#1f3c7e"/>
<rect x="438.10" y="116.50" width="1.40" height="10.00" fill="#9eaed0"/>
<rect x="441.20" y="125.50" width="0.80" height="1.00" fill="#1f3c7e"/>
<rect x="442.60" y="122.00" width="1.20" height="4.50" fill="#1f3c7e"/>
<rect x="445.00" y="117.50" width="1.00" height="9.00" fill="#4d67a1"/>
<rect x="446.00" y="123.50" width="1.20" height="3.00" fill="#1f3c7e"/>
<rect x="449.70" y="123.00" width="1.70" height="3.50" fill="#1f3c7e"/>
<rect x="452.80" y="119.50" width="1.20" height="7.00" fill="#4d67a1"/>
<rect x="454.00" y="112.50" width="2.20" height="14.00" fill="#1f3c7e"/>
<rect x="456.50" y="114.00" width="1.70" height="12.50" fill="#9eaed0"/>
<rect x="459.00" y="125.50" width="1.20" height="1.00" fill="#1f3c7e"/>
<rect x="463.00" y="111.59" width="1.00" height="14.91" fill="#4d67a1"/>
<rect x="464.00" y="111.74" width="1.00" height="14.76" fill="#1f3c7e"/>
<rect x="465.00" y="111.85" width="1.00" height="14.65" fill="#1f3c7e"/>
<rect x="466.00" y="112.09" width="1.00" height="14.41" fill="#1f3c7e"/>
<rect x="467.00" y="111.97" width="1.00" height="14.53" fill="#4d67a1"/>
<rect x="468.00" y="111.31" width="1.00" height="15.19" fill="#1f3c7e"/>
<rect x="469.00" y="111.41" width="1.00" height="15.09" fill="#1f3c7e"/>
<rect x="470.00" y="111.24" width="1.00" height="15.26" fill="#1f3c7e"/>
<rect x="471.00" y="111.36" width="1.00" height="15.14" fill="#1f3c7e"/>
<rect x="472.00" y="111.21" width="1.00" height="15.29" fill="#4d67a1"/>
<rect x="475.60" y="113.00" width="1.70" height="13.50" fill="#4d67a1"/>
<rect x="477.30" y="114.50" width="1.70" height="12.00" fill="#9eaed0"/>
<rect x="479.50" y="113.00" width="1.20" height="13.50" fill="#4d67a1"/>
<rect x="485.40" y="125.00" width="1.40" height="1.50" fill="#1f3c7e"/>
<rect x="489.70" y="125.00" width="1.30" height="1.50" fill="#1f3c7e"/>
<rect x="498.20" y="114.50" width="1.70" height="12.00" fill="#4d67a1"/>
<rect x="499.90" y="113.50" width="1.10" height="13.00" fill="#1f3c7e"/>
<rect x="501.60" y="110.50" width="1.70" height="16.00" fill="#1f3c7e"/>
<rect x="96.00" y="145.85" width="416.00" height="0.90" fill="#e2a0ae"/>
<rect x="96.70" y="142.40" width="1.30" height="4.00" fill="#b1072f"/>
<rect x="98.40" y="140.21" width="0.60" height="6.19" fill="#cb4d66"/>
<rect x="99.00" y="139.98" width="1.00" height="6.42" fill="#b1072f"/>
<rect x="100.00" y="140.14" width="1.00" height="6.26" fill="#b1072f"/>
<rect x="101.80" y="142.40" width="1.40" height="4.00" fill="#b1072f"/>
<rect x="103.50" y="137.64" width="0.50" height="8.76" fill="#b1072f"/>
<rect x="104.00" y="137.63" width="1.00" height="8.77" fill="#b1072f"/>
<rect x="105.00" y="137.49" width="1.00" height="8.91" fill="#b1072f"/>
<rect x="106.00" y="137.43" width="0.60" height="8.97" fill="#b1072f"/>
<rect x="109.50" y="141.40" width="1.10" height="5.00" fill="#b1072f"/>
<rect x="110.60" y="143.40" width="1.40" height="3.00" fill="#b1072f"/>
<rect x="114.60" y="140.90" width="1.70" height="5.50" fill="#b1072f"/>
<rect x="117.10" y="142.40" width="0.90" height="4.00" fill="#b1072f"/>
<rect x="118.80" y="141.40" width="1.70" height="5.00" fill="#b1072f"/>
<rect x="121.40" y="142.90" width="1.60" height="3.50" fill="#b1072f"/>
<rect x="124.00" y="142.40" width="1.60" height="4.00" fill="#b1072f"/>
<rect x="129.00" y="143.44" width="1.00" height="2.96" fill="#cb4d66"/>
<rect x="130.00" y="143.43" width="1.00" height="2.97" fill="#cb4d66"/>
<rect x="131.00" y="143.54" width="1.00" height="2.86" fill="#cb4d66"/>
<rect x="132.00" y="143.45" width="0.40" height="2.95" fill="#cb4d66"/>
<rect x="132.80" y="140.40" width="1.20" height="6.00" fill="#b1072f"/>
<rect x="137.50" y="138.40" width="2.10" height="8.00" fill="#b1072f"/>
<rect x="140.00" y="140.21" width="1.00" height="6.19" fill="#b1072f"/>
<rect x="141.00" y="139.84" width="1.00" height="6.56" fill="#b1072f"/>
<rect x="142.00" y="140.32" width="1.00" height="6.08" fill="#b1072f"/>
<rect x="143.00" y="140.63" width="1.00" height="5.77" fill="#e6a1ae"/>
<rect x="145.00" y="143.43" width="1.00" height="2.97" fill="#e6a1ae"/>
<rect x="146.00" y="143.51" width="1.00" height="2.89" fill="#cb4d66"/>
<rect x="147.00" y="143.45" width="0.70" height="2.95" fill="#cb4d66"/>
<rect x="148.60" y="138.40" width="1.70" height="8.00" fill="#b1072f"/>
<rect x="151.00" y="139.51" width="1.00" height="6.89" fill="#b1072f"/>
<rect x="152.00" y="140.16" width="1.00" height="6.24" fill="#cb4d66"/>
<rect x="153.00" y="138.71" width="1.00" height="7.69" fill="#e6a1ae"/>
<rect x="155.00" y="139.46" width="1.00" height="6.94" fill="#b1072f"/>
<rect x="156.00" y="139.63" width="1.00" height="6.77" fill="#cb4d66"/>
<rect x="157.00" y="139.41" width="1.00" height="6.99" fill="#e6a1ae"/>
<rect x="158.00" y="138.42" width="1.00" height="7.98" fill="#b1072f"/>
<rect x="159.00" y="140.98" width="1.00" height="5.42" fill="#b1072f"/>
<rect x="160.00" y="140.43" width="1.00" height="5.97" fill="#cb4d66"/>
<rect x="161.00" y="140.60" width="1.00" height="5.80" fill="#cb4d66"/>
<rect x="162.00" y="139.98" width="1.00" height="6.42" fill="#b1072f"/>
<rect x="163.00" y="139.32" width="1.00" height="7.08" fill="#e6a1ae"/>
<rect x="164.00" y="139.14" width="1.00" height="7.26" fill="#b1072f"/>
<rect x="165.00" y="139.89" width="1.00" height="6.51" fill="#cb4d66"/>
<rect x="166.00" y="140.76" width="1.00" height="5.64" fill="#b1072f"/>
<rect x="167.80" y="135.90" width="1.20" height="10.50" fill="#b1072f"/>
<rect x="169.00" y="139.02" width="1.00" height="7.38" fill="#b1072f"/>
<rect x="170.00" y="139.13" width="1.00" height="7.27" fill="#b1072f"/>
<rect x="171.00" y="139.87" width="1.00" height="6.53" fill="#b1072f"/>
<rect x="173.00" y="141.62" width="1.00" height="4.78" fill="#b1072f"/>
<rect x="174.00" y="141.13" width="1.00" height="5.27" fill="#b1072f"/>
<rect x="175.00" y="140.78" width="1.00" height="5.62" fill="#e6a1ae"/>
<rect x="176.00" y="140.95" width="1.00" height="5.45" fill="#b1072f"/>
<rect x="177.00" y="141.33" width="1.00" height="5.07" fill="#b1072f"/>
<rect x="178.00" y="141.31" width="1.00" height="5.09" fill="#b1072f"/>
<rect x="179.00" y="139.04" width="1.00" height="7.36" fill="#e6a1ae"/>
<rect x="180.00" y="138.50" width="1.00" height="7.90" fill="#cb4d66"/>
<rect x="181.00" y="139.42" width="1.00" height="6.98" fill="#b1072f"/>
<rect x="182.00" y="140.01" width="1.00" height="6.39" fill="#cb4d66"/>
<rect x="183.00" y="139.90" width="1.00" height="6.50" fill="#e6a1ae"/>
<rect x="184.00" y="140.53" width="1.00" height="5.87" fill="#e6a1ae"/>
<rect x="185.00" y="140.60" width="1.00" height="5.80" fill="#b1072f"/>
<rect x="187.00" y="138.84" width="1.00" height="7.56" fill="#b1072f"/>
<rect x="188.00" y="139.60" width="1.00" height="6.80" fill="#b1072f"/>
<rect x="189.00" y="138.91" width="1.00" height="7.49" fill="#e6a1ae"/>
<rect x="190.00" y="139.78" width="1.00" height="6.62" fill="#b1072f"/>
<rect x="191.00" y="140.11" width="1.00" height="6.29" fill="#b1072f"/>
<rect x="192.00" y="140.30" width="1.00" height="6.10" fill="#b1072f"/>
<rect x="193.00" y="139.28" width="1.00" height="7.12" fill="#e6a1ae"/>
<rect x="194.00" y="140.36" width="1.00" height="6.04" fill="#cb4d66"/>
<rect x="195.00" y="139.12" width="1.00" height="7.28" fill="#cb4d66"/>
<rect x="196.00" y="140.08" width="1.00" height="6.32" fill="#e6a1ae"/>
<rect x="198.00" y="141.22" width="1.00" height="5.18" fill="#cb4d66"/>
<rect x="199.00" y="141.95" width="1.00" height="4.45" fill="#cb4d66"/>
<rect x="200.00" y="142.35" width="1.00" height="4.05" fill="#cb4d66"/>
<rect x="201.00" y="142.00" width="1.00" height="4.40" fill="#cb4d66"/>
<rect x="203.00" y="141.62" width="1.00" height="4.78" fill="#b1072f"/>
<rect x="204.00" y="138.79" width="1.00" height="7.61" fill="#b1072f"/>
<rect x="205.00" y="140.73" width="1.00" height="5.67" fill="#e6a1ae"/>
<rect x="206.00" y="139.06" width="1.00" height="7.34" fill="#e6a1ae"/>
<rect x="207.00" y="138.42" width="1.00" height="7.98" fill="#b1072f"/>
<rect x="208.00" y="140.04" width="1.00" height="6.36" fill="#b1072f"/>
<rect x="209.00" y="138.86" width="1.00" height="7.54" fill="#b1072f"/>
<rect x="210.00" y="140.02" width="1.00" height="6.38" fill="#b1072f"/>
<rect x="211.00" y="140.95" width="1.00" height="5.45" fill="#b1072f"/>
<rect x="212.00" y="140.01" width="1.00" height="6.39" fill="#cb4d66"/>
<rect x="213.00" y="139.17" width="1.00" height="7.23" fill="#cb4d66"/>
<rect x="215.00" y="140.02" width="1.00" height="6.38" fill="#b1072f"/>
<rect x="216.00" y="139.97" width="1.00" height="6.43" fill="#b1072f"/>
<rect x="217.00" y="140.08" width="1.00" height="6.32" fill="#b1072f"/>
<rect x="218.00" y="139.35" width="1.00" height="7.05" fill="#cb4d66"/>
<rect x="219.00" y="139.92" width="1.00" height="6.48" fill="#b1072f"/>
<rect x="220.00" y="139.04" width="1.00" height="7.36" fill="#e6a1ae"/>
<rect x="221.00" y="140.38" width="1.00" height="6.02" fill="#b1072f"/>
<rect x="222.00" y="139.36" width="1.00" height="7.04" fill="#b1072f"/>
<rect x="223.00" y="138.65" width="1.00" height="7.75" fill="#b1072f"/>
<rect x="224.00" y="138.79" width="1.00" height="7.61" fill="#e6a1ae"/>
<rect x="225.00" y="138.57" width="1.00" height="7.83" fill="#b1072f"/>
<rect x="226.00" y="138.67" width="1.00" height="7.73" fill="#e6a1ae"/>
<rect x="227.00" y="140.35" width="1.00" height="6.05" fill="#b1072f"/>
<rect x="228.00" y="140.91" width="1.00" height="5.49" fill="#b1072f"/>
<rect x="229.00" y="140.36" width="1.00" height="6.04" fill="#e6a1ae"/>
<rect x="230.00" y="138.46" width="1.00" height="7.94" fill="#b1072f"/>
<rect x="231.00" y="138.68" width="1.00" height="7.72" fill="#cb4d66"/>
<rect x="232.00" y="139.51" width="1.00" height="6.89" fill="#b1072f"/>
<rect x="233.00" y="139.41" width="1.00" height="6.99" fill="#e6a1ae"/>
<rect x="234.00" y="140.22" width="1.00" height="6.18" fill="#b1072f"/>
<rect x="235.00" y="138.82" width="1.00" height="7.58" fill="#e6a1ae"/>
<rect x="236.00" y="140.35" width="1.00" height="6.05" fill="#b1072f"/>
<rect x="237.00" y="139.54" width="1.00" height="6.86" fill="#b1072f"/>
<rect x="238.00" y="140.33" width="1.00" height="6.07" fill="#b1072f"/>
<rect x="239.00" y="139.18" width="1.00" height="7.22" fill="#e6a1ae"/>
<rect x="240.00" y="140.34" width="1.00" height="6.06" fill="#b1072f"/>
<rect x="241.00" y="139.84" width="1.00" height="6.56" fill="#cb4d66"/>
<rect x="242.00" y="140.84" width="1.00" height="5.56" fill="#b1072f"/>
<rect x="243.00" y="138.65" width="1.00" height="7.75" fill="#b1072f"/>
<rect x="244.00" y="139.25" width="1.00" height="7.15" fill="#b1072f"/>
<rect x="245.00" y="138.74" width="1.00" height="7.66" fill="#cb4d66"/>
<rect x="246.00" y="138.50" width="1.00" height="7.90" fill="#cb4d66"/>
<rect x="247.00" y="140.23" width="1.00" height="6.17" fill="#b1072f"/>
<rect x="248.00" y="138.99" width="1.00" height="7.41" fill="#b1072f"/>
<rect x="249.00" y="139.31" width="1.00" height="7.09" fill="#b1072f"/>
<rect x="250.00" y="139.58" width="1.00" height="6.82" fill="#b1072f"/>
<rect x="251.00" y="140.16" width="1.00" height="6.24" fill="#b1072f"/>
<rect x="252.00" y="138.81" width="1.00" height="7.59" fill="#b1072f"/>
<rect x="254.00" y="139.94" width="1.00" height="6.46" fill="#b1072f"/>
<rect x="255.00" y="138.46" width="1.00" height="7.94" fill="#cb4d66"/>
<rect x="256.00" y="137.90" width="1.00" height="8.50" fill="#b1072f"/>
<rect x="257.00" y="139.17" width="1.00" height="7.23" fill="#e6a1ae"/>
<rect x="258.00" y="136.94" width="1.00" height="9.46" fill="#b1072f"/>
<rect x="259.00" y="137.45" width="1.00" height="8.95" fill="#b1072f"/>
<rect x="260.00" y="137.49" width="1.00" height="8.91" fill="#b1072f"/>
<rect x="261.00" y="137.91" width="1.00" height="8.49" fill="#b1072f"/>
<rect x="262.00" y="139.94" width="1.00" height="6.46" fill="#b1072f"/>
<rect x="263.00" y="140.40" width="1.70" height="6.00" fill="#b1072f"/>
<rect x="264.70" y="137.90" width="1.70" height="8.50" fill="#b1072f"/>
<rect x="266.40" y="141.40" width="1.60" height="5.00" fill="#b1072f"/>
<rect x="269.00" y="140.74" width="1.00" height="5.66" fill="#b1072f"/>
<rect x="270.00" y="140.80" width="1.00" height="5.60" fill="#cb4d66"/>
<rect x="271.00" y="140.67" width="0.50" height="5.73" fill="#b1072f"/>
<rect x="271.50" y="139.77" width="0.50" height="6.63" fill="#cb4d66"/>
<rect x="272.00" y="139.85" width="1.00" height="6.55" fill="#b1072f"/>
<rect x="273.00" y="139.43" width="1.00" height="6.97" fill="#b1072f"/>
<rect x="274.00" y="139.84" width="1.00" height="6.56" fill="#cb4d66"/>
<rect x="276.00" y="139.48" width="1.00" height="6.92" fill="#b1072f"/>
<rect x="277.00" y="139.53" width="1.00" height="6.87" fill="#b1072f"/>
<rect x="278.00" y="139.55" width="1.00" height="6.85" fill="#e6a1ae"/>
<rect x="279.00" y="139.48" width="1.00" height="6.92" fill="#b1072f"/>
<rect x="280.00" y="135.90" width="1.70" height="10.50" fill="#b1072f"/>
<rect x="283.00" y="140.40" width="1.30" height="6.00" fill="#b1072f"/>
<rect x="284.80" y="142.40" width="2.00" height="4.00" fill="#b1072f"/>
<rect x="287.70" y="139.90" width="1.70" height="6.50" fill="#b1072f"/>
<rect x="289.40" y="143.40" width="1.20" height="3.00" fill="#b1072f"/>
<rect x="292.00" y="146.06" width="1.00" height="0.34" fill="#b1072f"/>
<rect x="293.00" y="146.13" width="1.00" height="0.27" fill="#b1072f"/>
<rect x="294.00" y="146.09" width="1.00" height="0.31" fill="#b1072f"/>
<rect x="295.00" y="146.17" width="1.00" height="0.23" fill="#b1072f"/>
<rect x="297.00" y="146.07" width="1.00" height="0.33" fill="#b1072f"/>
<rect x="298.00" y="145.99" width="1.00" height="0.41" fill="#b1072f"/>
<rect x="299.00" y="145.97" width="1.00" height="0.43" fill="#b1072f"/>
<rect x="300.00" y="146.00" width="1.00" height="0.40" fill="#b1072f"/>
<rect x="301.00" y="146.10" width="1.00" height="0.30" fill="#b1072f"/>
<rect x="303.00" y="145.96" width="1.00" height="0.44" fill="#b1072f"/>
<rect x="304.00" y="145.93" width="1.00" height="0.47" fill="#b1072f"/>
<rect x="306.00" y="146.05" width="1.00" height="0.35" fill="#b1072f"/>
<rect x="307.00" y="146.19" width="1.00" height="0.21" fill="#b1072f"/>
<rect x="308.60" y="142.90" width="2.00" height="3.50" fill="#b1072f"/>
<rect x="312.30" y="144.90" width="1.40" height="1.50" fill="#b1072f"/>
<rect x="320.00" y="144.90" width="1.70" height="1.50" fill="#b1072f"/>
<rect x="328.50" y="144.40" width="3.50" height="2.00" fill="#b1072f"/>
<rect x="364.90" y="144.90" width="1.70" height="1.50" fill="#b1072f"/>
<rect x="367.00" y="144.40" width="1.30" height="2.00" fill="#b1072f"/>
<rect x="368.30" y="140.40" width="1.70" height="6.00" fill="#b1072f"/>
<rect x="370.00" y="137.40" width="2.20" height="9.00" fill="#b1072f"/>
<rect x="372.50" y="130.40" width="1.70" height="16.00" fill="#b1072f"/>
<rect x="374.20" y="134.90" width="1.40" height="11.50" fill="#b1072f"/>
<rect x="375.90" y="131.40" width="1.70" height="15.00" fill="#b1072f"/>
<rect x="377.60" y="133.90" width="1.70" height="12.50" fill="#b1072f"/>
<rect x="382.70" y="141.40" width="2.10" height="5.00" fill="#b1072f"/>
<rect x="388.70" y="145.40" width="1.70" height="1.00" fill="#b1072f"/>
<rect x="391.60" y="140.40" width="1.70" height="6.00" fill="#b1072f"/>
<rect x="400.60" y="145.90" width="0.80" height="0.50" fill="#b1072f"/>
<rect x="411.60" y="145.40" width="1.70" height="1.00" fill="#b1072f"/>
<rect x="414.20" y="140.12" width="0.80" height="6.28" fill="#b1072f"/>
<rect x="415.00" y="140.21" width="1.00" height="6.19" fill="#b1072f"/>
<rect x="416.00" y="140.23" width="0.70" height="6.17" fill="#b1072f"/>
<rect x="419.30" y="140.40" width="1.20" height="6.00" fill="#b1072f"/>
<rect x="423.50" y="143.90" width="1.40" height="2.50" fill="#b1072f"/>
<rect x="427.00" y="143.40" width="1.30" height="3.00" fill="#b1072f"/>
<rect x="430.00" y="141.40" width="1.00" height="5.00" fill="#b1072f"/>
<rect x="431.00" y="140.40" width="1.70" height="6.00" fill="#b1072f"/>
<rect x="438.10" y="143.40" width="1.40" height="3.00" fill="#cb4d66"/>
<rect x="442.60" y="144.90" width="1.20" height="1.50" fill="#b1072f"/>
<rect x="445.00" y="142.40" width="1.30" height="4.00" fill="#b1072f"/>
<rect x="448.90" y="145.40" width="3.90" height="1.00" fill="#b1072f"/>
<rect x="452.80" y="142.40" width="1.20" height="4.00" fill="#b1072f"/>
<rect x="454.00" y="135.40" width="1.10" height="11.00" fill="#b1072f"/>
<rect x="455.10" y="140.40" width="1.40" height="6.00" fill="#b1072f"/>
<rect x="457.40" y="145.40" width="1.20" height="1.00" fill="#b1072f"/>
<rect x="462.50" y="141.40" width="1.70" height="5.00" fill="#b1072f"/>
<rect x="464.00" y="140.37" width="1.00" height="6.03" fill="#b1072f"/>
<rect x="465.00" y="140.19" width="1.00" height="6.21" fill="#cb4d66"/>
<rect x="466.00" y="140.13" width="1.00" height="6.27" fill="#b1072f"/>
<rect x="467.00" y="140.50" width="1.00" height="5.90" fill="#b1072f"/>
<rect x="468.00" y="140.28" width="1.00" height="6.12" fill="#b1072f"/>
<rect x="469.00" y="140.80" width="1.00" height="5.60" fill="#b1072f"/>
<rect x="470.00" y="137.67" width="1.00" height="8.73" fill="#b1072f"/>
<rect x="471.00" y="137.98" width="1.00" height="8.42" fill="#b1072f"/>
<rect x="472.00" y="136.44" width="1.00" height="9.96" fill="#cb4d66"/>
<rect x="475.60" y="140.76" width="0.40" height="5.64" fill="#b1072f"/>
<rect x="476.00" y="140.79" width="1.00" height="5.61" fill="#b1072f"/>
<rect x="477.00" y="140.49" width="1.00" height="5.91" fill="#b1072f"/>
<rect x="478.00" y="140.71" width="0.60" height="5.69" fill="#cb4d66"/>
<rect x="478.60" y="139.90" width="2.10" height="6.50" fill="#b1072f"/>
<rect x="485.40" y="144.90" width="1.40" height="1.50" fill="#b1072f"/>
<rect x="489.70" y="144.90" width="1.30" height="1.50" fill="#b1072f"/>
<rect x="498.20" y="139.44" width="0.80" height="6.96" fill="#b1072f"/>
<rect x="499.00" y="139.45" width="1.00" height="6.95" fill="#b1072f"/>
<rect x="500.00" y="139.69" width="0.70" height="6.71" fill="#cb4d66"/>
<rect x="501.60" y="131.40" width="1.70" height="15.00" fill="#b1072f"/>
<rect x="503.80" y="130.40" width="1.20" height="16.00" fill="#b1072f"/>
<rect x="96.00" y="165.35" width="416.00" height="0.90" fill="#e4e0da"/>
<rect x="96.70" y="160.90" width="1.70" height="5.00" fill="#df952c"/>
<rect x="98.40" y="159.00" width="0.60" height="6.90" fill="#df952c"/>
<rect x="99.00" y="158.98" width="1.00" height="6.92" fill="#df952c"/>
<rect x="100.00" y="159.11" width="1.00" height="6.79" fill="#eab263"/>
<rect x="101.00" y="159.37" width="0.80" height="6.53" fill="#df952c"/>
<rect x="102.70" y="158.50" width="0.30" height="7.40" fill="#eab263"/>
<rect x="103.00" y="158.89" width="1.00" height="7.01" fill="#df952c"/>
<rect x="104.00" y="158.57" width="1.00" height="7.33" fill="#df952c"/>
<rect x="105.00" y="158.80" width="1.00" height="7.10" fill="#eab263"/>
<rect x="110.30" y="160.40" width="1.70" height="5.50" fill="#df952c"/>
<rect x="114.60" y="160.69" width="0.40" height="5.21" fill="#df952c"/>
<rect x="115.00" y="160.71" width="1.00" height="5.19" fill="#df952c"/>
<rect x="116.00" y="160.69" width="1.00" height="5.21" fill="#eab263"/>
<rect x="118.00" y="158.90" width="1.70" height="7.00" fill="#df952c"/>
<rect x="120.50" y="161.69" width="0.50" height="4.21" fill="#df952c"/>
<rect x="121.00" y="161.68" width="1.00" height="4.22" fill="#eab263"/>
<rect x="122.00" y="161.55" width="1.00" height="4.35" fill="#df952c"/>
<rect x="125.30" y="157.40" width="1.20" height="8.50" fill="#df952c"/>
<rect x="129.00" y="158.69" width="1.00" height="7.21" fill="#f3d3a2"/>
<rect x="131.00" y="158.62" width="1.00" height="7.28" fill="#f3d3a2"/>
<rect x="132.00" y="158.82" width="1.00" height="7.08" fill="#f3d3a2"/>
<rect x="133.00" y="158.61" width="1.00" height="7.29" fill="#f3d3a2"/>
<rect x="138.40" y="160.90" width="1.60" height="5.00" fill="#df952c"/>
<rect x="141.00" y="156.92" width="1.00" height="8.98" fill="#df952c"/>
<rect x="143.00" y="157.15" width="1.00" height="8.75" fill="#eab263"/>
<rect x="144.00" y="158.22" width="1.00" height="7.68" fill="#df952c"/>
<rect x="146.00" y="161.90" width="2.00" height="4.00" fill="#eab263"/>
<rect x="149.00" y="157.90" width="2.00" height="8.00" fill="#df952c"/>
<rect x="152.00" y="157.37" width="1.00" height="8.53" fill="#f3d3a2"/>
<rect x="153.00" y="157.23" width="1.00" height="8.67" fill="#f3d3a2"/>
<rect x="154.00" y="157.35" width="1.00" height="8.55" fill="#df952c"/>
<rect x="155.00" y="157.46" width="1.00" height="8.44" fill="#df952c"/>
<rect x="156.00" y="157.30" width="1.00" height="8.60" fill="#eab263"/>
<rect x="157.00" y="157.92" width="1.00" height="7.98" fill="#df952c"/>
<rect x="159.00" y="158.10" width="1.00" height="7.80" fill="#df952c"/>
<rect x="160.00" y="157.41" width="1.00" height="8.49" fill="#df952c"/>
<rect x="161.00" y="158.19" width="1.00" height="7.71" fill="#eab263"/>
<rect x="162.00" y="158.90" width="1.00" height="7.00" fill="#df952c"/>
<rect x="163.00" y="158.36" width="1.00" height="7.54" fill="#df952c"/>
<rect x="164.00" y="158.57" width="1.00" height="7.33" fill="#df952c"/>
<rect x="165.00" y="159.22" width="1.00" height="6.68" fill="#df952c"/>
<rect x="166.00" y="157.67" width="1.00" height="8.23" fill="#f3d3a2"/>
<rect x="167.00" y="157.90" width="1.00" height="8.00" fill="#df952c"/>
<rect x="168.00" y="157.88" width="1.00" height="8.02" fill="#f3d3a2"/>
<rect x="169.00" y="159.31" width="1.00" height="6.59" fill="#df952c"/>
<rect x="170.00" y="158.06" width="1.00" height="7.84" fill="#df952c"/>
<rect x="171.00" y="158.02" width="1.00" height="7.88" fill="#df952c"/>
<rect x="172.00" y="159.00" width="1.00" height="6.90" fill="#df952c"/>
<rect x="173.00" y="158.71" width="1.00" height="7.19" fill="#df952c"/>
<rect x="174.00" y="158.13" width="1.00" height="7.77" fill="#df952c"/>
<rect x="175.00" y="158.84" width="1.00" height="7.06" fill="#df952c"/>
<rect x="176.00" y="158.76" width="1.00" height="7.14" fill="#df952c"/>
<rect x="177.00" y="156.97" width="1.00" height="8.93" fill="#df952c"/>
<rect x="178.00" y="157.28" width="1.00" height="8.62" fill="#eab263"/>
<rect x="179.00" y="156.30" width="1.00" height="9.60" fill="#df952c"/>
<rect x="180.00" y="157.45" width="1.00" height="8.45" fill="#f3d3a2"/>
<rect x="181.00" y="157.12" width="1.00" height="8.78" fill="#df952c"/>
<rect x="182.00" y="155.99" width="1.00" height="9.91" fill="#df952c"/>
<rect x="183.00" y="158.63" width="1.00" height="7.27" fill="#eab263"/>
<rect x="184.00" y="155.97" width="1.00" height="9.93" fill="#eab263"/>
<rect x="185.00" y="158.76" width="1.00" height="7.14" fill="#f3d3a2"/>
<rect x="186.00" y="156.68" width="1.00" height="9.22" fill="#df952c"/>
<rect x="187.00" y="156.02" width="1.00" height="9.88" fill="#f3d3a2"/>
<rect x="189.00" y="157.47" width="1.00" height="8.43" fill="#df952c"/>
<rect x="190.00" y="158.83" width="1.00" height="7.07" fill="#df952c"/>
<rect x="191.00" y="156.55" width="1.00" height="9.35" fill="#df952c"/>
<rect x="192.00" y="157.12" width="1.00" height="8.78" fill="#df952c"/>
<rect x="193.00" y="155.90" width="1.00" height="10.00" fill="#eab263"/>
<rect x="194.00" y="156.79" width="1.00" height="9.11" fill="#df952c"/>
<rect x="195.00" y="156.99" width="1.00" height="8.91" fill="#f3d3a2"/>
<rect x="196.00" y="156.15" width="1.00" height="9.75" fill="#f3d3a2"/>
<rect x="198.00" y="157.94" width="1.00" height="7.96" fill="#df952c"/>
<rect x="199.00" y="157.37" width="1.00" height="8.53" fill="#df952c"/>
<rect x="200.00" y="157.49" width="1.00" height="8.41" fill="#eab263"/>
<rect x="201.00" y="157.11" width="1.00" height="8.79" fill="#df952c"/>
<rect x="202.00" y="156.42" width="1.00" height="9.48" fill="#df952c"/>
<rect x="203.00" y="157.35" width="1.00" height="8.55" fill="#df952c"/>
<rect x="204.00" y="157.79" width="1.00" height="8.11" fill="#df952c"/>
<rect x="205.00" y="157.38" width="1.00" height="8.52" fill="#df952c"/>
<rect x="206.00" y="157.42" width="1.00" height="8.48" fill="#df952c"/>
<rect x="207.00" y="157.43" width="1.00" height="8.47" fill="#f3d3a2"/>
<rect x="208.00" y="156.06" width="1.00" height="9.84" fill="#df952c"/>
<rect x="209.00" y="156.62" width="1.00" height="9.28" fill="#eab263"/>
<rect x="210.00" y="155.93" width="1.00" height="9.97" fill="#df952c"/>
<rect x="211.00" y="156.81" width="1.00" height="9.09" fill="#df952c"/>
<rect x="212.00" y="156.13" width="1.00" height="9.77" fill="#eab263"/>
<rect x="213.00" y="157.07" width="1.00" height="8.83" fill="#df952c"/>
<rect x="214.00" y="156.86" width="1.00" height="9.04" fill="#df952c"/>
<rect x="215.00" y="157.50" width="1.00" height="8.40" fill="#df952c"/>
<rect x="216.00" y="157.20" width="1.00" height="8.70" fill="#df952c"/>
<rect x="217.00" y="156.34" width="1.00" height="9.56" fill="#f3d3a2"/>
<rect x="218.00" y="158.09" width="1.00" height="7.81" fill="#df952c"/>
<rect x="219.00" y="158.42" width="1.00" height="7.48" fill="#df952c"/>
<rect x="220.00" y="157.54" width="1.00" height="8.36" fill="#eab263"/>
<rect x="221.00" y="157.66" width="1.00" height="8.24" fill="#eab263"/>
<rect x="222.00" y="158.15" width="1.00" height="7.75" fill="#eab263"/>
<rect x="223.00" y="156.67" width="1.00" height="9.23" fill="#df952c"/>
<rect x="224.00" y="156.91" width="1.00" height="8.99" fill="#df952c"/>
<rect x="225.00" y="157.68" width="1.00" height="8.22" fill="#eab263"/>
<rect x="226.00" y="157.63" width="1.00" height="8.27" fill="#df952c"/>
<rect x="227.00" y="157.56" width="1.00" height="8.34" fill="#df952c"/>
<rect x="228.00" y="156.23" width="1.00" height="9.67" fill="#f3d3a2"/>
<rect x="229.00" y="156.90" width="1.00" height="9.00" fill="#df952c"/>
<rect x="230.00" y="157.21" width="1.00" height="8.69" fill="#df952c"/>
<rect x="231.00" y="156.09" width="1.00" height="9.81" fill="#df952c"/>
<rect x="232.00" y="156.61" width="1.00" height="9.29" fill="#df952c"/>
<rect x="233.00" y="156.45" width="1.00" height="9.45" fill="#df952c"/>
<rect x="234.00" y="157.06" width="1.00" height="8.84" fill="#eab263"/>
<rect x="235.00" y="157.47" width="1.00" height="8.43" fill="#f3d3a2"/>
<rect x="236.00" y="156.27" width="1.00" height="9.63" fill="#df952c"/>
<rect x="237.00" y="159.06" width="1.00" height="6.84" fill="#df952c"/>
<rect x="238.00" y="157.55" width="1.00" height="8.35" fill="#df952c"/>
<rect x="240.00" y="156.10" width="1.00" height="9.80" fill="#df952c"/>
<rect x="241.00" y="156.32" width="1.00" height="9.58" fill="#df952c"/>
<rect x="242.00" y="156.97" width="1.00" height="8.93" fill="#f3d3a2"/>
<rect x="243.00" y="156.65" width="1.00" height="9.25" fill="#eab263"/>
<rect x="244.00" y="156.23" width="1.00" height="9.67" fill="#df952c"/>
<rect x="245.00" y="158.03" width="1.00" height="7.87" fill="#df952c"/>
<rect x="246.00" y="156.71" width="1.00" height="9.19" fill="#df952c"/>
<rect x="247.00" y="156.18" width="1.00" height="9.72" fill="#df952c"/>
<rect x="249.00" y="156.79" width="1.00" height="9.11" fill="#df952c"/>
<rect x="250.00" y="156.47" width="1.00" height="9.43" fill="#eab263"/>
<rect x="251.00" y="156.07" width="1.00" height="9.83" fill="#eab263"/>
<rect x="252.00" y="156.57" width="1.00" height="9.33" fill="#df952c"/>
<rect x="253.00" y="157.83" width="1.00" height="8.07" fill="#eab263"/>
<rect x="254.00" y="157.44" width="1.00" height="8.46" fill="#eab263"/>
<rect x="255.00" y="156.39" width="1.00" height="9.51" fill="#df952c"/>
<rect x="256.00" y="157.21" width="1.00" height="8.69" fill="#df952c"/>
<rect x="257.00" y="156.85" width="1.00" height="9.05" fill="#df952c"/>
<rect x="258.00" y="156.22" width="1.00" height="9.68" fill="#df952c"/>
<rect x="259.00" y="156.71" width="1.00" height="9.19" fill="#f3d3a2"/>
<rect x="260.00" y="158.97" width="1.00" height="6.93" fill="#df952c"/>
<rect x="261.00" y="156.51" width="1.00" height="9.39" fill="#df952c"/>
<rect x="262.00" y="158.16" width="1.00" height="7.74" fill="#df952c"/>
<rect x="189.00" y="153.20" width="1.00" height="12.70" fill="#df952c"/>
<rect x="212.00" y="152.40" width="1.00" height="13.50" fill="#df952c"/>
<rect x="252.00" y="152.66" width="1.00" height="13.24" fill="#df952c"/>
<rect x="253.00" y="152.49" width="1.00" height="13.41" fill="#eab263"/>
<rect x="254.00" y="152.67" width="1.00" height="13.23" fill="#eab263"/>
<rect x="263.00" y="159.90" width="1.70" height="6.00" fill="#df952c"/>
<rect x="264.70" y="156.90" width="1.70" height="9.00" fill="#df952c"/>
<rect x="266.40" y="159.90" width="1.60" height="6.00" fill="#df952c"/>
<rect x="269.00" y="160.40" width="1.00" height="5.50" fill="#df952c"/>
<rect x="270.00" y="160.61" width="1.00" height="5.29" fill="#df952c"/>
<rect x="271.00" y="160.70" width="0.50" height="5.20" fill="#eab263"/>
<rect x="271.50" y="157.44" width="0.50" height="8.46" fill="#df952c"/>
<rect x="272.00" y="156.99" width="1.00" height="8.91" fill="#df952c"/>
<rect x="273.00" y="157.38" width="1.00" height="8.52" fill="#eab263"/>
<rect x="274.00" y="157.17" width="1.00" height="8.73" fill="#eab263"/>
<rect x="275.00" y="158.91" width="1.00" height="6.99" fill="#df952c"/>
<rect x="276.00" y="158.24" width="1.00" height="7.66" fill="#eab263"/>
<rect x="277.00" y="158.19" width="1.00" height="7.71" fill="#df952c"/>
<rect x="278.00" y="157.81" width="1.00" height="8.09" fill="#f3d3a2"/>
<rect x="279.00" y="157.98" width="1.00" height="7.92" fill="#df952c"/>
<rect x="280.00" y="156.40" width="1.70" height="9.50" fill="#df952c"/>
<rect x="283.00" y="156.90" width="1.30" height="9.00" fill="#df952c"/>
<rect x="284.80" y="157.40" width="2.00" height="8.50" fill="#df952c"/>
<rect x="287.70" y="149.90" width="1.20" height="16.00" fill="#df952c"/>
<rect x="289.40" y="155.40" width="1.20" height="10.50" fill="#df952c"/>
<rect x="296.20" y="162.90" width="1.70" height="3.00" fill="#df952c"/>
<rect x="299.60" y="164.90" width="0.80" height="1.00" fill="#df952c"/>
<rect x="303.80" y="163.90" width="4.20" height="2.00" fill="#df952c"/>
<rect x="310.30" y="163.90" width="1.20" height="2.00" fill="#df952c"/>
<rect x="313.00" y="164.90" width="1.80" height="1.00" fill="#df952c"/>
<rect x="329.00" y="164.90" width="2.00" height="1.00" fill="#df952c"/>
<rect x="364.90" y="162.90" width="1.10" height="3.00" fill="#df952c"/>
<rect x="366.60" y="164.40" width="2.40" height="1.50" fill="#df952c"/>
<rect x="370.00" y="156.90" width="2.20" height="9.00" fill="#df952c"/>
<rect x="372.50" y="153.90" width="2.00" height="12.00" fill="#df952c"/>
<rect x="374.50" y="156.90" width="1.40" height="9.00" fill="#df952c"/>
<rect x="376.20" y="156.66" width="0.80" height="9.24" fill="#df952c"/>
<rect x="377.00" y="156.42" width="1.00" height="9.48" fill="#eab263"/>
<rect x="378.00" y="156.86" width="1.00" height="9.04" fill="#df952c"/>
<rect x="379.00" y="156.55" width="0.30" height="9.35" fill="#df952c"/>
<rect x="382.70" y="156.90" width="2.10" height="9.00" fill="#df952c"/>
<rect x="390.40" y="163.90" width="0.80" height="2.00" fill="#df952c"/>
<rect x="391.60" y="156.90" width="1.70" height="9.00" fill="#df952c"/>
<rect x="403.00" y="164.40" width="1.50" height="1.50" fill="#df952c"/>
<rect x="411.30" y="164.90" width="1.20" height="1.00" fill="#df952c"/>
<rect x="415.00" y="158.03" width="1.00" height="7.87" fill="#df952c"/>
<rect x="416.00" y="158.04" width="1.00" height="7.86" fill="#df952c"/>
<rect x="419.30" y="157.40" width="1.20" height="8.50" fill="#df952c"/>
<rect x="423.50" y="154.90" width="1.40" height="11.00" fill="#df952c"/>
<rect x="430.00" y="161.90" width="1.00" height="4.00" fill="#df952c"/>
<rect x="431.00" y="157.90" width="1.70" height="8.00" fill="#df952c"/>
<rect x="438.10" y="162.90" width="1.40" height="3.00" fill="#eab263"/>
<rect x="441.20" y="164.40" width="1.70" height="1.50" fill="#df952c"/>
<rect x="443.20" y="161.90" width="1.40" height="4.00" fill="#df952c"/>
<rect x="445.00" y="160.40" width="1.30" height="5.50" fill="#df952c"/>
<rect x="447.20" y="163.90" width="1.70" height="2.00" fill="#df952c"/>
<rect x="449.70" y="164.40" width="2.60" height="1.50" fill="#df952c"/>
<rect x="453.00" y="156.68" width="1.00" height="9.22" fill="#df952c"/>
<rect x="454.00" y="156.82" width="1.00" height="9.08" fill="#f3d3a2"/>
<rect x="455.00" y="156.45" width="1.00" height="9.45" fill="#df952c"/>
<rect x="456.50" y="162.40" width="1.70" height="3.50" fill="#eab263"/>
<rect x="462.50" y="159.40" width="1.70" height="6.50" fill="#df952c"/>
<rect x="464.00" y="158.17" width="1.00" height="7.73" fill="#df952c"/>
<rect x="465.00" y="156.29" width="1.00" height="9.61" fill="#f3d3a2"/>
<rect x="466.00" y="158.30" width="1.00" height="7.60" fill="#eab263"/>
<rect x="467.00" y="156.13" width="1.00" height="9.77" fill="#df952c"/>
<rect x="468.00" y="156.54" width="1.00" height="9.36" fill="#eab263"/>
<rect x="469.00" y="158.17" width="1.00" height="7.73" fill="#df952c"/>
<rect x="470.00" y="156.55" width="1.00" height="9.35" fill="#df952c"/>
<rect x="471.00" y="156.13" width="1.00" height="9.77" fill="#df952c"/>
<rect x="472.00" y="156.51" width="1.00" height="9.39" fill="#df952c"/>
<rect x="473.00" y="157.20" width="1.00" height="8.70" fill="#df952c"/>
<rect x="468.50" y="154.90" width="0.70" height="11.00" fill="#df952c"/>
<rect x="476.00" y="157.49" width="1.00" height="8.41" fill="#eab263"/>
<rect x="477.00" y="158.25" width="1.00" height="7.65" fill="#df952c"/>
<rect x="478.00" y="159.47" width="1.00" height="6.43" fill="#df952c"/>
<rect x="480.00" y="157.55" width="1.00" height="8.35" fill="#df952c"/>
<rect x="489.70" y="165.40" width="1.30" height="0.50" fill="#df952c"/>
<rect x="498.20" y="158.17" width="0.80" height="7.73" fill="#df952c"/>
<rect x="499.00" y="158.00" width="1.00" height="7.90" fill="#eab263"/>
<rect x="500.00" y="158.22" width="0.70" height="7.68" fill="#eab263"/>
<rect x="502.00" y="155.90" width="1.30" height="10.00" fill="#df952c"/>
<rect x="503.80" y="161.90" width="1.20" height="4.00" fill="#df952c"/>
<rect x="96.50" y="167.90" width="1.50" height="3.50" fill="#000" fill-opacity="0.45"/>
<rect x="98.80" y="167.90" width="1.00" height="3.50" fill="#000" fill-opacity="0.95"/>
<rect x="100.50" y="167.90" width="1.00" height="3.50" fill="#000" fill-opacity="0.95"/>
<rect x="103.00" y="167.90" width="1.00" height="3.50" fill="#000" fill-opacity="0.76"/>
<rect x="106.00" y="167.90" width="1.00" height="3.50" fill="#000" fill-opacity="0.76"/>
<rect x="110.00" y="167.90" width="1.50" height="3.50" fill="#000" fill-opacity="0.81"/>
<rect x="112.50" y="167.90" width="1.50" height="3.50" fill="#000" fill-opacity="0.54"/>
<rect x="114.50" y="167.90" width="1.70" height="3.50" fill="#000" fill-opacity="0.54"/>
<rect x="117.00" y="167.90" width="1.00" height="3.50" fill="#000" fill-opacity="0.45"/>
<rect x="119.00" y="167.90" width="1.50" height="3.50" fill="#000" fill-opacity="0.81"/>
<rect x="122.50" y="167.90" width="1.00" height="3.50" fill="#000" fill-opacity="0.45"/>
<rect x="125.00" y="167.90" width="1.20" height="3.50" fill="#000" fill-opacity="0.81"/>
<rect x="129.00" y="167.90" width="2.00" height="3.50" fill="#000" fill-opacity="0.45"/>
<rect x="132.00" y="167.90" width="2.50" height="3.50" fill="#000" fill-opacity="0.81"/>
<rect x="137.50" y="167.90" width="1.50" height="3.50" fill="#000" fill-opacity="0.45"/>
<rect x="139.50" y="167.90" width="1.00" height="3.50" fill="#000" fill-opacity="0.45"/>
<rect x="141.50" y="167.90" width="1.00" height="3.50" fill="#000" fill-opacity="0.85"/>
<rect x="143.50" y="167.90" width="1.00" height="3.50" fill="#000" fill-opacity="0.85"/>
<rect x="146.50" y="167.90" width="1.00" height="3.50" fill="#000" fill-opacity="0.81"/>
<rect x="148.50" y="167.90" width="1.00" height="3.50" fill="#000" fill-opacity="0.76"/>
<rect x="150.50" y="167.90" width="1.00" height="3.50" fill="#000" fill-opacity="0.76"/>
<rect x="153.00" y="167.90" width="1.00" height="3.50" fill="#000" fill-opacity="0.85"/>
<rect x="155.00" y="167.90" width="1.00" height="3.50" fill="#000" fill-opacity="0.85"/>
<rect x="158.00" y="167.90" width="1.00" height="3.50" fill="#000" fill-opacity="0.85"/>
<rect x="160.50" y="167.90" width="1.00" height="3.50" fill="#000" fill-opacity="0.85"/>
<rect x="163.00" y="167.90" width="1.00" height="3.50" fill="#000" fill-opacity="0.85"/>
<rect x="166.50" y="167.90" width="1.00" height="3.50" fill="#000" fill-opacity="0.85"/>
<rect x="169.00" y="167.90" width="1.00" height="3.50" fill="#000" fill-opacity="0.85"/>
<rect x="171.50" y="167.90" width="1.50" height="3.50" fill="#000" fill-opacity="0.81"/>
<rect x="174.00" y="167.90" width="2.00" height="3.50" fill="#000" fill-opacity="0.63"/>
<rect x="177.00" y="167.90" width="1.50" height="3.50" fill="#000" fill-opacity="0.90"/>
<rect x="180.00" y="167.90" width="2.00" height="3.50" fill="#000" fill-opacity="0.45"/>
<rect x="183.00" y="167.90" width="1.50" height="3.50" fill="#000" fill-opacity="0.81"/>
<rect x="185.50" y="167.90" width="2.50" height="3.50" fill="#000" fill-opacity="0.81"/>
<rect x="189.00" y="167.90" width="1.00" height="3.50" fill="#000" fill-opacity="0.45"/>
<rect x="191.00" y="167.90" width="1.00" height="3.50" fill="#000" fill-opacity="0.27"/>
<rect x="193.50" y="167.90" width="1.00" height="3.50" fill="#000" fill-opacity="0.95"/>
<rect x="197.00" y="167.90" width="1.00" height="3.50" fill="#000" fill-opacity="0.95"/>
<rect x="198.00" y="167.90" width="1.20" height="3.50" fill="#000" fill-opacity="0.90"/>
<rect x="201.00" y="167.90" width="1.50" height="3.50" fill="#000" fill-opacity="0.81"/>
<rect x="203.50" y="167.90" width="2.00" height="3.50" fill="#000" fill-opacity="0.54"/>
<rect x="206.00" y="167.90" width="1.50" height="3.50" fill="#000" fill-opacity="0.90"/>
<rect x="208.50" y="167.90" width="2.50" height="3.50" fill="#000" fill-opacity="0.81"/>
<rect x="211.50" y="167.90" width="2.50" height="3.50" fill="#000" fill-opacity="0.63"/>
<rect x="217.00" y="167.90" width="2.00" height="3.50" fill="#000" fill-opacity="0.81"/>
<rect x="220.50" y="167.90" width="1.00" height="3.50" fill="#000" fill-opacity="0.85"/>
<rect x="223.00" y="167.90" width="1.00" height="3.50" fill="#000" fill-opacity="0.85"/>
<rect x="227.00" y="167.90" width="1.50" height="3.50" fill="#000" fill-opacity="0.45"/>
<rect x="229.50" y="167.90" width="2.50" height="3.50" fill="#000" fill-opacity="0.90"/>
<rect x="232.50" y="167.90" width="1.50" height="3.50" fill="#000" fill-opacity="0.81"/>
<rect x="235.00" y="167.90" width="1.50" height="3.50" fill="#000" fill-opacity="0.90"/>
<rect x="238.50" y="167.90" width="1.50" height="3.50" fill="#000" fill-opacity="0.81"/>
<rect x="241.00" y="167.90" width="1.50" height="3.50" fill="#000" fill-opacity="0.81"/>
<rect x="244.00" y="167.90" width="1.50" height="3.50" fill="#000" fill-opacity="0.81"/>
<rect x="247.00" y="167.90" width="1.00" height="3.50" fill="#000" fill-opacity="0.85"/>
<rect x="249.00" y="167.90" width="1.00" height="3.50" fill="#000" fill-opacity="0.85"/>
<rect x="250.00" y="167.90" width="2.00" height="3.50" fill="#000" fill-opacity="0.81"/>
<rect x="252.50" y="167.90" width="1.00" height="3.50" fill="#000" fill-opacity="0.95"/>
<rect x="255.00" y="167.90" width="1.00" height="3.50" fill="#000" fill-opacity="0.95"/>
<rect x="257.50" y="167.90" width="1.00" height="3.50" fill="#000" fill-opacity="0.95"/>
<rect x="260.00" y="167.90" width="1.00" height="3.50" fill="#000" fill-opacity="0.95"/>
<rect x="262.00" y="167.90" width="1.00" height="3.50" fill="#000" fill-opacity="0.90"/>
<rect x="265.00" y="167.90" width="1.00" height="3.50" fill="#000" fill-opacity="0.90"/>
<rect x="267.00" y="167.90" width="1.00" height="3.50" fill="#000" fill-opacity="0.45"/>
<rect x="269.00" y="167.90" width="1.00" height="3.50" fill="#000" fill-opacity="0.81"/>
<rect x="271.50" y="167.90" width="1.00" height="3.50" fill="#000" fill-opacity="0.95"/>
<rect x="274.00" y="167.90" width="1.00" height="3.50" fill="#000" fill-opacity="0.95"/>
<rect x="276.00" y="167.90" width="1.00" height="3.50" fill="#000" fill-opacity="0.45"/>
<rect x="278.00" y="167.90" width="1.00" height="3.50" fill="#000" fill-opacity="0.66"/>
<rect x="281.00" y="167.90" width="1.00" height="3.50" fill="#000" fill-opacity="0.66"/>
<rect x="283.00" y="167.90" width="1.50" height="3.50" fill="#000" fill-opacity="0.81"/>
<rect x="285.50" y="167.90" width="1.50" height="3.50" fill="#000" fill-opacity="0.81"/>
<rect x="288.00" y="167.90" width="1.00" height="3.50" fill="#000" fill-opacity="0.28"/>
<rect x="290.00" y="167.90" width="1.00" height="3.50" fill="#000" fill-opacity="0.28"/>
<rect x="293.50" y="167.90" width="1.00" height="3.50" fill="#000" fill-opacity="0.45"/>
<rect x="296.50" y="167.90" width="1.50" height="3.50" fill="#000" fill-opacity="0.81"/>
<rect x="299.00" y="167.90" width="1.50" height="3.50" fill="#000" fill-opacity="0.45"/>
<rect x="302.00" y="167.90" width="2.50" height="3.50" fill="#000" fill-opacity="0.81"/>
<rect x="306.00" y="167.90" width="2.00" height="3.50" fill="#000" fill-opacity="0.81"/>
<rect x="309.50" y="167.90" width="1.50" height="3.50" fill="#000" fill-opacity="0.90"/>
<rect x="315.00" y="167.90" width="1.50" height="3.50" fill="#000" fill-opacity="0.45"/>
<rect x="318.00" y="167.90" width="2.00" height="3.50" fill="#000" fill-opacity="0.45"/>
<rect x="321.50" y="167.90" width="1.50" height="3.50" fill="#000" fill-opacity="0.81"/>
<rect x="324.50" y="167.90" width="1.50" height="3.50" fill="#000" fill-opacity="0.81"/>
<rect x="328.00" y="167.90" width="1.00" height="3.50" fill="#000" fill-opacity="0.90"/>
<rect x="331.00" y="167.90" width="1.00" height="3.50" fill="#000" fill-opacity="0.90"/>
<rect x="333.00" y="167.90" width="2.00" height="3.50" fill="#000" fill-opacity="0.45"/>
<rect x="365.00" y="167.90" width="1.00" height="3.50" fill="#000" fill-opacity="0.85"/>
<rect x="367.00" y="167.90" width="1.00" height="3.50" fill="#000" fill-opacity="0.85"/>
<rect x="369.00" y="167.90" width="1.00" height="3.50" fill="#000" fill-opacity="0.85"/>
<rect x="371.00" y="167.90" width="1.00" height="3.50" fill="#000" fill-opacity="0.45"/>
<rect x="373.50" y="167.90" width="1.50" height="3.50" fill="#000" fill-opacity="0.90"/>
<rect x="376.50" y="167.90" width="2.00" height="3.50" fill="#000" fill-opacity="0.85"/>
<rect x="383.00" y="167.90" width="1.00" height="3.50" fill="#000" fill-opacity="0.81"/>
<rect x="388.50" y="167.90" width="1.50" height="3.50" fill="#000" fill-opacity="0.81"/>
<rect x="392.00" y="167.90" width="1.50" height="3.50" fill="#000" fill-opacity="0.81"/>
<rect x="395.50" y="167.90" width="1.50" height="3.50" fill="#000" fill-opacity="0.45"/>
<rect x="399.50" y="167.90" width="0.50" height="3.50" fill="#000" fill-opacity="0.27"/>
<rect x="403.00" y="167.90" width="1.00" height="3.50" fill="#000" fill-opacity="0.45"/>
<rect x="411.50" y="167.90" width="1.00" height="3.50" fill="#000" fill-opacity="0.45"/>
<rect x="414.00" y="167.90" width="2.00" height="3.50" fill="#000" fill-opacity="0.81"/>
<rect x="419.50" y="167.90" width="1.00" height="3.50" fill="#000" fill-opacity="0.45"/>
<rect x="423.50" y="167.90" width="1.50" height="3.50" fill="#000" fill-opacity="0.45"/>
<rect x="430.50" y="167.90" width="1.50" height="3.50" fill="#000" fill-opacity="0.90"/>
<rect x="438.50" y="167.90" width="1.00" height="3.50" fill="#000" fill-opacity="0.27"/>
<rect x="440.50" y="167.90" width="1.00" height="3.50" fill="#000" fill-opacity="0.85"/>
<rect x="443.00" y="167.90" width="1.00" height="3.50" fill="#000" fill-opacity="0.85"/>
<rect x="445.50" y="167.90" width="1.50" height="3.50" fill="#000" fill-opacity="0.45"/>
<rect x="448.50" y="167.90" width="2.00" height="3.50" fill="#000" fill-opacity="0.90"/>
<rect x="451.50" y="167.90" width="1.00" height="3.50" fill="#000" fill-opacity="0.95"/>
<rect x="455.00" y="167.90" width="1.00" height="3.50" fill="#000" fill-opacity="0.95"/>
<rect x="457.00" y="167.90" width="1.00" height="3.50" fill="#000" fill-opacity="0.45"/>
<rect x="458.50" y="167.90" width="1.50" height="3.50" fill="#000" fill-opacity="0.45"/>
<rect x="462.00" y="167.90" width="2.20" height="3.50" fill="#000" fill-opacity="0.90"/>
<rect x="464.70" y="167.90" width="1.00" height="3.50" fill="#000" fill-opacity="0.85"/>
<rect x="467.40" y="167.90" width="1.00" height="3.50" fill="#000" fill-opacity="0.85"/>
<rect x="469.40" y="167.90" width="1.00" height="3.50" fill="#000" fill-opacity="0.95"/>
<rect x="471.50" y="167.90" width="1.00" height="3.50" fill="#000" fill-opacity="0.95"/>
<rect x="476.20" y="167.90" width="2.00" height="3.50" fill="#000" fill-opacity="0.81"/>
<rect x="478.80" y="167.90" width="1.50" height="3.50" fill="#000" fill-opacity="0.45"/>
<rect x="485.50" y="167.90" width="1.10" height="3.50" fill="#000" fill-opacity="0.27"/>
<rect x="489.70" y="167.90" width="1.00" height="3.50" fill="#000" fill-opacity="0.81"/>
<rect x="491.20" y="167.90" width="1.10" height="3.50" fill="#000" fill-opacity="0.45"/>
<rect x="498.00" y="167.90" width="1.50" height="3.50" fill="#000" fill-opacity="0.81"/>
<rect x="500.00" y="167.90" width="1.00" height="3.50" fill="#000" fill-opacity="0.85"/>
<rect x="501.70" y="167.90" width="1.00" height="3.50" fill="#000" fill-opacity="0.85"/>
<rect x="504.70" y="167.90" width="1.10" height="3.50" fill="#000" fill-opacity="0.81"/>
<rect x="96.00" y="200.05" width="416.00" height="0.90" fill="#b9c4dc"/>
<rect x="95.90" y="194.60" width="1.10" height="6.00" fill="#9eaed0"/>
<rect x="97.00" y="197.60" width="1.40" height="3.00" fill="#4d67a1"/>
<rect x="98.40" y="184.60" width="1.40" height="16.00" fill="#1f3c7e"/>
<rect x="99.80" y="196.60" width="1.70" height="4.00" fill="#1f3c7e"/>
<rect x="101.80" y="185.60" width="1.40" height="15.00" fill="#1f3c7e"/>
<rect x="103.20" y="195.60" width="1.20" height="5.00" fill="#1f3c7e"/>
<rect x="104.40" y="198.60" width="1.10" height="2.00" fill="#1f3c7e"/>
<rect x="110.00" y="186.60" width="1.20" height="14.00" fill="#1f3c7e"/>
<rect x="112.00" y="188.10" width="1.40" height="12.50" fill="#9eaed0"/>
<rect x="114.60" y="185.60" width="1.70" height="15.00" fill="#1f3c7e"/>
<rect x="116.30" y="186.70" width="0.70" height="13.90" fill="#9eaed0"/>
<rect x="117.00" y="186.66" width="1.00" height="13.94" fill="#9eaed0"/>
<rect x="118.00" y="187.52" width="0.80" height="13.08" fill="#9eaed0"/>
<rect x="119.70" y="185.60" width="1.70" height="15.00" fill="#1f3c7e"/>
<rect x="121.40" y="194.60" width="1.20" height="6.00" fill="#1f3c7e"/>
<rect x="123.00" y="186.60" width="1.30" height="14.00" fill="#4d67a1"/>
<rect x="125.60" y="186.60" width="1.00" height="14.00" fill="#9eaed0"/>
<rect x="128.20" y="186.60" width="1.20" height="14.00" fill="#9eaed0"/>
<rect x="132.00" y="184.60" width="1.80" height="16.00" fill="#1f3c7e"/>
<rect x="137.50" y="186.10" width="1.70" height="14.50" fill="#1f3c7e"/>
<rect x="139.00" y="186.91" width="1.00" height="13.69" fill="#9eaed0"/>
<rect x="141.00" y="186.35" width="1.00" height="14.25" fill="#4d67a1"/>
<rect x="142.00" y="186.96" width="1.00" height="13.64" fill="#1f3c7e"/>
<rect x="143.00" y="187.03" width="1.00" height="13.57" fill="#1f3c7e"/>
<rect x="146.00" y="198.60" width="1.70" height="2.00" fill="#9eaed0"/>
<rect x="149.00" y="185.60" width="2.00" height="15.00" fill="#1f3c7e"/>
<rect x="151.00" y="186.33" width="1.00" height="14.27" fill="#1f3c7e"/>
<rect x="152.00" y="185.49" width="1.00" height="15.11" fill="#1f3c7e"/>
<rect x="153.00" y="185.48" width="1.00" height="15.12" fill="#1f3c7e"/>
<rect x="154.00" y="185.69" width="1.00" height="14.91" fill="#1f3c7e"/>
<rect x="155.00" y="186.37" width="1.00" height="14.23" fill="#4d67a1"/>
<rect x="156.00" y="186.23" width="1.00" height="14.37" fill="#1f3c7e"/>
<rect x="157.00" y="188.25" width="1.00" height="12.35" fill="#1f3c7e"/>
<rect x="158.00" y="186.40" width="1.00" height="14.20" fill="#1f3c7e"/>
<rect x="159.00" y="187.09" width="1.00" height="13.51" fill="#9eaed0"/>
<rect x="161.00" y="186.24" width="1.00" height="14.36" fill="#1f3c7e"/>
<rect x="162.00" y="185.60" width="1.00" height="15.00" fill="#4d67a1"/>
<rect x="163.00" y="186.39" width="1.00" height="14.21" fill="#9eaed0"/>
<rect x="164.00" y="185.79" width="1.00" height="14.81" fill="#4d67a1"/>
<rect x="165.00" y="185.79" width="1.00" height="14.81" fill="#1f3c7e"/>
<rect x="166.00" y="185.51" width="1.00" height="15.09" fill="#4d67a1"/>
<rect x="167.00" y="186.28" width="1.00" height="14.32" fill="#4d67a1"/>
<rect x="168.00" y="186.43" width="1.00" height="14.17" fill="#9eaed0"/>
<rect x="169.00" y="185.42" width="1.00" height="15.18" fill="#1f3c7e"/>
<rect x="170.00" y="185.50" width="1.00" height="15.10" fill="#4d67a1"/>
<rect x="171.00" y="188.12" width="1.00" height="12.48" fill="#1f3c7e"/>
<rect x="172.00" y="185.91" width="1.00" height="14.69" fill="#1f3c7e"/>
<rect x="173.00" y="186.44" width="1.00" height="14.16" fill="#1f3c7e"/>
<rect x="174.00" y="185.12" width="1.00" height="15.48" fill="#1f3c7e"/>
<rect x="175.00" y="186.35" width="1.00" height="14.25" fill="#4d67a1"/>
<rect x="176.00" y="186.36" width="1.00" height="14.24" fill="#4d67a1"/>
<rect x="177.00" y="185.54" width="1.00" height="15.06" fill="#4d67a1"/>
<rect x="178.00" y="185.46" width="1.00" height="15.14" fill="#9eaed0"/>
<rect x="179.00" y="185.80" width="1.00" height="14.80" fill="#9eaed0"/>
<rect x="180.00" y="186.31" width="1.00" height="14.29" fill="#9eaed0"/>
<rect x="181.00" y="185.68" width="1.00" height="14.92" fill="#4d67a1"/>
<rect x="182.00" y="186.12" width="1.00" height="14.48" fill="#1f3c7e"/>
<rect x="183.00" y="186.25" width="1.00" height="14.35" fill="#1f3c7e"/>
<rect x="184.00" y="186.02" width="1.00" height="14.58" fill="#9eaed0"/>
<rect x="185.00" y="188.00" width="1.00" height="12.60" fill="#4d67a1"/>
<rect x="186.00" y="188.09" width="1.00" height="12.51" fill="#1f3c7e"/>
<rect x="187.00" y="185.99" width="1.00" height="14.61" fill="#9eaed0"/>
<rect x="188.00" y="185.30" width="1.00" height="15.30" fill="#9eaed0"/>
<rect x="189.00" y="185.17" width="1.00" height="15.43" fill="#1f3c7e"/>
<rect x="190.00" y="185.15" width="1.00" height="15.45" fill="#9eaed0"/>
<rect x="191.00" y="186.05" width="1.00" height="14.55" fill="#4d67a1"/>
<rect x="192.00" y="185.93" width="1.00" height="14.67" fill="#1f3c7e"/>
<rect x="193.00" y="187.76" width="1.00" height="12.84" fill="#4d67a1"/>
<rect x="194.00" y="186.47" width="1.00" height="14.13" fill="#1f3c7e"/>
<rect x="195.00" y="185.93" width="1.00" height="14.67" fill="#4d67a1"/>
<rect x="196.00" y="186.06" width="1.00" height="14.54" fill="#4d67a1"/>
<rect x="197.00" y="186.42" width="1.00" height="14.18" fill="#1f3c7e"/>
<rect x="198.00" y="186.65" width="1.00" height="13.95" fill="#1f3c7e"/>
<rect x="199.40" y="197.60" width="1.60" height="3.00" fill="#9eaed0"/>
<rect x="201.00" y="186.09" width="1.00" height="14.51" fill="#4d67a1"/>
<rect x="202.00" y="185.19" width="1.00" height="15.41" fill="#1f3c7e"/>
<rect x="203.00" y="186.16" width="1.00" height="14.44" fill="#1f3c7e"/>
<rect x="204.00" y="185.19" width="1.00" height="15.41" fill="#1f3c7e"/>
<rect x="205.00" y="185.52" width="1.00" height="15.08" fill="#1f3c7e"/>
<rect x="206.00" y="185.88" width="1.00" height="14.72" fill="#4d67a1"/>
<rect x="207.00" y="185.16" width="1.00" height="15.44" fill="#4d67a1"/>
<rect x="208.00" y="187.98" width="1.00" height="12.62" fill="#9eaed0"/>
<rect x="209.00" y="185.63" width="1.00" height="14.97" fill="#1f3c7e"/>
<rect x="210.00" y="186.07" width="1.00" height="14.53" fill="#9eaed0"/>
<rect x="211.00" y="185.83" width="1.00" height="14.77" fill="#1f3c7e"/>
<rect x="212.00" y="186.05" width="1.00" height="14.55" fill="#1f3c7e"/>
<rect x="213.00" y="186.08" width="1.00" height="14.52" fill="#1f3c7e"/>
<rect x="214.00" y="186.00" width="1.00" height="14.60" fill="#1f3c7e"/>
<rect x="215.00" y="185.41" width="1.00" height="15.19" fill="#1f3c7e"/>
<rect x="216.00" y="185.19" width="1.00" height="15.41" fill="#4d67a1"/>
<rect x="217.00" y="185.59" width="1.00" height="15.01" fill="#4d67a1"/>
<rect x="218.00" y="185.75" width="1.00" height="14.85" fill="#4d67a1"/>
<rect x="219.00" y="185.43" width="1.00" height="15.17" fill="#4d67a1"/>
<rect x="220.00" y="185.26" width="1.00" height="15.34" fill="#9eaed0"/>
<rect x="222.00" y="185.79" width="1.00" height="14.81" fill="#9eaed0"/>
<rect x="223.00" y="185.12" width="1.00" height="15.48" fill="#4d67a1"/>
<rect x="224.00" y="185.48" width="1.00" height="15.12" fill="#9eaed0"/>
<rect x="225.00" y="186.00" width="1.00" height="14.60" fill="#1f3c7e"/>
<rect x="226.00" y="185.70" width="1.00" height="14.90" fill="#1f3c7e"/>
<rect x="227.00" y="188.10" width="1.00" height="12.50" fill="#4d67a1"/>
<rect x="228.00" y="185.16" width="1.00" height="15.44" fill="#1f3c7e"/>
<rect x="229.00" y="185.24" width="1.00" height="15.36" fill="#4d67a1"/>
<rect x="230.00" y="185.60" width="1.00" height="15.00" fill="#1f3c7e"/>
<rect x="231.00" y="185.41" width="1.00" height="15.19" fill="#4d67a1"/>
<rect x="232.00" y="185.77" width="1.00" height="14.83" fill="#4d67a1"/>
<rect x="233.00" y="185.87" width="1.00" height="14.73" fill="#1f3c7e"/>
<rect x="234.00" y="185.83" width="1.00" height="14.77" fill="#1f3c7e"/>
<rect x="236.00" y="187.78" width="1.00" height="12.82" fill="#1f3c7e"/>
<rect x="237.00" y="185.38" width="1.00" height="15.22" fill="#4d67a1"/>
<rect x="238.00" y="185.70" width="1.00" height="14.90" fill="#4d67a1"/>
<rect x="239.00" y="185.24" width="1.00" height="15.36" fill="#1f3c7e"/>
<rect x="240.00" y="186.02" width="1.00" height="14.58" fill="#4d67a1"/>
<rect x="241.00" y="185.42" width="1.00" height="15.18" fill="#4d67a1"/>
<rect x="242.00" y="185.66" width="1.00" height="14.94" fill="#9eaed0"/>
<rect x="243.00" y="185.16" width="1.00" height="15.44" fill="#1f3c7e"/>
<rect x="244.00" y="185.11" width="1.00" height="15.49" fill="#9eaed0"/>
<rect x="245.00" y="185.64" width="1.00" height="14.96" fill="#1f3c7e"/>
<rect x="246.00" y="186.55" width="1.00" height="14.05" fill="#1f3c7e"/>
<rect x="247.00" y="185.45" width="1.00" height="15.15" fill="#4d67a1"/>
<rect x="248.00" y="185.75" width="1.00" height="14.85" fill="#9eaed0"/>
<rect x="249.00" y="185.90" width="1.00" height="14.70" fill="#4d67a1"/>
<rect x="250.00" y="187.37" width="1.00" height="13.23" fill="#1f3c7e"/>
<rect x="251.00" y="185.56" width="1.00" height="15.04" fill="#4d67a1"/>
<rect x="252.00" y="185.44" width="1.00" height="15.16" fill="#9eaed0"/>
<rect x="253.00" y="186.09" width="1.00" height="14.51" fill="#4d67a1"/>
<rect x="254.00" y="185.26" width="1.00" height="15.34" fill="#1f3c7e"/>
<rect x="256.00" y="185.33" width="1.00" height="15.27" fill="#1f3c7e"/>
<rect x="257.00" y="185.20" width="1.00" height="15.40" fill="#1f3c7e"/>
<rect x="258.00" y="185.77" width="1.00" height="14.83" fill="#1f3c7e"/>
<rect x="259.00" y="185.28" width="1.00" height="15.32" fill="#4d67a1"/>
<rect x="260.00" y="186.73" width="1.00" height="13.87" fill="#4d67a1"/>
<rect x="261.00" y="185.60" width="1.00" height="15.00" fill="#9eaed0"/>
<rect x="262.00" y="185.99" width="1.00" height="14.61" fill="#4d67a1"/>
<rect x="263.00" y="186.60" width="1.70" height="14.00" fill="#1f3c7e"/>
<rect x="264.70" y="185.10" width="1.30" height="15.50" fill="#1f3c7e"/>
<rect x="266.00" y="187.60" width="2.10" height="13.00" fill="#9eaed0"/>
<rect x="269.00" y="185.38" width="1.00" height="15.22" fill="#1f3c7e"/>
<rect x="270.00" y="185.65" width="1.00" height="14.95" fill="#1f3c7e"/>
<rect x="271.00" y="185.39" width="0.50" height="15.21" fill="#4d67a1"/>
<rect x="271.50" y="184.70" width="0.50" height="15.90" fill="#1f3c7e"/>
<rect x="272.00" y="185.22" width="1.00" height="15.38" fill="#4d67a1"/>
<rect x="273.00" y="185.68" width="1.00" height="14.92" fill="#1f3c7e"/>
<rect x="274.00" y="185.11" width="1.00" height="15.49" fill="#1f3c7e"/>
<rect x="275.00" y="184.95" width="0.20" height="15.65" fill="#1f3c7e"/>
<rect x="275.80" y="193.60" width="1.70" height="7.00" fill="#9eaed0"/>
<rect x="278.00" y="184.85" width="1.00" height="15.75" fill="#1f3c7e"/>
<rect x="279.00" y="185.59" width="1.00" height="15.01" fill="#1f3c7e"/>
<rect x="280.00" y="185.35" width="1.00" height="15.25" fill="#4d67a1"/>
<rect x="281.00" y="185.38" width="1.00" height="15.22" fill="#1f3c7e"/>
<rect x="283.00" y="185.60" width="1.30" height="15.00" fill="#1f3c7e"/>
<rect x="284.80" y="187.60" width="2.00" height="13.00" fill="#4d67a1"/>
<rect x="288.50" y="187.10" width="2.10" height="13.50" fill="#9eaed0"/>
<rect x="298.40" y="185.60" width="1.60" height="15.00" fill="#1f3c7e"/>
<rect x="300.00" y="195.60" width="1.30" height="5.00" fill="#1f3c7e"/>
<rect x="302.50" y="198.60" width="1.30" height="2.00" fill="#1f3c7e"/>
<rect x="303.80" y="195.60" width="1.40" height="5.00" fill="#4d67a1"/>
<rect x="305.20" y="185.10" width="2.00" height="15.50" fill="#1f3c7e"/>
<rect x="310.30" y="198.60" width="2.00" height="2.00" fill="#1f3c7e"/>
<rect x="326.30" y="198.10" width="1.30" height="2.50" fill="#1f3c7e"/>
<rect x="329.70" y="198.60" width="1.30" height="2.00" fill="#1f3c7e"/>
<rect x="343.00" y="199.60" width="1.50" height="1.00" fill="#1f3c7e"/>
<rect x="364.90" y="198.60" width="1.70" height="2.00" fill="#1f3c7e"/>
<rect x="367.40" y="199.10" width="1.60" height="1.50" fill="#1f3c7e"/>
<rect x="370.80" y="197.10" width="0.90" height="3.50" fill="#1f3c7e"/>
<rect x="372.50" y="188.60" width="1.40" height="12.00" fill="#1f3c7e"/>
<rect x="373.90" y="198.60" width="0.70" height="2.00" fill="#1f3c7e"/>
<rect x="377.60" y="199.10" width="1.40" height="1.50" fill="#1f3c7e"/>
<rect x="383.60" y="200.10" width="0.90" height="0.50" fill="#1f3c7e"/>
<rect x="389.50" y="197.10" width="1.40" height="3.50" fill="#1f3c7e"/>
<rect x="391.60" y="187.60" width="2.20" height="13.00" fill="#1f3c7e"/>
<rect x="414.20" y="186.19" width="0.80" height="14.41" fill="#1f3c7e"/>
<rect x="415.00" y="186.20" width="1.00" height="14.40" fill="#1f3c7e"/>
<rect x="416.00" y="186.05" width="1.00" height="14.55" fill="#1f3c7e"/>
<rect x="419.30" y="187.60" width="1.20" height="13.00" fill="#9eaed0"/>
<rect x="423.50" y="188.10" width="1.40" height="12.50" fill="#4d67a1"/>
<rect x="430.00" y="187.60" width="1.00" height="13.00" fill="#1f3c7e"/>
<rect x="431.00" y="186.60" width="1.70" height="14.00" fill="#1f3c7e"/>
<rect x="438.00" y="187.10" width="1.50" height="13.50" fill="#9eaed0"/>
<rect x="440.40" y="190.60" width="1.60" height="10.00" fill="#4d67a1"/>
<rect x="442.00" y="197.60" width="1.80" height="3.00" fill="#1f3c7e"/>
<rect x="444.60" y="195.60" width="1.40" height="5.00" fill="#1f3c7e"/>
<rect x="446.00" y="194.60" width="1.70" height="6.00" fill="#1f3c7e"/>
<rect x="448.90" y="198.60" width="1.70" height="2.00" fill="#1f3c7e"/>
<rect x="450.60" y="194.60" width="1.70" height="6.00" fill="#9eaed0"/>
<rect x="452.30" y="185.62" width="0.70" height="14.98" fill="#1f3c7e"/>
<rect x="453.00" y="185.30" width="1.00" height="15.30" fill="#1f3c7e"/>
<rect x="454.00" y="186.04" width="1.00" height="14.56" fill="#1f3c7e"/>
<rect x="455.00" y="185.32" width="1.00" height="15.28" fill="#1f3c7e"/>
<rect x="456.00" y="185.80" width="0.50" height="14.80" fill="#1f3c7e"/>
<rect x="457.40" y="185.10" width="1.20" height="15.50" fill="#9eaed0"/>
<rect x="459.00" y="187.60" width="1.00" height="13.00" fill="#9eaed0"/>
<rect x="462.00" y="185.32" width="1.00" height="15.28" fill="#4d67a1"/>
<rect x="463.00" y="184.94" width="1.00" height="15.66" fill="#9eaed0"/>
<rect x="464.00" y="184.62" width="1.00" height="15.98" fill="#1f3c7e"/>
<rect x="465.00" y="185.48" width="1.00" height="15.12" fill="#1f3c7e"/>
<rect x="466.00" y="185.39" width="1.00" height="15.21" fill="#4d67a1"/>
<rect x="467.00" y="186.52" width="1.00" height="14.08" fill="#1f3c7e"/>
<rect x="468.00" y="184.67" width="1.00" height="15.93" fill="#4d67a1"/>
<rect x="469.00" y="185.18" width="1.00" height="15.42" fill="#4d67a1"/>
<rect x="470.00" y="184.84" width="1.00" height="15.76" fill="#1f3c7e"/>
<rect x="472.00" y="185.06" width="1.00" height="15.54" fill="#4d67a1"/>
<rect x="473.00" y="185.53" width="1.00" height="15.07" fill="#1f3c7e"/>
<rect x="476.00" y="185.60" width="1.80" height="15.00" fill="#1f3c7e"/>
<rect x="477.80" y="186.70" width="0.20" height="13.90" fill="#4d67a1"/>
<rect x="478.00" y="187.08" width="1.00" height="13.52" fill="#4d67a1"/>
<rect x="479.00" y="187.52" width="1.00" height="13.08" fill="#4d67a1"/>
<rect x="480.00" y="186.75" width="0.70" height="13.85" fill="#9eaed0"/>
<rect x="485.40" y="200.10" width="1.60" height="0.50" fill="#1f3c7e"/>
<rect x="489.70" y="198.60" width="1.20" height="2.00" fill="#1f3c7e"/>
<rect x="497.70" y="186.60" width="1.30" height="14.00" fill="#1f3c7e"/>
<rect x="499.00" y="196.60" width="1.70" height="4.00" fill="#1f3c7e"/>
<rect x="500.70" y="187.60" width="1.70" height="13.00" fill="#1f3c7e"/>
<rect x="502.40" y="195.60" width="1.40" height="5.00" fill="#1f3c7e"/>
<rect x="503.80" y="184.60" width="1.70" height="16.00" fill="#1f3c7e"/>
<rect x="96.00" y="219.75" width="416.00" height="0.90" fill="#e2a0ae"/>
<rect x="99.30" y="217.30" width="1.10" height="3.00" fill="#b1072f"/>
<rect x="101.50" y="216.80" width="1.70" height="3.50" fill="#b1072f"/>
<rect x="103.20" y="218.30" width="1.80" height="2.00" fill="#b1072f"/>
<rect x="109.00" y="219.41" width="1.00" height="0.89" fill="#b1072f"/>
<rect x="110.00" y="218.51" width="1.00" height="1.79" fill="#b1072f"/>
<rect x="111.00" y="219.23" width="1.00" height="1.07" fill="#b1072f"/>
<rect x="112.00" y="218.89" width="1.00" height="1.41" fill="#b1072f"/>
<rect x="113.00" y="218.68" width="1.00" height="1.62" fill="#b1072f"/>
<rect x="114.00" y="219.13" width="1.00" height="1.17" fill="#b1072f"/>
<rect x="115.00" y="218.62" width="1.00" height="1.68" fill="#b1072f"/>
<rect x="116.00" y="218.93" width="1.00" height="1.37" fill="#b1072f"/>
<rect x="117.00" y="219.51" width="1.00" height="0.79" fill="#b1072f"/>
<rect x="118.00" y="219.27" width="1.00" height="1.03" fill="#b1072f"/>
<rect x="119.00" y="218.88" width="1.00" height="1.42" fill="#b1072f"/>
<rect x="120.00" y="219.56" width="1.00" height="0.74" fill="#b1072f"/>
<rect x="121.00" y="218.83" width="1.00" height="1.47" fill="#b1072f"/>
<rect x="122.00" y="218.54" width="1.00" height="1.76" fill="#b1072f"/>
<rect x="124.00" y="218.36" width="1.00" height="1.94" fill="#b1072f"/>
<rect x="125.00" y="219.15" width="1.00" height="1.15" fill="#b1072f"/>
<rect x="126.00" y="218.83" width="1.00" height="1.47" fill="#b1072f"/>
<rect x="127.00" y="218.85" width="1.00" height="1.45" fill="#b1072f"/>
<rect x="128.00" y="218.39" width="1.00" height="1.91" fill="#b1072f"/>
<rect x="129.00" y="218.31" width="1.00" height="1.99" fill="#b1072f"/>
<rect x="130.00" y="218.62" width="1.00" height="1.68" fill="#b1072f"/>
<rect x="132.00" y="216.80" width="1.80" height="3.50" fill="#b1072f"/>
<rect x="137.00" y="218.64" width="1.00" height="1.66" fill="#b1072f"/>
<rect x="139.00" y="219.64" width="1.00" height="0.66" fill="#b1072f"/>
<rect x="140.00" y="219.58" width="1.00" height="0.72" fill="#b1072f"/>
<rect x="142.00" y="219.48" width="1.00" height="0.82" fill="#b1072f"/>
<rect x="143.00" y="219.69" width="1.00" height="0.61" fill="#b1072f"/>
<rect x="144.00" y="218.85" width="1.00" height="1.45" fill="#b1072f"/>
<rect x="145.00" y="219.56" width="1.00" height="0.74" fill="#b1072f"/>
<rect x="146.00" y="219.27" width="1.00" height="1.03" fill="#b1072f"/>
<rect x="149.00" y="214.30" width="1.30" height="6.00" fill="#b1072f"/>
<rect x="151.00" y="218.90" width="1.00" height="1.40" fill="#b1072f"/>
<rect x="152.00" y="218.13" width="1.00" height="2.17" fill="#b1072f"/>
<rect x="153.00" y="217.54" width="1.00" height="2.76" fill="#b1072f"/>
<rect x="154.00" y="218.78" width="1.00" height="1.52" fill="#b1072f"/>
<rect x="155.00" y="218.92" width="1.00" height="1.38" fill="#b1072f"/>
<rect x="156.00" y="218.55" width="1.00" height="1.75" fill="#b1072f"/>
<rect x="157.00" y="218.57" width="1.00" height="1.73" fill="#b1072f"/>
<rect x="158.00" y="218.21" width="1.00" height="2.09" fill="#b1072f"/>
<rect x="159.00" y="219.25" width="1.00" height="1.05" fill="#b1072f"/>
<rect x="160.00" y="218.94" width="1.00" height="1.36" fill="#b1072f"/>
<rect x="161.00" y="219.27" width="1.00" height="1.03" fill="#b1072f"/>
<rect x="162.00" y="219.30" width="1.00" height="1.00" fill="#b1072f"/>
<rect x="163.00" y="217.69" width="1.00" height="2.61" fill="#b1072f"/>
<rect x="164.00" y="218.94" width="1.00" height="1.36" fill="#b1072f"/>
<rect x="166.00" y="218.27" width="1.00" height="2.03" fill="#b1072f"/>
<rect x="167.00" y="218.72" width="1.00" height="1.58" fill="#b1072f"/>
<rect x="168.00" y="217.83" width="1.00" height="2.47" fill="#b1072f"/>
<rect x="169.00" y="219.01" width="1.00" height="1.29" fill="#b1072f"/>
<rect x="170.00" y="218.55" width="1.00" height="1.75" fill="#b1072f"/>
<rect x="171.00" y="218.68" width="1.00" height="1.62" fill="#b1072f"/>
<rect x="172.00" y="218.46" width="1.00" height="1.84" fill="#b1072f"/>
<rect x="173.00" y="218.79" width="1.00" height="1.51" fill="#b1072f"/>
<rect x="174.00" y="218.10" width="1.00" height="2.20" fill="#b1072f"/>
<rect x="175.00" y="218.42" width="1.00" height="1.88" fill="#b1072f"/>
<rect x="176.00" y="219.00" width="1.00" height="1.30" fill="#b1072f"/>
<rect x="177.00" y="218.31" width="1.00" height="1.99" fill="#b1072f"/>
<rect x="178.00" y="218.26" width="1.00" height="2.04" fill="#b1072f"/>
<rect x="179.00" y="219.13" width="1.00" height="1.17" fill="#b1072f"/>
<rect x="180.00" y="219.17" width="1.00" height="1.13" fill="#b1072f"/>
<rect x="181.00" y="218.00" width="1.00" height="2.30" fill="#b1072f"/>
<rect x="182.00" y="219.30" width="1.00" height="1.00" fill="#b1072f"/>
<rect x="184.00" y="217.58" width="1.00" height="2.72" fill="#b1072f"/>
<rect x="186.00" y="219.29" width="1.00" height="1.01" fill="#b1072f"/>
<rect x="187.00" y="218.98" width="1.00" height="1.32" fill="#b1072f"/>
<rect x="188.00" y="218.14" width="1.00" height="2.16" fill="#b1072f"/>
<rect x="189.00" y="218.31" width="1.00" height="1.99" fill="#b1072f"/>
<rect x="190.00" y="217.76" width="1.00" height="2.54" fill="#b1072f"/>
<rect x="191.00" y="218.07" width="1.00" height="2.23" fill="#b1072f"/>
<rect x="192.00" y="217.90" width="1.00" height="2.40" fill="#b1072f"/>
<rect x="194.00" y="219.28" width="1.00" height="1.02" fill="#b1072f"/>
<rect x="195.00" y="218.99" width="1.00" height="1.31" fill="#b1072f"/>
<rect x="196.00" y="218.11" width="1.00" height="2.19" fill="#b1072f"/>
<rect x="197.00" y="219.11" width="1.00" height="1.19" fill="#b1072f"/>
<rect x="198.00" y="218.57" width="1.00" height="1.73" fill="#b1072f"/>
<rect x="199.00" y="217.87" width="1.00" height="2.43" fill="#b1072f"/>
<rect x="200.00" y="217.92" width="1.00" height="2.38" fill="#b1072f"/>
<rect x="201.00" y="218.73" width="1.00" height="1.57" fill="#b1072f"/>
<rect x="202.00" y="218.92" width="1.00" height="1.38" fill="#b1072f"/>
<rect x="203.00" y="219.29" width="1.00" height="1.01" fill="#b1072f"/>
<rect x="204.00" y="217.98" width="1.00" height="2.32" fill="#b1072f"/>
<rect x="205.00" y="218.35" width="1.00" height="1.95" fill="#b1072f"/>
<rect x="208.00" y="218.53" width="1.00" height="1.77" fill="#b1072f"/>
<rect x="209.00" y="217.67" width="1.00" height="2.63" fill="#b1072f"/>
<rect x="210.00" y="218.86" width="1.00" height="1.44" fill="#b1072f"/>
<rect x="211.00" y="218.61" width="1.00" height="1.69" fill="#b1072f"/>
<rect x="212.00" y="218.94" width="1.00" height="1.36" fill="#b1072f"/>
<rect x="213.00" y="219.27" width="1.00" height="1.03" fill="#b1072f"/>
<rect x="216.00" y="219.31" width="1.00" height="0.99" fill="#b1072f"/>
<rect x="217.00" y="217.59" width="1.00" height="2.71" fill="#b1072f"/>
<rect x="218.00" y="218.01" width="1.00" height="2.29" fill="#b1072f"/>
<rect x="219.00" y="219.05" width="1.00" height="1.25" fill="#b1072f"/>
<rect x="220.00" y="219.01" width="1.00" height="1.29" fill="#b1072f"/>
<rect x="221.00" y="219.28" width="1.00" height="1.02" fill="#b1072f"/>
<rect x="222.00" y="217.92" width="1.00" height="2.38" fill="#b1072f"/>
<rect x="223.00" y="219.02" width="1.00" height="1.28" fill="#b1072f"/>
<rect x="224.00" y="217.52" width="1.00" height="2.78" fill="#b1072f"/>
<rect x="225.00" y="218.30" width="1.00" height="2.00" fill="#b1072f"/>
<rect x="226.00" y="218.19" width="1.00" height="2.11" fill="#b1072f"/>
<rect x="227.00" y="217.53" width="1.00" height="2.77" fill="#b1072f"/>
<rect x="228.00" y="218.42" width="1.00" height="1.88" fill="#b1072f"/>
<rect x="229.00" y="219.02" width="1.00" height="1.28" fill="#b1072f"/>
<rect x="230.00" y="218.81" width="1.00" height="1.49" fill="#b1072f"/>
<rect x="232.00" y="218.48" width="1.00" height="1.82" fill="#b1072f"/>
<rect x="233.00" y="218.54" width="1.00" height="1.76" fill="#b1072f"/>
<rect x="234.00" y="219.22" width="1.00" height="1.08" fill="#b1072f"/>
<rect x="236.00" y="217.80" width="1.00" height="2.50" fill="#b1072f"/>
<rect x="237.00" y="218.49" width="1.00" height="1.81" fill="#b1072f"/>
<rect x="238.00" y="218.68" width="1.00" height="1.62" fill="#b1072f"/>
<rect x="240.00" y="218.10" width="1.00" height="2.20" fill="#b1072f"/>
<rect x="241.00" y="218.26" width="1.00" height="2.04" fill="#b1072f"/>
<rect x="242.00" y="218.03" width="1.00" height="2.27" fill="#b1072f"/>
<rect x="243.00" y="218.37" width="1.00" height="1.93" fill="#b1072f"/>
<rect x="244.00" y="218.18" width="1.00" height="2.12" fill="#b1072f"/>
<rect x="245.00" y="219.17" width="1.00" height="1.13" fill="#b1072f"/>
<rect x="246.00" y="218.57" width="1.00" height="1.73" fill="#b1072f"/>
<rect x="247.00" y="218.18" width="1.00" height="2.12" fill="#b1072f"/>
<rect x="249.00" y="219.19" width="1.00" height="1.11" fill="#b1072f"/>
<rect x="250.00" y="218.83" width="1.00" height="1.47" fill="#b1072f"/>
<rect x="251.00" y="217.72" width="1.00" height="2.58" fill="#b1072f"/>
<rect x="252.00" y="219.12" width="1.00" height="1.18" fill="#b1072f"/>
<rect x="253.00" y="218.76" width="1.00" height="1.54" fill="#b1072f"/>
<rect x="255.00" y="218.79" width="1.00" height="1.51" fill="#b1072f"/>
<rect x="256.00" y="217.96" width="1.00" height="2.34" fill="#b1072f"/>
<rect x="257.00" y="217.61" width="1.00" height="2.69" fill="#b1072f"/>
<rect x="258.00" y="217.94" width="1.00" height="2.36" fill="#b1072f"/>
<rect x="259.00" y="218.24" width="1.00" height="2.06" fill="#b1072f"/>
<rect x="260.00" y="217.77" width="1.00" height="2.53" fill="#b1072f"/>
<rect x="261.00" y="219.10" width="1.00" height="1.20" fill="#b1072f"/>
<rect x="262.00" y="219.24" width="1.00" height="1.06" fill="#b1072f"/>
<rect x="264.00" y="219.17" width="1.00" height="1.13" fill="#b1072f"/>
<rect x="265.00" y="219.05" width="1.00" height="1.25" fill="#b1072f"/>
<rect x="267.00" y="218.88" width="1.00" height="1.42" fill="#b1072f"/>
<rect x="268.00" y="218.89" width="1.00" height="1.41" fill="#b1072f"/>
<rect x="269.00" y="218.95" width="1.00" height="1.35" fill="#b1072f"/>
<rect x="270.00" y="218.91" width="1.00" height="1.39" fill="#b1072f"/>
<rect x="271.00" y="218.95" width="1.00" height="1.35" fill="#b1072f"/>
<rect x="272.00" y="219.26" width="1.00" height="1.04" fill="#b1072f"/>
<rect x="273.00" y="219.10" width="1.00" height="1.20" fill="#b1072f"/>
<rect x="274.00" y="218.86" width="1.00" height="1.44" fill="#b1072f"/>
<rect x="275.00" y="219.47" width="1.00" height="0.83" fill="#b1072f"/>
<rect x="276.00" y="218.93" width="1.00" height="1.37" fill="#b1072f"/>
<rect x="277.00" y="219.50" width="1.00" height="0.80" fill="#b1072f"/>
<rect x="278.00" y="219.36" width="1.00" height="0.94" fill="#b1072f"/>
<rect x="279.00" y="219.41" width="1.00" height="0.89" fill="#b1072f"/>
<rect x="280.00" y="218.82" width="1.00" height="1.48" fill="#b1072f"/>
<rect x="281.00" y="219.35" width="1.00" height="0.95" fill="#b1072f"/>
<rect x="282.00" y="219.38" width="1.00" height="0.92" fill="#b1072f"/>
<rect x="283.00" y="219.16" width="1.00" height="1.14" fill="#b1072f"/>
<rect x="284.00" y="218.72" width="1.00" height="1.58" fill="#b1072f"/>
<rect x="285.00" y="219.40" width="1.00" height="0.90" fill="#b1072f"/>
<rect x="287.00" y="218.86" width="1.00" height="1.44" fill="#b1072f"/>
<rect x="288.00" y="218.82" width="1.00" height="1.48" fill="#b1072f"/>
<rect x="289.00" y="219.12" width="1.00" height="1.18" fill="#b1072f"/>
<rect x="290.00" y="219.23" width="1.00" height="1.07" fill="#b1072f"/>
<rect x="291.00" y="219.87" width="1.00" height="0.43" fill="#b1072f"/>
<rect x="292.00" y="219.90" width="1.00" height="0.40" fill="#b1072f"/>
<rect x="293.00" y="220.07" width="1.00" height="0.23" fill="#b1072f"/>
<rect x="294.00" y="219.84" width="1.00" height="0.46" fill="#b1072f"/>
<rect x="295.00" y="220.10" width="1.00" height="0.20" fill="#b1072f"/>
<rect x="296.00" y="219.84" width="1.00" height="0.46" fill="#b1072f"/>
<rect x="297.00" y="219.93" width="1.00" height="0.37" fill="#b1072f"/>
<rect x="298.00" y="220.01" width="1.00" height="0.29" fill="#b1072f"/>
<rect x="299.00" y="219.95" width="1.00" height="0.35" fill="#b1072f"/>
<rect x="300.00" y="220.09" width="1.00" height="0.21" fill="#b1072f"/>
<rect x="301.00" y="219.81" width="1.00" height="0.49" fill="#b1072f"/>
<rect x="302.00" y="219.85" width="1.00" height="0.45" fill="#b1072f"/>
<rect x="303.00" y="219.84" width="1.00" height="0.46" fill="#b1072f"/>
<rect x="304.00" y="219.83" width="1.00" height="0.47" fill="#b1072f"/>
<rect x="305.00" y="220.00" width="1.00" height="0.30" fill="#b1072f"/>
<rect x="306.00" y="220.01" width="1.00" height="0.29" fill="#b1072f"/>
<rect x="307.00" y="219.88" width="1.00" height="0.42" fill="#b1072f"/>
<rect x="308.00" y="220.02" width="1.00" height="0.28" fill="#b1072f"/>
<rect x="309.00" y="219.94" width="1.00" height="0.36" fill="#b1072f"/>
<rect x="310.00" y="219.87" width="1.00" height="0.43" fill="#b1072f"/>
<rect x="311.00" y="220.11" width="1.00" height="0.19" fill="#b1072f"/>
<rect x="312.00" y="219.84" width="1.00" height="0.46" fill="#b1072f"/>
<rect x="313.00" y="219.95" width="1.00" height="0.35" fill="#b1072f"/>
<rect x="314.00" y="220.12" width="1.00" height="0.18" fill="#b1072f"/>
<rect x="315.00" y="219.83" width="1.00" height="0.47" fill="#b1072f"/>
<rect x="316.00" y="220.05" width="1.00" height="0.25" fill="#b1072f"/>
<rect x="317.00" y="219.96" width="1.00" height="0.34" fill="#b1072f"/>
<rect x="318.00" y="220.08" width="1.00" height="0.22" fill="#b1072f"/>
<rect x="319.00" y="220.11" width="1.00" height="0.19" fill="#b1072f"/>
<rect x="320.00" y="219.88" width="1.00" height="0.42" fill="#b1072f"/>
<rect x="321.00" y="219.97" width="1.00" height="0.33" fill="#b1072f"/>
<rect x="322.00" y="219.84" width="1.00" height="0.46" fill="#b1072f"/>
<rect x="323.00" y="220.06" width="1.00" height="0.24" fill="#b1072f"/>
<rect x="324.00" y="219.94" width="1.00" height="0.36" fill="#b1072f"/>
<rect x="325.00" y="219.85" width="1.00" height="0.45" fill="#b1072f"/>
<rect x="326.00" y="219.85" width="1.00" height="0.45" fill="#b1072f"/>
<rect x="327.00" y="219.89" width="1.00" height="0.41" fill="#b1072f"/>
<rect x="328.00" y="220.12" width="1.00" height="0.18" fill="#b1072f"/>
<rect x="329.00" y="219.89" width="1.00" height="0.41" fill="#b1072f"/>
<rect x="330.00" y="220.04" width="1.00" height="0.26" fill="#b1072f"/>
<rect x="331.00" y="220.03" width="1.00" height="0.27" fill="#b1072f"/>
<rect x="332.00" y="220.05" width="1.00" height="0.25" fill="#b1072f"/>
<rect x="333.00" y="219.82" width="1.00" height="0.48" fill="#b1072f"/>
<rect x="335.00" y="220.11" width="1.00" height="0.19" fill="#b1072f"/>
<rect x="336.00" y="220.09" width="1.00" height="0.21" fill="#b1072f"/>
<rect x="337.00" y="219.99" width="1.00" height="0.31" fill="#b1072f"/>
<rect x="338.00" y="219.99" width="1.00" height="0.31" fill="#b1072f"/>
<rect x="339.00" y="219.91" width="1.00" height="0.39" fill="#b1072f"/>
<rect x="340.00" y="219.93" width="1.00" height="0.37" fill="#b1072f"/>
<rect x="341.00" y="219.84" width="1.00" height="0.46" fill="#b1072f"/>
<rect x="342.00" y="219.96" width="1.00" height="0.34" fill="#b1072f"/>
<rect x="343.00" y="220.07" width="1.00" height="0.23" fill="#b1072f"/>
<rect x="344.00" y="219.85" width="1.00" height="0.45" fill="#b1072f"/>
<rect x="367.00" y="219.85" width="1.00" height="0.45" fill="#b1072f"/>
<rect x="368.00" y="219.35" width="1.00" height="0.95" fill="#b1072f"/>
<rect x="370.00" y="219.70" width="1.00" height="0.60" fill="#b1072f"/>
<rect x="371.00" y="219.87" width="1.00" height="0.43" fill="#b1072f"/>
<rect x="372.00" y="219.81" width="1.00" height="0.49" fill="#b1072f"/>
<rect x="373.00" y="219.62" width="1.00" height="0.68" fill="#b1072f"/>
<rect x="375.00" y="219.64" width="1.00" height="0.66" fill="#b1072f"/>
<rect x="376.00" y="219.89" width="1.00" height="0.41" fill="#b1072f"/>
<rect x="377.00" y="219.52" width="1.00" height="0.78" fill="#b1072f"/>
<rect x="378.00" y="219.48" width="1.00" height="0.82" fill="#b1072f"/>
<rect x="388.70" y="219.17" width="1.00" height="1.13" fill="#b1072f"/>
<rect x="389.70" y="218.87" width="1.00" height="1.43" fill="#b1072f"/>
<rect x="391.70" y="218.85" width="1.00" height="1.45" fill="#b1072f"/>
<rect x="392.70" y="219.23" width="1.00" height="1.07" fill="#b1072f"/>
<rect x="411.00" y="218.99" width="1.00" height="1.31" fill="#b1072f"/>
<rect x="412.00" y="218.40" width="1.00" height="1.90" fill="#b1072f"/>
<rect x="413.00" y="218.37" width="1.00" height="1.93" fill="#b1072f"/>
<rect x="414.00" y="219.11" width="1.00" height="1.19" fill="#b1072f"/>
<rect x="415.00" y="218.48" width="1.00" height="1.82" fill="#b1072f"/>
<rect x="416.00" y="219.52" width="1.00" height="0.78" fill="#b1072f"/>
<rect x="419.00" y="219.38" width="1.00" height="0.92" fill="#b1072f"/>
<rect x="420.00" y="219.71" width="1.00" height="0.59" fill="#b1072f"/>
<rect x="421.00" y="219.33" width="1.00" height="0.97" fill="#b1072f"/>
<rect x="422.00" y="219.91" width="1.00" height="0.39" fill="#b1072f"/>
<rect x="423.00" y="219.67" width="1.00" height="0.63" fill="#b1072f"/>
<rect x="424.00" y="219.68" width="1.00" height="0.62" fill="#b1072f"/>
<rect x="431.00" y="218.30" width="1.50" height="2.00" fill="#b1072f"/>
<rect x="438.00" y="219.75" width="1.00" height="0.55" fill="#b1072f"/>
<rect x="439.00" y="219.51" width="1.00" height="0.79" fill="#b1072f"/>
<rect x="440.00" y="219.78" width="1.00" height="0.52" fill="#b1072f"/>
<rect x="441.00" y="219.74" width="1.00" height="0.56" fill="#b1072f"/>
<rect x="442.00" y="219.80" width="1.00" height="0.50" fill="#b1072f"/>
<rect x="443.00" y="219.70" width="1.00" height="0.60" fill="#b1072f"/>
<rect x="444.00" y="219.79" width="1.00" height="0.51" fill="#b1072f"/>
<rect x="446.00" y="219.42" width="1.00" height="0.88" fill="#b1072f"/>
<rect x="447.00" y="219.74" width="1.00" height="0.56" fill="#b1072f"/>
<rect x="452.00" y="218.81" width="1.00" height="1.49" fill="#b1072f"/>
<rect x="453.00" y="219.31" width="1.00" height="0.99" fill="#b1072f"/>
<rect x="454.00" y="218.68" width="1.00" height="1.62" fill="#b1072f"/>
<rect x="455.00" y="218.10" width="1.00" height="2.20" fill="#b1072f"/>
<rect x="456.00" y="219.31" width="1.00" height="0.99" fill="#b1072f"/>
<rect x="457.00" y="217.81" width="1.00" height="2.49" fill="#b1072f"/>
<rect x="459.00" y="217.62" width="1.00" height="2.68" fill="#b1072f"/>
<rect x="460.00" y="218.00" width="1.00" height="2.30" fill="#b1072f"/>
<rect x="461.00" y="218.24" width="1.00" height="2.06" fill="#b1072f"/>
<rect x="462.00" y="218.05" width="1.00" height="2.25" fill="#b1072f"/>
<rect x="463.00" y="217.76" width="1.00" height="2.54" fill="#b1072f"/>
<rect x="464.00" y="218.31" width="1.00" height="1.99" fill="#b1072f"/>
<rect x="465.00" y="218.04" width="1.00" height="2.26" fill="#b1072f"/>
<rect x="466.00" y="218.07" width="1.00" height="2.23" fill="#b1072f"/>
<rect x="467.00" y="218.43" width="1.00" height="1.87" fill="#b1072f"/>
<rect x="468.00" y="218.38" width="1.00" height="1.92" fill="#b1072f"/>
<rect x="469.00" y="217.95" width="1.00" height="2.35" fill="#b1072f"/>
<rect x="470.00" y="217.76" width="1.00" height="2.54" fill="#b1072f"/>
<rect x="471.00" y="218.62" width="1.00" height="1.68" fill="#b1072f"/>
<rect x="472.00" y="218.96" width="1.00" height="1.34" fill="#b1072f"/>
<rect x="473.00" y="218.19" width="1.00" height="2.11" fill="#b1072f"/>
<rect x="474.00" y="217.54" width="1.00" height="2.76" fill="#b1072f"/>
<rect x="476.00" y="218.56" width="1.00" height="1.74" fill="#b1072f"/>
<rect x="478.00" y="218.00" width="1.00" height="2.30" fill="#b1072f"/>
<rect x="479.00" y="219.16" width="1.00" height="1.14" fill="#b1072f"/>
<rect x="480.00" y="218.06" width="1.00" height="2.24" fill="#b1072f"/>
<rect x="497.00" y="219.27" width="1.00" height="1.03" fill="#b1072f"/>
<rect x="498.00" y="217.86" width="1.00" height="2.44" fill="#b1072f"/>
<rect x="499.00" y="218.95" width="1.00" height="1.35" fill="#b1072f"/>
<rect x="500.00" y="218.36" width="1.00" height="1.94" fill="#b1072f"/>
<rect x="501.00" y="219.23" width="1.00" height="1.07" fill="#b1072f"/>
<rect x="502.00" y="218.51" width="1.00" height="1.79" fill="#b1072f"/>
<rect x="503.00" y="219.33" width="1.00" height="0.97" fill="#b1072f"/>
<rect x="504.00" y="218.65" width="1.00" height="1.65" fill="#b1072f"/>
<rect x="505.00" y="218.27" width="1.00" height="2.03" fill="#b1072f"/>
<rect x="505.00" y="216.80" width="1.00" height="3.50" fill="#b1072f"/>
<rect x="96.00" y="239.15" width="416.00" height="0.90" fill="#e4e0da"/>
<rect x="96.00" y="236.70" width="1.60" height="3.00" fill="#df952c"/>
<rect x="98.40" y="233.70" width="1.60" height="6.00" fill="#df952c"/>
<rect x="101.50" y="232.20" width="2.00" height="7.50" fill="#df952c"/>
<rect x="103.50" y="235.70" width="1.70" height="4.00" fill="#df952c"/>
<rect x="110.00" y="231.70" width="1.70" height="8.00" fill="#df952c"/>
<rect x="112.00" y="235.70" width="1.70" height="4.00" fill="#df952c"/>
<rect x="115.00" y="232.20" width="2.00" height="7.50" fill="#df952c"/>
<rect x="118.80" y="227.70" width="2.00" height="12.00" fill="#df952c"/>
<rect x="121.40" y="234.70" width="1.20" height="5.00" fill="#df952c"/>
<rect x="123.00" y="235.70" width="1.30" height="4.00" fill="#df952c"/>
<rect x="125.60" y="234.20" width="0.90" height="5.50" fill="#df952c"/>
<rect x="128.20" y="232.70" width="1.70" height="7.00" fill="#eab263"/>
<rect x="132.00" y="230.20" width="2.00" height="9.50" fill="#df952c"/>
<rect x="137.50" y="231.70" width="2.10" height="8.00" fill="#df952c"/>
<rect x="140.00" y="233.73" width="1.00" height="5.97" fill="#df952c"/>
<rect x="141.00" y="234.39" width="1.00" height="5.31" fill="#eab263"/>
<rect x="142.00" y="234.88" width="1.00" height="4.82" fill="#df952c"/>
<rect x="143.00" y="233.99" width="1.00" height="5.71" fill="#df952c"/>
<rect x="146.00" y="236.70" width="2.00" height="3.00" fill="#eab263"/>
<rect x="149.00" y="234.89" width="1.00" height="4.81" fill="#f3d3a2"/>
<rect x="150.00" y="234.28" width="1.00" height="5.42" fill="#df952c"/>
<rect x="151.00" y="234.83" width="1.00" height="4.87" fill="#eab263"/>
<rect x="152.00" y="234.71" width="1.00" height="4.99" fill="#df952c"/>
<rect x="153.00" y="231.96" width="1.00" height="7.74" fill="#df952c"/>
<rect x="154.00" y="233.06" width="1.00" height="6.64" fill="#df952c"/>
<rect x="155.00" y="231.91" width="1.00" height="7.79" fill="#eab263"/>
<rect x="157.90" y="226.70" width="1.70" height="13.00" fill="#df952c"/>
<rect x="160.00" y="230.86" width="1.00" height="8.84" fill="#df952c"/>
<rect x="161.00" y="232.03" width="1.00" height="7.67" fill="#eab263"/>
<rect x="162.00" y="231.13" width="1.00" height="8.57" fill="#df952c"/>
<rect x="163.00" y="230.79" width="1.00" height="8.91" fill="#eab263"/>
<rect x="164.00" y="232.09" width="1.00" height="7.61" fill="#f3d3a2"/>
<rect x="165.00" y="231.20" width="1.00" height="8.50" fill="#eab263"/>
<rect x="166.00" y="233.21" width="1.00" height="6.49" fill="#f3d3a2"/>
<rect x="167.00" y="232.09" width="1.00" height="7.61" fill="#df952c"/>
<rect x="168.00" y="232.31" width="1.00" height="7.39" fill="#df952c"/>
<rect x="169.00" y="231.76" width="1.00" height="7.94" fill="#eab263"/>
<rect x="171.00" y="231.85" width="1.00" height="7.85" fill="#eab263"/>
<rect x="172.00" y="231.12" width="1.00" height="8.58" fill="#df952c"/>
<rect x="173.00" y="233.77" width="1.00" height="5.93" fill="#eab263"/>
<rect x="174.00" y="233.78" width="1.00" height="5.92" fill="#f3d3a2"/>
<rect x="175.00" y="234.23" width="1.00" height="5.47" fill="#f3d3a2"/>
<rect x="176.00" y="231.40" width="1.00" height="8.30" fill="#df952c"/>
<rect x="178.00" y="233.50" width="1.00" height="6.20" fill="#df952c"/>
<rect x="179.00" y="233.20" width="1.00" height="6.50" fill="#df952c"/>
<rect x="180.00" y="234.90" width="1.00" height="4.80" fill="#df952c"/>
<rect x="181.00" y="234.26" width="1.00" height="5.44" fill="#df952c"/>
<rect x="182.00" y="233.36" width="1.00" height="6.34" fill="#df952c"/>
<rect x="183.00" y="233.94" width="1.00" height="5.76" fill="#df952c"/>
<rect x="185.00" y="234.05" width="1.00" height="5.65" fill="#df952c"/>
<rect x="186.00" y="232.68" width="1.00" height="7.02" fill="#eab263"/>
<rect x="187.00" y="234.27" width="1.00" height="5.43" fill="#df952c"/>
<rect x="188.00" y="234.38" width="1.00" height="5.32" fill="#df952c"/>
<rect x="189.00" y="234.30" width="1.00" height="5.40" fill="#df952c"/>
<rect x="190.00" y="233.44" width="1.00" height="6.26" fill="#df952c"/>
<rect x="191.00" y="233.86" width="1.00" height="5.84" fill="#df952c"/>
<rect x="192.00" y="233.60" width="1.00" height="6.10" fill="#f3d3a2"/>
<rect x="193.00" y="233.31" width="1.00" height="6.39" fill="#df952c"/>
<rect x="194.00" y="231.77" width="1.00" height="7.93" fill="#eab263"/>
<rect x="195.00" y="232.01" width="1.00" height="7.69" fill="#eab263"/>
<rect x="196.00" y="233.31" width="1.00" height="6.39" fill="#eab263"/>
<rect x="197.00" y="233.21" width="1.00" height="6.49" fill="#f3d3a2"/>
<rect x="198.00" y="232.66" width="1.00" height="7.04" fill="#df952c"/>
<rect x="199.00" y="232.74" width="1.00" height="6.96" fill="#f3d3a2"/>
<rect x="200.00" y="232.34" width="1.00" height="7.36" fill="#df952c"/>
<rect x="202.00" y="233.06" width="1.00" height="6.64" fill="#df952c"/>
<rect x="203.00" y="231.97" width="1.00" height="7.73" fill="#df952c"/>
<rect x="204.00" y="233.65" width="1.00" height="6.05" fill="#df952c"/>
<rect x="205.00" y="232.33" width="1.00" height="7.37" fill="#df952c"/>
<rect x="206.00" y="233.38" width="1.00" height="6.32" fill="#df952c"/>
<rect x="207.00" y="232.78" width="1.00" height="6.92" fill="#df952c"/>
<rect x="208.00" y="232.00" width="1.00" height="7.70" fill="#df952c"/>
<rect x="209.00" y="233.20" width="1.00" height="6.50" fill="#eab263"/>
<rect x="210.00" y="233.44" width="1.00" height="6.26" fill="#df952c"/>
<rect x="211.00" y="233.90" width="1.00" height="5.80" fill="#df952c"/>
<rect x="213.00" y="233.33" width="1.00" height="6.37" fill="#df952c"/>
<rect x="214.00" y="233.09" width="1.00" height="6.61" fill="#eab263"/>
<rect x="215.00" y="233.83" width="1.00" height="5.87" fill="#df952c"/>
<rect x="216.00" y="233.51" width="1.00" height="6.19" fill="#df952c"/>
<rect x="217.00" y="233.11" width="1.00" height="6.59" fill="#df952c"/>
<rect x="218.00" y="232.42" width="1.00" height="7.28" fill="#f3d3a2"/>
<rect x="219.00" y="234.46" width="1.00" height="5.24" fill="#f3d3a2"/>
<rect x="220.00" y="232.63" width="1.00" height="7.07" fill="#df952c"/>
<rect x="221.00" y="234.09" width="1.00" height="5.61" fill="#df952c"/>
<rect x="222.00" y="231.90" width="1.00" height="7.80" fill="#df952c"/>
<rect x="223.00" y="232.29" width="1.00" height="7.41" fill="#df952c"/>
<rect x="224.00" y="232.93" width="1.00" height="6.77" fill="#f3d3a2"/>
<rect x="225.00" y="233.94" width="1.00" height="5.76" fill="#f3d3a2"/>
<rect x="226.00" y="233.38" width="1.00" height="6.32" fill="#df952c"/>
<rect x="227.00" y="232.13" width="1.00" height="7.57" fill="#df952c"/>
<rect x="229.00" y="234.84" width="1.00" height="4.86" fill="#df952c"/>
<rect x="230.00" y="233.28" width="1.00" height="6.42" fill="#df952c"/>
<rect x="231.00" y="232.55" width="1.00" height="7.15" fill="#eab263"/>
<rect x="232.00" y="233.80" width="1.00" height="5.90" fill="#f3d3a2"/>
<rect x="233.00" y="233.48" width="1.00" height="6.22" fill="#f3d3a2"/>
<rect x="234.00" y="234.17" width="1.00" height="5.53" fill="#f3d3a2"/>
<rect x="235.00" y="233.36" width="1.00" height="6.34" fill="#eab263"/>
<rect x="236.00" y="232.12" width="1.00" height="7.58" fill="#f3d3a2"/>
<rect x="237.00" y="233.47" width="1.00" height="6.23" fill="#df952c"/>
<rect x="238.00" y="232.73" width="1.00" height="6.97" fill="#df952c"/>
<rect x="239.00" y="234.20" width="1.00" height="5.50" fill="#df952c"/>
<rect x="240.00" y="232.15" width="1.00" height="7.55" fill="#eab263"/>
<rect x="241.00" y="233.12" width="1.00" height="6.58" fill="#df952c"/>
<rect x="242.00" y="234.43" width="1.00" height="5.27" fill="#df952c"/>
<rect x="244.00" y="232.11" width="1.00" height="7.59" fill="#df952c"/>
<rect x="245.00" y="233.55" width="1.00" height="6.15" fill="#eab263"/>
<rect x="246.00" y="233.71" width="1.00" height="5.99" fill="#df952c"/>
<rect x="247.00" y="233.63" width="1.00" height="6.07" fill="#df952c"/>
<rect x="248.00" y="233.38" width="1.00" height="6.32" fill="#df952c"/>
<rect x="249.00" y="234.07" width="1.00" height="5.63" fill="#f3d3a2"/>
<rect x="250.00" y="233.64" width="1.00" height="6.06" fill="#df952c"/>
<rect x="251.00" y="232.20" width="1.00" height="7.50" fill="#eab263"/>
<rect x="252.00" y="231.92" width="1.00" height="7.78" fill="#df952c"/>
<rect x="254.00" y="232.11" width="1.00" height="7.59" fill="#eab263"/>
<rect x="255.00" y="232.73" width="1.00" height="6.97" fill="#df952c"/>
<rect x="256.00" y="233.17" width="1.00" height="6.53" fill="#f3d3a2"/>
<rect x="257.00" y="234.07" width="1.00" height="5.63" fill="#f3d3a2"/>
<rect x="258.00" y="231.89" width="1.00" height="7.81" fill="#df952c"/>
<rect x="259.00" y="234.06" width="1.00" height="5.64" fill="#df952c"/>
<rect x="260.00" y="234.19" width="1.00" height="5.51" fill="#df952c"/>
<rect x="261.00" y="234.33" width="1.00" height="5.37" fill="#eab263"/>
<rect x="262.00" y="232.94" width="1.00" height="6.76" fill="#df952c"/>
<rect x="263.00" y="231.30" width="1.00" height="8.40" fill="#df952c"/>
<rect x="264.00" y="231.68" width="1.00" height="8.02" fill="#df952c"/>
<rect x="265.50" y="234.86" width="0.50" height="4.84" fill="#f3d3a2"/>
<rect x="266.00" y="235.01" width="1.00" height="4.69" fill="#eab263"/>
<rect x="267.00" y="235.00" width="1.00" height="4.70" fill="#eab263"/>
<rect x="269.50" y="234.70" width="2.00" height="5.00" fill="#df952c"/>
<rect x="272.40" y="232.23" width="0.60" height="7.47" fill="#df952c"/>
<rect x="273.00" y="232.18" width="1.00" height="7.52" fill="#eab263"/>
<rect x="274.00" y="231.88" width="1.00" height="7.82" fill="#eab263"/>
<rect x="275.80" y="235.70" width="1.70" height="4.00" fill="#eab263"/>
<rect x="277.50" y="231.63" width="0.50" height="8.07" fill="#df952c"/>
<rect x="278.00" y="231.21" width="1.00" height="8.49" fill="#eab263"/>
<rect x="279.00" y="231.65" width="1.00" height="8.05" fill="#df952c"/>
<rect x="280.00" y="230.20" width="2.00" height="9.50" fill="#df952c"/>
<rect x="283.00" y="233.70" width="1.30" height="6.00" fill="#df952c"/>
<rect x="285.00" y="227.70" width="1.80" height="12.00" fill="#df952c"/>
<rect x="288.20" y="235.20" width="2.00" height="4.50" fill="#df952c"/>
<rect x="294.00" y="238.70" width="1.00" height="1.00" fill="#df952c"/>
<rect x="298.70" y="230.20" width="1.30" height="9.50" fill="#df952c"/>
<rect x="300.00" y="235.70" width="1.30" height="4.00" fill="#df952c"/>
<rect x="303.50" y="234.70" width="1.70" height="5.00" fill="#df952c"/>
<rect x="305.50" y="233.20" width="1.70" height="6.50" fill="#df952c"/>
<rect x="314.00" y="239.32" width="1.00" height="0.38" fill="#df952c"/>
<rect x="315.00" y="239.35" width="1.00" height="0.35" fill="#df952c"/>
<rect x="316.00" y="239.07" width="1.00" height="0.63" fill="#df952c"/>
<rect x="317.00" y="239.32" width="1.00" height="0.38" fill="#df952c"/>
<rect x="318.00" y="239.42" width="1.00" height="0.28" fill="#df952c"/>
<rect x="319.00" y="239.40" width="1.00" height="0.30" fill="#df952c"/>
<rect x="320.00" y="239.21" width="1.00" height="0.49" fill="#df952c"/>
<rect x="329.00" y="238.70" width="2.00" height="1.00" fill="#df952c"/>
<rect x="343.00" y="238.70" width="1.00" height="1.00" fill="#df952c"/>
<rect x="366.00" y="238.70" width="3.00" height="1.00" fill="#df952c"/>
<rect x="370.80" y="235.70" width="1.40" height="4.00" fill="#df952c"/>
<rect x="372.50" y="236.20" width="1.70" height="3.50" fill="#df952c"/>
<rect x="376.00" y="238.70" width="1.60" height="1.00" fill="#df952c"/>
<rect x="389.00" y="238.70" width="1.90" height="1.00" fill="#df952c"/>
<rect x="391.60" y="232.70" width="2.20" height="7.00" fill="#df952c"/>
<rect x="404.80" y="238.70" width="0.90" height="1.00" fill="#df952c"/>
<rect x="415.00" y="232.69" width="1.00" height="7.01" fill="#df952c"/>
<rect x="416.00" y="232.40" width="1.00" height="7.30" fill="#df952c"/>
<rect x="419.30" y="232.70" width="1.20" height="7.00" fill="#eab263"/>
<rect x="423.50" y="233.20" width="1.40" height="6.50" fill="#df952c"/>
<rect x="430.00" y="234.70" width="1.00" height="5.00" fill="#df952c"/>
<rect x="431.00" y="230.70" width="1.70" height="9.00" fill="#df952c"/>
<rect x="438.00" y="231.06" width="1.00" height="8.64" fill="#f3d3a2"/>
<rect x="439.00" y="230.97" width="1.00" height="8.73" fill="#f3d3a2"/>
<rect x="440.00" y="231.14" width="0.40" height="8.56" fill="#f3d3a2"/>
<rect x="440.40" y="236.20" width="1.60" height="3.50" fill="#df952c"/>
<rect x="443.80" y="238.20" width="2.50" height="1.50" fill="#df952c"/>
<rect x="446.30" y="236.20" width="1.40" height="3.50" fill="#df952c"/>
<rect x="448.90" y="238.70" width="3.40" height="1.00" fill="#df952c"/>
<rect x="452.30" y="231.29" width="0.70" height="8.41" fill="#df952c"/>
<rect x="453.00" y="231.69" width="1.00" height="8.01" fill="#df952c"/>
<rect x="454.00" y="231.48" width="1.00" height="8.22" fill="#df952c"/>
<rect x="455.00" y="231.31" width="0.70" height="8.39" fill="#df952c"/>
<rect x="455.70" y="229.20" width="1.70" height="10.50" fill="#df952c"/>
<rect x="457.40" y="229.70" width="1.20" height="10.00" fill="#f3d3a2"/>
<rect x="459.00" y="234.20" width="1.20" height="5.50" fill="#eab263"/>
<rect x="462.50" y="231.99" width="0.50" height="7.71" fill="#df952c"/>
<rect x="464.00" y="231.82" width="1.00" height="7.88" fill="#df952c"/>
<rect x="465.00" y="231.61" width="1.00" height="8.09" fill="#eab263"/>
<rect x="466.00" y="231.56" width="1.00" height="8.14" fill="#df952c"/>
<rect x="467.00" y="231.07" width="1.00" height="8.63" fill="#f3d3a2"/>
<rect x="468.00" y="231.68" width="1.00" height="8.02" fill="#eab263"/>
<rect x="469.00" y="230.85" width="1.00" height="8.85" fill="#df952c"/>
<rect x="470.00" y="231.19" width="1.00" height="8.51" fill="#df952c"/>
<rect x="471.00" y="227.70" width="2.20" height="12.00" fill="#df952c"/>
<rect x="476.00" y="231.86" width="1.00" height="7.84" fill="#eab263"/>
<rect x="477.00" y="232.52" width="1.00" height="7.18" fill="#f3d3a2"/>
<rect x="478.00" y="232.11" width="1.00" height="7.59" fill="#f3d3a2"/>
<rect x="479.00" y="232.60" width="1.00" height="7.10" fill="#eab263"/>
<rect x="480.00" y="231.78" width="1.00" height="7.92" fill="#df952c"/>
<rect x="497.70" y="232.70" width="1.30" height="7.00" fill="#df952c"/>
<rect x="500.70" y="234.70" width="1.70" height="5.00" fill="#df952c"/>
<rect x="502.40" y="229.05" width="0.60" height="10.65" fill="#eab263"/>
<rect x="503.00" y="229.20" width="1.00" height="10.50" fill="#df952c"/>
<rect x="504.00" y="228.82" width="1.00" height="10.88" fill="#eab263"/>
<rect x="505.00" y="229.37" width="0.80" height="10.33" fill="#eab263"/>
<rect x="96.50" y="242.00" width="1.50" height="3.30" fill="#000" fill-opacity="0.45"/>
<rect x="98.80" y="242.00" width="1.00" height="3.30" fill="#000" fill-opacity="0.95"/>
<rect x="100.50" y="242.00" width="1.00" height="3.30" fill="#000" fill-opacity="0.95"/>
<rect x="103.00" y="242.00" width="1.00" height="3.30" fill="#000" fill-opacity="0.76"/>
<rect x="106.00" y="242.00" width="1.00" height="3.30" fill="#000" fill-opacity="0.76"/>
<rect x="110.00" y="242.00" width="1.50" height="3.30" fill="#000" fill-opacity="0.81"/>
<rect x="112.50" y="242.00" width="1.50" height="3.30" fill="#000" fill-opacity="0.54"/>
<rect x="114.50" y="242.00" width="1.70" height="3.30" fill="#000" fill-opacity="0.54"/>
<rect x="117.00" y="242.00" width="1.00" height="3.30" fill="#000" fill-opacity="0.45"/>
<rect x="119.00" y="242.00" width="1.50" height="3.30" fill="#000" fill-opacity="0.81"/>
<rect x="122.50" y="242.00" width="1.00" height="3.30" fill="#000" fill-opacity="0.45"/>
<rect x="125.00" y="242.00" width="1.20" height="3.30" fill="#000" fill-opacity="0.81"/>
<rect x="129.00" y="242.00" width="2.00" height="3.30" fill="#000" fill-opacity="0.45"/>
<rect x="132.00" y="242.00" width="2.50" height="3.30" fill="#000" fill-opacity="0.81"/>
<rect x="137.50" y="242.00" width="1.50" height="3.30" fill="#000" fill-opacity="0.45"/>
<rect x="139.50" y="242.00" width="1.00" height="3.30" fill="#000" fill-opacity="0.45"/>
<rect x="141.50" y="242.00" width="1.00" height="3.30" fill="#000" fill-opacity="0.85"/>
<rect x="143.50" y="242.00" width="1.00" height="3.30" fill="#000" fill-opacity="0.85"/>
<rect x="146.50" y="242.00" width="1.00" height="3.30" fill="#000" fill-opacity="0.81"/>
<rect x="148.50" y="242.00" width="1.00" height="3.30" fill="#000" fill-opacity="0.76"/>
<rect x="150.50" y="242.00" width="1.00" height="3.30" fill="#000" fill-opacity="0.76"/>
<rect x="153.00" y="242.00" width="1.00" height="3.30" fill="#000" fill-opacity="0.85"/>
<rect x="155.00" y="242.00" width="1.00" height="3.30" fill="#000" fill-opacity="0.85"/>
<rect x="158.00" y="242.00" width="1.00" height="3.30" fill="#000" fill-opacity="0.85"/>
<rect x="160.50" y="242.00" width="1.00" height="3.30" fill="#000" fill-opacity="0.85"/>
<rect x="163.00" y="242.00" width="1.00" height="3.30" fill="#000" fill-opacity="0.85"/>
<rect x="166.50" y="242.00" width="1.00" height="3.30" fill="#000" fill-opacity="0.85"/>
<rect x="169.00" y="242.00" width="1.00" height="3.30" fill="#000" fill-opacity="0.85"/>
<rect x="171.50" y="242.00" width="1.50" height="3.30" fill="#000" fill-opacity="0.81"/>
<rect x="174.00" y="242.00" width="2.00" height="3.30" fill="#000" fill-opacity="0.63"/>
<rect x="177.00" y="242.00" width="1.50" height="3.30" fill="#000" fill-opacity="0.90"/>
<rect x="180.00" y="242.00" width="2.00" height="3.30" fill="#000" fill-opacity="0.45"/>
<rect x="183.00" y="242.00" width="1.50" height="3.30" fill="#000" fill-opacity="0.81"/>
<rect x="185.50" y="242.00" width="2.50" height="3.30" fill="#000" fill-opacity="0.81"/>
<rect x="189.00" y="242.00" width="1.00" height="3.30" fill="#000" fill-opacity="0.45"/>
<rect x="191.00" y="242.00" width="1.00" height="3.30" fill="#000" fill-opacity="0.27"/>
<rect x="193.50" y="242.00" width="1.00" height="3.30" fill="#000" fill-opacity="0.95"/>
<rect x="197.00" y="242.00" width="1.00" height="3.30" fill="#000" fill-opacity="0.95"/>
<rect x="198.00" y="242.00" width="1.20" height="3.30" fill="#000" fill-opacity="0.90"/>
<rect x="201.00" y="242.00" width="1.50" height="3.30" fill="#000" fill-opacity="0.81"/>
<rect x="203.50" y="242.00" width="2.00" height="3.30" fill="#000" fill-opacity="0.54"/>
<rect x="206.00" y="242.00" width="1.50" height="3.30" fill="#000" fill-opacity="0.90"/>
<rect x="208.50" y="242.00" width="2.50" height="3.30" fill="#000" fill-opacity="0.81"/>
<rect x="211.50" y="242.00" width="2.50" height="3.30" fill="#000" fill-opacity="0.63"/>
<rect x="217.00" y="242.00" width="2.00" height="3.30" fill="#000" fill-opacity="0.81"/>
<rect x="220.50" y="242.00" width="1.00" height="3.30" fill="#000" fill-opacity="0.85"/>
<rect x="223.00" y="242.00" width="1.00" height="3.30" fill="#000" fill-opacity="0.85"/>
<rect x="227.00" y="242.00" width="1.50" height="3.30" fill="#000" fill-opacity="0.45"/>
<rect x="229.50" y="242.00" width="2.50" height="3.30" fill="#000" fill-opacity="0.90"/>
<rect x="232.50" y="242.00" width="1.50" height="3.30" fill="#000" fill-opacity="0.81"/>
<rect x="235.00" y="242.00" width="1.50" height="3.30" fill="#000" fill-opacity="0.90"/>
<rect x="238.50" y="242.00" width="1.50" height="3.30" fill="#000" fill-opacity="0.81"/>
<rect x="241.00" y="242.00" width="1.50" height="3.30" fill="#000" fill-opacity="0.81"/>
<rect x="244.00" y="242.00" width="1.50" height="3.30" fill="#000" fill-opacity="0.81"/>
<rect x="247.00" y="242.00" width="1.00" height="3.30" fill="#000" fill-opacity="0.85"/>
<rect x="249.00" y="242.00" width="1.00" height="3.30" fill="#000" fill-opacity="0.85"/>
<rect x="250.00" y="242.00" width="2.00" height="3.30" fill="#000" fill-opacity="0.81"/>
<rect x="252.50" y="242.00" width="1.00" height="3.30" fill="#000" fill-opacity="0.95"/>
<rect x="255.00" y="242.00" width="1.00" height="3.30" fill="#000" fill-opacity="0.95"/>
<rect x="257.50" y="242.00" width="1.00" height="3.30" fill="#000" fill-opacity="0.95"/>
<rect x="260.00" y="242.00" width="1.00" height="3.30" fill="#000" fill-opacity="0.95"/>
<rect x="262.00" y="242.00" width="1.00" height="3.30" fill="#000" fill-opacity="0.90"/>
<rect x="265.00" y="242.00" width="1.00" height="3.30" fill="#000" fill-opacity="0.90"/>
<rect x="267.00" y="242.00" width="1.00" height="3.30" fill="#000" fill-opacity="0.45"/>
<rect x="269.00" y="242.00" width="1.00" height="3.30" fill="#000" fill-opacity="0.81"/>
<rect x="271.50" y="242.00" width="1.00" height="3.30" fill="#000" fill-opacity="0.95"/>
<rect x="274.00" y="242.00" width="1.00" height="3.30" fill="#000" fill-opacity="0.95"/>
<rect x="276.00" y="242.00" width="1.00" height="3.30" fill="#000" fill-opacity="0.45"/>
<rect x="278.00" y="242.00" width="1.00" height="3.30" fill="#000" fill-opacity="0.66"/>
<rect x="281.00" y="242.00" width="1.00" height="3.30" fill="#000" fill-opacity="0.66"/>
<rect x="283.00" y="242.00" width="1.50" height="3.30" fill="#000" fill-opacity="0.81"/>
<rect x="285.50" y="242.00" width="1.50" height="3.30" fill="#000" fill-opacity="0.81"/>
<rect x="288.00" y="242.00" width="1.00" height="3.30" fill="#000" fill-opacity="0.28"/>
<rect x="290.00" y="242.00" width="1.00" height="3.30" fill="#000" fill-opacity="0.28"/>
<rect x="293.50" y="242.00" width="1.00" height="3.30" fill="#000" fill-opacity="0.45"/>
<rect x="296.50" y="242.00" width="1.50" height="3.30" fill="#000" fill-opacity="0.81"/>
<rect x="299.00" y="242.00" width="1.50" height="3.30" fill="#000" fill-opacity="0.45"/>
<rect x="302.00" y="242.00" width="2.50" height="3.30" fill="#000" fill-opacity="0.81"/>
<rect x="306.00" y="242.00" width="2.00" height="3.30" fill="#000" fill-opacity="0.81"/>
<rect x="309.50" y="242.00" width="1.50" height="3.30" fill="#000" fill-opacity="0.90"/>
<rect x="315.00" y="242.00" width="1.50" height="3.30" fill="#000" fill-opacity="0.45"/>
<rect x="318.00" y="242.00" width="2.00" height="3.30" fill="#000" fill-opacity="0.45"/>
<rect x="321.50" y="242.00" width="1.50" height="3.30" fill="#000" fill-opacity="0.81"/>
<rect x="324.50" y="242.00" width="1.50" height="3.30" fill="#000" fill-opacity="0.81"/>
<rect x="328.00" y="242.00" width="1.00" height="3.30" fill="#000" fill-opacity="0.90"/>
<rect x="331.00" y="242.00" width="1.00" height="3.30" fill="#000" fill-opacity="0.90"/>
<rect x="333.00" y="242.00" width="2.00" height="3.30" fill="#000" fill-opacity="0.45"/>
<rect x="365.00" y="242.00" width="1.00" height="3.30" fill="#000" fill-opacity="0.85"/>
<rect x="367.00" y="242.00" width="1.00" height="3.30" fill="#000" fill-opacity="0.85"/>
<rect x="369.00" y="242.00" width="1.00" height="3.30" fill="#000" fill-opacity="0.85"/>
<rect x="371.00" y="242.00" width="1.00" height="3.30" fill="#000" fill-opacity="0.45"/>
<rect x="373.50" y="242.00" width="1.50" height="3.30" fill="#000" fill-opacity="0.90"/>
<rect x="376.50" y="242.00" width="2.00" height="3.30" fill="#000" fill-opacity="0.85"/>
<rect x="383.00" y="242.00" width="1.00" height="3.30" fill="#000" fill-opacity="0.81"/>
<rect x="388.50" y="242.00" width="1.50" height="3.30" fill="#000" fill-opacity="0.81"/>
<rect x="392.00" y="242.00" width="1.50" height="3.30" fill="#000" fill-opacity="0.81"/>
<rect x="395.50" y="242.00" width="1.50" height="3.30" fill="#000" fill-opacity="0.45"/>
<rect x="399.50" y="242.00" width="0.50" height="3.30" fill="#000" fill-opacity="0.27"/>
<rect x="403.00" y="242.00" width="1.00" height="3.30" fill="#000" fill-opacity="0.45"/>
<rect x="411.50" y="242.00" width="1.00" height="3.30" fill="#000" fill-opacity="0.45"/>
<rect x="414.00" y="242.00" width="2.00" height="3.30" fill="#000" fill-opacity="0.81"/>
<rect x="419.50" y="242.00" width="1.00" height="3.30" fill="#000" fill-opacity="0.45"/>
<rect x="423.50" y="242.00" width="1.50" height="3.30" fill="#000" fill-opacity="0.45"/>
<rect x="430.50" y="242.00" width="1.50" height="3.30" fill="#000" fill-opacity="0.90"/>
<rect x="438.50" y="242.00" width="1.00" height="3.30" fill="#000" fill-opacity="0.27"/>
<rect x="440.50" y="242.00" width="1.00" height="3.30" fill="#000" fill-opacity="0.85"/>
<rect x="443.00" y="242.00" width="1.00" height="3.30" fill="#000" fill-opacity="0.85"/>
<rect x="445.50" y="242.00" width="1.50" height="3.30" fill="#000" fill-opacity="0.45"/>
<rect x="448.50" y="242.00" width="2.00" height="3.30" fill="#000" fill-opacity="0.90"/>
<rect x="451.50" y="242.00" width="1.00" height="3.30" fill="#000" fill-opacity="0.95"/>
<rect x="455.00" y="242.00" width="1.00" height="3.30" fill="#000" fill-opacity="0.95"/>
<rect x="457.00" y="242.00" width="1.00" height="3.30" fill="#000" fill-opacity="0.45"/>
<rect x="458.50" y="242.00" width="1.50" height="3.30" fill="#000" fill-opacity="0.45"/>
<rect x="462.00" y="242.00" width="2.20" height="3.30" fill="#000" fill-opacity="0.90"/>
<rect x="464.70" y="242.00" width="1.00" height="3.30" fill="#000" fill-opacity="0.85"/>
<rect x="467.40" y="242.00" width="1.00" height="3.30" fill="#000" fill-opacity="0.85"/>
<rect x="469.40" y="242.00" width="1.00" height="3.30" fill="#000" fill-opacity="0.95"/>
<rect x="471.50" y="242.00" width="1.00" height="3.30" fill="#000" fill-opacity="0.95"/>
<rect x="476.20" y="242.00" width="2.00" height="3.30" fill="#000" fill-opacity="0.81"/>
<rect x="478.80" y="242.00" width="1.50" height="3.30" fill="#000" fill-opacity="0.45"/>
<rect x="485.50" y="242.00" width="1.10" height="3.30" fill="#000" fill-opacity="0.27"/>
<rect x="489.70" y="242.00" width="1.00" height="3.30" fill="#000" fill-opacity="0.81"/>
<rect x="491.20" y="242.00" width="1.10" height="3.30" fill="#000" fill-opacity="0.45"/>
<rect x="498.00" y="242.00" width="1.50" height="3.30" fill="#000" fill-opacity="0.81"/>
<rect x="500.00" y="242.00" width="1.00" height="3.30" fill="#000" fill-opacity="0.85"/>
<rect x="501.70" y="242.00" width="1.00" height="3.30" fill="#000" fill-opacity="0.85"/>
<rect x="504.70" y="242.00" width="1.10" height="3.30" fill="#000" fill-opacity="0.81"/>
<rect x="96.00" y="274.65" width="416.00" height="0.90" fill="#b9c4dc"/>
<rect x="96.30" y="269.20" width="1.10" height="6.00" fill="#9eaed0"/>
<rect x="97.40" y="265.70" width="1.20" height="9.50" fill="#4d67a1"/>
<rect x="98.60" y="263.20" width="2.10" height="12.00" fill="#1f3c7e"/>
<rect x="100.70" y="262.08" width="0.30" height="13.12" fill="#4d67a1"/>
<rect x="101.00" y="262.64" width="1.00" height="12.56" fill="#4d67a1"/>
<rect x="102.00" y="261.95" width="1.00" height="13.25" fill="#4d67a1"/>
<rect x="103.00" y="260.70" width="1.70" height="14.50" fill="#1f3c7e"/>
<rect x="104.70" y="262.20" width="1.60" height="13.00" fill="#1f3c7e"/>
<rect x="109.50" y="261.20" width="1.70" height="14.00" fill="#1f3c7e"/>
<rect x="111.20" y="262.20" width="1.60" height="13.00" fill="#9eaed0"/>
<rect x="112.80" y="261.70" width="1.20" height="13.50" fill="#1f3c7e"/>
<rect x="115.20" y="263.20" width="1.60" height="12.00" fill="#4d67a1"/>
<rect x="118.90" y="262.70" width="1.10" height="12.50" fill="#1f3c7e"/>
<rect x="120.00" y="269.20" width="1.20" height="6.00" fill="#4d67a1"/>
<rect x="122.50" y="264.20" width="0.80" height="11.00" fill="#9eaed0"/>
<rect x="124.90" y="263.20" width="0.80" height="12.00" fill="#4d67a1"/>
<rect x="128.00" y="263.20" width="1.20" height="12.00" fill="#4d67a1"/>
<rect x="132.20" y="261.70" width="1.60" height="13.50" fill="#1f3c7e"/>
<rect x="137.80" y="262.20" width="1.60" height="13.00" fill="#9eaed0"/>
<rect x="139.00" y="262.95" width="1.00" height="12.25" fill="#4d67a1"/>
<rect x="140.00" y="262.33" width="1.00" height="12.87" fill="#1f3c7e"/>
<rect x="141.00" y="262.88" width="1.00" height="12.32" fill="#4d67a1"/>
<rect x="142.00" y="263.14" width="1.00" height="12.06" fill="#9eaed0"/>
<rect x="143.00" y="262.37" width="1.00" height="12.83" fill="#4d67a1"/>
<rect x="145.50" y="274.70" width="1.50" height="0.50" fill="#1f3c7e"/>
<rect x="148.00" y="262.34" width="1.00" height="12.86" fill="#1f3c7e"/>
<rect x="149.00" y="262.24" width="1.00" height="12.96" fill="#4d67a1"/>
<rect x="150.00" y="262.43" width="1.00" height="12.77" fill="#1f3c7e"/>
<rect x="151.00" y="262.30" width="1.00" height="12.90" fill="#4d67a1"/>
<rect x="152.00" y="262.30" width="1.00" height="12.90" fill="#1f3c7e"/>
<rect x="153.00" y="262.36" width="1.00" height="12.84" fill="#9eaed0"/>
<rect x="155.00" y="261.18" width="1.00" height="14.02" fill="#4d67a1"/>
<rect x="156.00" y="260.84" width="1.00" height="14.36" fill="#1f3c7e"/>
<rect x="158.00" y="262.21" width="1.00" height="12.99" fill="#1f3c7e"/>
<rect x="159.00" y="260.96" width="1.00" height="14.24" fill="#1f3c7e"/>
<rect x="160.00" y="261.41" width="1.00" height="13.79" fill="#1f3c7e"/>
<rect x="161.00" y="264.11" width="1.00" height="11.09" fill="#1f3c7e"/>
<rect x="162.00" y="261.83" width="1.00" height="13.37" fill="#4d67a1"/>
<rect x="163.00" y="262.10" width="1.00" height="13.10" fill="#4d67a1"/>
<rect x="164.00" y="262.15" width="1.00" height="13.05" fill="#9eaed0"/>
<rect x="165.00" y="262.14" width="1.00" height="13.06" fill="#9eaed0"/>
<rect x="167.00" y="261.19" width="1.00" height="14.01" fill="#9eaed0"/>
<rect x="168.00" y="260.94" width="1.00" height="14.26" fill="#1f3c7e"/>
<rect x="169.00" y="261.90" width="1.00" height="13.30" fill="#4d67a1"/>
<rect x="170.00" y="261.43" width="1.00" height="13.77" fill="#4d67a1"/>
<rect x="171.00" y="261.93" width="1.00" height="13.27" fill="#1f3c7e"/>
<rect x="172.00" y="261.83" width="1.00" height="13.37" fill="#1f3c7e"/>
<rect x="173.00" y="261.41" width="1.00" height="13.79" fill="#1f3c7e"/>
<rect x="174.00" y="262.16" width="1.00" height="13.04" fill="#1f3c7e"/>
<rect x="175.00" y="261.94" width="1.00" height="13.26" fill="#4d67a1"/>
<rect x="177.00" y="261.70" width="1.00" height="13.50" fill="#9eaed0"/>
<rect x="178.00" y="261.37" width="1.00" height="13.83" fill="#1f3c7e"/>
<rect x="179.00" y="262.14" width="1.00" height="13.06" fill="#4d67a1"/>
<rect x="180.00" y="261.54" width="1.00" height="13.66" fill="#1f3c7e"/>
<rect x="181.00" y="263.97" width="1.00" height="11.23" fill="#1f3c7e"/>
<rect x="182.00" y="261.33" width="1.00" height="13.87" fill="#1f3c7e"/>
<rect x="183.00" y="261.48" width="1.00" height="13.72" fill="#1f3c7e"/>
<rect x="184.00" y="261.51" width="1.00" height="13.69" fill="#4d67a1"/>
<rect x="185.00" y="261.57" width="1.00" height="13.63" fill="#1f3c7e"/>
<rect x="186.00" y="261.35" width="1.00" height="13.85" fill="#4d67a1"/>
<rect x="187.00" y="261.44" width="1.00" height="13.76" fill="#1f3c7e"/>
<rect x="188.00" y="261.07" width="1.00" height="14.13" fill="#1f3c7e"/>
<rect x="189.00" y="261.80" width="1.00" height="13.40" fill="#9eaed0"/>
<rect x="190.00" y="260.98" width="1.00" height="14.22" fill="#4d67a1"/>
<rect x="192.00" y="262.09" width="1.00" height="13.11" fill="#1f3c7e"/>
<rect x="193.00" y="262.05" width="1.00" height="13.15" fill="#1f3c7e"/>
<rect x="194.00" y="261.21" width="1.00" height="13.99" fill="#4d67a1"/>
<rect x="195.00" y="261.45" width="1.00" height="13.75" fill="#9eaed0"/>
<rect x="196.00" y="261.68" width="1.00" height="13.52" fill="#9eaed0"/>
<rect x="197.00" y="261.88" width="1.00" height="13.32" fill="#4d67a1"/>
<rect x="198.00" y="261.27" width="1.00" height="13.93" fill="#1f3c7e"/>
<rect x="199.00" y="261.15" width="1.00" height="14.05" fill="#1f3c7e"/>
<rect x="200.00" y="272.20" width="1.60" height="3.00" fill="#9eaed0"/>
<rect x="202.00" y="261.49" width="1.00" height="13.71" fill="#9eaed0"/>
<rect x="203.00" y="261.50" width="1.00" height="13.70" fill="#4d67a1"/>
<rect x="204.00" y="261.97" width="1.00" height="13.23" fill="#1f3c7e"/>
<rect x="205.00" y="261.80" width="1.00" height="13.40" fill="#1f3c7e"/>
<rect x="206.00" y="262.12" width="1.00" height="13.08" fill="#1f3c7e"/>
<rect x="207.00" y="263.76" width="1.00" height="11.44" fill="#1f3c7e"/>
<rect x="208.00" y="261.80" width="1.00" height="13.40" fill="#4d67a1"/>
<rect x="209.00" y="262.17" width="1.00" height="13.03" fill="#1f3c7e"/>
<rect x="210.00" y="261.35" width="1.00" height="13.85" fill="#1f3c7e"/>
<rect x="211.00" y="261.19" width="1.00" height="14.01" fill="#1f3c7e"/>
<rect x="212.00" y="262.06" width="1.00" height="13.14" fill="#4d67a1"/>
<rect x="213.00" y="260.91" width="1.00" height="14.29" fill="#9eaed0"/>
<rect x="214.00" y="261.02" width="1.00" height="14.18" fill="#9eaed0"/>
<rect x="215.00" y="260.98" width="1.00" height="14.22" fill="#1f3c7e"/>
<rect x="216.00" y="261.94" width="1.00" height="13.26" fill="#1f3c7e"/>
<rect x="217.00" y="260.83" width="1.00" height="14.37" fill="#9eaed0"/>
<rect x="218.00" y="260.25" width="1.00" height="14.95" fill="#1f3c7e"/>
<rect x="219.00" y="260.34" width="1.00" height="14.86" fill="#1f3c7e"/>
<rect x="220.00" y="260.41" width="1.00" height="14.79" fill="#1f3c7e"/>
<rect x="221.00" y="260.34" width="1.00" height="14.86" fill="#9eaed0"/>
<rect x="222.00" y="260.06" width="1.00" height="15.14" fill="#1f3c7e"/>
<rect x="223.00" y="260.65" width="1.00" height="14.55" fill="#1f3c7e"/>
<rect x="224.00" y="262.66" width="1.00" height="12.54" fill="#1f3c7e"/>
<rect x="225.00" y="260.38" width="1.00" height="14.82" fill="#4d67a1"/>
<rect x="226.00" y="260.51" width="1.00" height="14.69" fill="#1f3c7e"/>
<rect x="227.00" y="259.99" width="1.00" height="15.21" fill="#1f3c7e"/>
<rect x="228.00" y="261.96" width="1.00" height="13.24" fill="#1f3c7e"/>
<rect x="229.00" y="261.27" width="1.00" height="13.93" fill="#1f3c7e"/>
<rect x="230.00" y="261.98" width="1.00" height="13.22" fill="#1f3c7e"/>
<rect x="231.00" y="261.64" width="1.00" height="13.56" fill="#9eaed0"/>
<rect x="232.00" y="261.16" width="1.00" height="14.04" fill="#4d67a1"/>
<rect x="233.00" y="261.97" width="1.00" height="13.23" fill="#1f3c7e"/>
<rect x="234.00" y="263.98" width="1.00" height="11.22" fill="#4d67a1"/>
<rect x="235.00" y="261.99" width="1.00" height="13.21" fill="#4d67a1"/>
<rect x="236.00" y="262.91" width="1.00" height="12.29" fill="#1f3c7e"/>
<rect x="237.00" y="261.25" width="1.00" height="13.95" fill="#9eaed0"/>
<rect x="238.00" y="262.17" width="1.00" height="13.03" fill="#1f3c7e"/>
<rect x="239.00" y="262.20" width="1.00" height="13.00" fill="#1f3c7e"/>
<rect x="240.00" y="261.44" width="1.00" height="13.76" fill="#1f3c7e"/>
<rect x="241.00" y="261.76" width="1.00" height="13.44" fill="#9eaed0"/>
<rect x="242.00" y="262.58" width="1.00" height="12.62" fill="#1f3c7e"/>
<rect x="243.00" y="261.53" width="1.00" height="13.67" fill="#4d67a1"/>
<rect x="244.00" y="261.98" width="1.00" height="13.22" fill="#1f3c7e"/>
<rect x="245.00" y="261.87" width="1.00" height="13.33" fill="#1f3c7e"/>
<rect x="246.00" y="261.79" width="1.00" height="13.41" fill="#9eaed0"/>
<rect x="247.00" y="261.47" width="1.00" height="13.73" fill="#4d67a1"/>
<rect x="248.00" y="261.82" width="1.00" height="13.38" fill="#4d67a1"/>
<rect x="249.00" y="263.02" width="1.00" height="12.18" fill="#9eaed0"/>
<rect x="251.00" y="262.10" width="1.00" height="13.10" fill="#9eaed0"/>
<rect x="252.00" y="260.87" width="1.00" height="14.33" fill="#4d67a1"/>
<rect x="253.00" y="262.05" width="1.00" height="13.15" fill="#1f3c7e"/>
<rect x="254.00" y="261.92" width="1.00" height="13.28" fill="#1f3c7e"/>
<rect x="255.00" y="260.88" width="1.00" height="14.32" fill="#1f3c7e"/>
<rect x="256.00" y="261.54" width="1.00" height="13.66" fill="#1f3c7e"/>
<rect x="257.00" y="260.92" width="1.00" height="14.28" fill="#9eaed0"/>
<rect x="258.00" y="260.90" width="1.00" height="14.30" fill="#1f3c7e"/>
<rect x="259.00" y="261.42" width="1.00" height="13.78" fill="#9eaed0"/>
<rect x="260.00" y="262.36" width="1.00" height="12.84" fill="#1f3c7e"/>
<rect x="262.00" y="261.95" width="1.00" height="13.25" fill="#9eaed0"/>
<rect x="263.00" y="263.20" width="1.60" height="12.00" fill="#4d67a1"/>
<rect x="264.60" y="262.20" width="1.60" height="13.00" fill="#1f3c7e"/>
<rect x="266.20" y="262.77" width="0.80" height="12.43" fill="#9eaed0"/>
<rect x="267.00" y="263.16" width="1.00" height="12.04" fill="#9eaed0"/>
<rect x="268.00" y="262.76" width="0.70" height="12.44" fill="#9eaed0"/>
<rect x="269.10" y="259.70" width="1.70" height="15.50" fill="#1f3c7e"/>
<rect x="270.80" y="262.20" width="1.60" height="13.00" fill="#4d67a1"/>
<rect x="272.40" y="261.91" width="0.60" height="13.29" fill="#1f3c7e"/>
<rect x="273.00" y="262.60" width="1.00" height="12.60" fill="#4d67a1"/>
<rect x="274.00" y="262.61" width="1.00" height="12.59" fill="#4d67a1"/>
<rect x="275.10" y="264.34" width="0.90" height="10.86" fill="#9eaed0"/>
<rect x="277.00" y="264.50" width="0.50" height="10.70" fill="#4d67a1"/>
<rect x="278.00" y="262.06" width="1.00" height="13.14" fill="#1f3c7e"/>
<rect x="279.00" y="261.29" width="1.00" height="13.91" fill="#4d67a1"/>
<rect x="280.00" y="261.93" width="1.00" height="13.27" fill="#4d67a1"/>
<rect x="281.00" y="261.72" width="1.00" height="13.48" fill="#4d67a1"/>
<rect x="283.20" y="262.41" width="0.80" height="12.79" fill="#9eaed0"/>
<rect x="284.00" y="262.24" width="1.00" height="12.96" fill="#9eaed0"/>
<rect x="285.00" y="262.20" width="1.00" height="13.00" fill="#9eaed0"/>
<rect x="286.00" y="262.36" width="1.00" height="12.84" fill="#9eaed0"/>
<rect x="287.00" y="261.78" width="0.20" height="13.42" fill="#9eaed0"/>
<rect x="288.00" y="270.20" width="0.80" height="5.00" fill="#1f3c7e"/>
<rect x="288.80" y="274.20" width="1.20" height="1.00" fill="#1f3c7e"/>
<rect x="298.50" y="263.20" width="1.30" height="12.00" fill="#4d67a1"/>
<rect x="299.80" y="265.20" width="1.60" height="10.00" fill="#4d67a1"/>
<rect x="301.40" y="263.70" width="1.60" height="11.50" fill="#1f3c7e"/>
<rect x="303.40" y="265.20" width="1.90" height="10.00" fill="#9eaed0"/>
<rect x="305.30" y="261.70" width="1.70" height="13.50" fill="#1f3c7e"/>
<rect x="307.00" y="274.97" width="1.00" height="0.23" fill="#1f3c7e"/>
<rect x="308.00" y="274.93" width="1.00" height="0.27" fill="#1f3c7e"/>
<rect x="309.00" y="274.91" width="1.00" height="0.29" fill="#1f3c7e"/>
<rect x="310.00" y="274.73" width="1.00" height="0.47" fill="#1f3c7e"/>
<rect x="311.00" y="274.99" width="1.00" height="0.21" fill="#1f3c7e"/>
<rect x="318.70" y="273.70" width="1.20" height="1.50" fill="#1f3c7e"/>
<rect x="329.60" y="273.20" width="1.30" height="2.00" fill="#1f3c7e"/>
<rect x="333.80" y="269.20" width="1.10" height="6.00" fill="#1f3c7e"/>
<rect x="340.50" y="273.70" width="1.70" height="1.50" fill="#1f3c7e"/>
<rect x="364.80" y="273.70" width="1.20" height="1.50" fill="#1f3c7e"/>
<rect x="366.40" y="274.20" width="1.60" height="1.00" fill="#1f3c7e"/>
<rect x="369.30" y="270.20" width="1.10" height="5.00" fill="#4d67a1"/>
<rect x="370.40" y="266.70" width="1.20" height="8.50" fill="#4d67a1"/>
<rect x="371.60" y="265.70" width="0.90" height="9.50" fill="#1f3c7e"/>
<rect x="372.80" y="265.70" width="2.00" height="9.50" fill="#1f3c7e"/>
<rect x="375.80" y="266.20" width="1.10" height="9.00" fill="#4d67a1"/>
<rect x="376.90" y="265.20" width="2.10" height="10.00" fill="#1f3c7e"/>
<rect x="382.90" y="266.20" width="2.10" height="9.00" fill="#1f3c7e"/>
<rect x="388.20" y="264.13" width="0.80" height="11.07" fill="#1f3c7e"/>
<rect x="389.00" y="263.92" width="1.00" height="11.28" fill="#1f3c7e"/>
<rect x="390.00" y="263.76" width="0.60" height="11.44" fill="#4d67a1"/>
<rect x="391.90" y="263.49" width="0.10" height="11.71" fill="#1f3c7e"/>
<rect x="392.00" y="263.35" width="1.00" height="11.85" fill="#1f3c7e"/>
<rect x="393.00" y="263.45" width="1.00" height="11.75" fill="#1f3c7e"/>
<rect x="394.00" y="262.80" width="0.20" height="12.40" fill="#4d67a1"/>
<rect x="397.90" y="272.70" width="1.60" height="2.50" fill="#1f3c7e"/>
<rect x="411.30" y="273.70" width="1.10" height="1.50" fill="#1f3c7e"/>
<rect x="414.00" y="262.70" width="1.70" height="12.50" fill="#1f3c7e"/>
<rect x="415.70" y="260.20" width="1.60" height="15.00" fill="#1f3c7e"/>
<rect x="419.40" y="261.70" width="1.10" height="13.50" fill="#9eaed0"/>
<rect x="423.70" y="273.70" width="1.20" height="1.50" fill="#1f3c7e"/>
<rect x="429.70" y="263.20" width="1.30" height="12.00" fill="#1f3c7e"/>
<rect x="431.00" y="262.20" width="1.60" height="13.00" fill="#1f3c7e"/>
<rect x="438.30" y="271.70" width="1.60" height="3.50" fill="#9eaed0"/>
<rect x="440.40" y="271.70" width="1.60" height="3.50" fill="#4d67a1"/>
<rect x="443.10" y="271.70" width="1.10" height="3.50" fill="#4d67a1"/>
<rect x="445.90" y="273.20" width="1.30" height="2.00" fill="#1f3c7e"/>
<rect x="448.40" y="267.20" width="1.20" height="8.00" fill="#4d67a1"/>
<rect x="449.60" y="274.20" width="1.40" height="1.00" fill="#1f3c7e"/>
<rect x="452.00" y="272.20" width="0.80" height="3.00" fill="#1f3c7e"/>
<rect x="452.80" y="262.72" width="0.20" height="12.48" fill="#4d67a1"/>
<rect x="453.00" y="263.56" width="1.00" height="11.64" fill="#4d67a1"/>
<rect x="454.00" y="262.80" width="1.00" height="12.40" fill="#1f3c7e"/>
<rect x="455.00" y="263.33" width="1.00" height="11.87" fill="#4d67a1"/>
<rect x="456.80" y="263.20" width="1.30" height="12.00" fill="#9eaed0"/>
<rect x="458.80" y="265.20" width="1.20" height="10.00" fill="#4d67a1"/>
<rect x="462.50" y="264.20" width="1.60" height="11.00" fill="#4d67a1"/>
<rect x="463.30" y="260.26" width="0.70" height="14.94" fill="#1f3c7e"/>
<rect x="464.00" y="261.12" width="1.00" height="14.08" fill="#1f3c7e"/>
<rect x="465.00" y="260.81" width="0.70" height="14.39" fill="#4d67a1"/>
<rect x="465.70" y="261.80" width="0.30" height="13.40" fill="#1f3c7e"/>
<rect x="466.00" y="262.61" width="1.00" height="12.59" fill="#4d67a1"/>
<rect x="467.00" y="262.22" width="1.00" height="12.98" fill="#4d67a1"/>
<rect x="468.00" y="262.45" width="1.00" height="12.75" fill="#1f3c7e"/>
<rect x="469.00" y="263.56" width="1.00" height="11.64" fill="#1f3c7e"/>
<rect x="470.00" y="263.42" width="1.00" height="11.78" fill="#1f3c7e"/>
<rect x="471.00" y="263.93" width="1.00" height="11.27" fill="#1f3c7e"/>
<rect x="472.00" y="263.30" width="1.00" height="11.90" fill="#1f3c7e"/>
<rect x="473.00" y="263.56" width="0.80" height="11.64" fill="#1f3c7e"/>
<rect x="476.20" y="264.49" width="0.80" height="10.71" fill="#9eaed0"/>
<rect x="477.00" y="264.57" width="1.00" height="10.63" fill="#4d67a1"/>
<rect x="478.00" y="264.67" width="1.00" height="10.53" fill="#4d67a1"/>
<rect x="479.00" y="264.60" width="1.00" height="10.60" fill="#9eaed0"/>
<rect x="480.00" y="264.90" width="1.00" height="10.30" fill="#4d67a1"/>
<rect x="485.60" y="271.20" width="1.10" height="4.00" fill="#4d67a1"/>
<rect x="489.50" y="271.20" width="1.30" height="4.00" fill="#4d67a1"/>
<rect x="498.00" y="271.20" width="1.20" height="4.00" fill="#4d67a1"/>
<rect x="499.20" y="273.20" width="1.20" height="2.00" fill="#1f3c7e"/>
<rect x="501.80" y="259.70" width="1.60" height="15.50" fill="#1f3c7e"/>
<rect x="96.00" y="294.65" width="416.00" height="0.90" fill="#e2e2e2"/>
<rect x="96.30" y="292.20" width="1.10" height="3.00" fill="#b1072f"/>
<rect x="98.20" y="288.20" width="1.60" height="7.00" fill="#b1072f"/>
<rect x="99.80" y="290.27" width="0.20" height="4.93" fill="#b1072f"/>
<rect x="100.00" y="290.26" width="1.00" height="4.94" fill="#b1072f"/>
<rect x="101.00" y="290.35" width="1.00" height="4.85" fill="#cb4d66"/>
<rect x="102.00" y="290.54" width="0.30" height="4.66" fill="#b1072f"/>
<rect x="102.80" y="287.70" width="1.60" height="7.50" fill="#b1072f"/>
<rect x="104.40" y="292.20" width="1.90" height="3.00" fill="#b1072f"/>
<rect x="109.50" y="285.20" width="1.70" height="10.00" fill="#b1072f"/>
<rect x="111.20" y="287.20" width="1.80" height="8.00" fill="#b1072f"/>
<rect x="113.00" y="287.30" width="1.00" height="7.90" fill="#e6a1ae"/>
<rect x="114.00" y="287.72" width="1.00" height="7.48" fill="#cb4d66"/>
<rect x="115.00" y="287.38" width="0.20" height="7.82" fill="#cb4d66"/>
<rect x="115.20" y="287.15" width="0.80" height="8.05" fill="#cb4d66"/>
<rect x="116.00" y="287.14" width="1.00" height="8.06" fill="#b1072f"/>
<rect x="117.00" y="287.18" width="0.60" height="8.02" fill="#b1072f"/>
<rect x="117.60" y="289.05" width="0.40" height="6.15" fill="#cb4d66"/>
<rect x="118.00" y="289.13" width="1.00" height="6.07" fill="#b1072f"/>
<rect x="119.00" y="289.11" width="1.00" height="6.09" fill="#cb4d66"/>
<rect x="120.00" y="291.20" width="1.20" height="4.00" fill="#b1072f"/>
<rect x="122.10" y="291.20" width="1.20" height="4.00" fill="#b1072f"/>
<rect x="124.90" y="288.20" width="1.10" height="7.00" fill="#b1072f"/>
<rect x="128.00" y="289.20" width="1.70" height="6.00" fill="#b1072f"/>
<rect x="132.20" y="285.53" width="0.80" height="9.67" fill="#b1072f"/>
<rect x="134.00" y="285.58" width="0.60" height="9.62" fill="#cb4d66"/>
<rect x="138.00" y="286.95" width="1.00" height="8.25" fill="#cb4d66"/>
<rect x="139.00" y="287.18" width="1.00" height="8.02" fill="#cb4d66"/>
<rect x="140.00" y="286.94" width="0.20" height="8.26" fill="#cb4d66"/>
<rect x="140.00" y="286.72" width="1.00" height="8.48" fill="#b1072f"/>
<rect x="142.00" y="286.95" width="1.00" height="8.25" fill="#cb4d66"/>
<rect x="143.00" y="288.00" width="1.00" height="7.20" fill="#b1072f"/>
<rect x="146.40" y="293.20" width="1.10" height="2.00" fill="#b1072f"/>
<rect x="148.30" y="285.87" width="0.70" height="9.33" fill="#cb4d66"/>
<rect x="149.00" y="285.31" width="1.00" height="9.89" fill="#b1072f"/>
<rect x="150.00" y="285.43" width="0.70" height="9.77" fill="#b1072f"/>
<rect x="151.00" y="286.15" width="1.00" height="9.05" fill="#b1072f"/>
<rect x="152.00" y="286.26" width="1.00" height="8.94" fill="#b1072f"/>
<rect x="153.00" y="286.10" width="1.00" height="9.10" fill="#b1072f"/>
<rect x="154.00" y="286.72" width="1.00" height="8.48" fill="#b1072f"/>
<rect x="155.00" y="286.40" width="1.00" height="8.80" fill="#b1072f"/>
<rect x="156.00" y="285.71" width="1.00" height="9.49" fill="#b1072f"/>
<rect x="158.00" y="285.49" width="1.00" height="9.71" fill="#cb4d66"/>
<rect x="159.00" y="286.34" width="1.00" height="8.86" fill="#b1072f"/>
<rect x="160.00" y="285.66" width="1.00" height="9.54" fill="#b1072f"/>
<rect x="161.00" y="285.92" width="1.00" height="9.28" fill="#b1072f"/>
<rect x="162.00" y="286.74" width="1.00" height="8.46" fill="#b1072f"/>
<rect x="163.00" y="286.47" width="1.00" height="8.73" fill="#e6a1ae"/>
<rect x="164.00" y="286.70" width="1.00" height="8.50" fill="#b1072f"/>
<rect x="165.00" y="286.68" width="1.00" height="8.52" fill="#e6a1ae"/>
<rect x="166.00" y="288.17" width="1.00" height="7.03" fill="#b1072f"/>
<rect x="167.00" y="281.95" width="1.00" height="13.25" fill="#b1072f"/>
<rect x="168.00" y="281.88" width="1.00" height="13.32" fill="#b1072f"/>
<rect x="168.00" y="279.70" width="1.00" height="15.50" fill="#b1072f"/>
<rect x="169.00" y="284.85" width="1.00" height="10.35" fill="#b1072f"/>
<rect x="170.00" y="284.51" width="1.00" height="10.69" fill="#b1072f"/>
<rect x="171.00" y="283.93" width="1.00" height="11.27" fill="#b1072f"/>
<rect x="172.00" y="287.14" width="1.00" height="8.06" fill="#b1072f"/>
<rect x="173.00" y="287.06" width="1.00" height="8.14" fill="#b1072f"/>
<rect x="174.00" y="286.77" width="1.00" height="8.43" fill="#b1072f"/>
<rect x="175.00" y="287.08" width="1.00" height="8.12" fill="#cb4d66"/>
<rect x="177.00" y="287.90" width="1.00" height="7.30" fill="#b1072f"/>
<rect x="178.00" y="288.48" width="1.00" height="6.72" fill="#e6a1ae"/>
<rect x="179.00" y="286.42" width="1.00" height="8.78" fill="#b1072f"/>
<rect x="180.00" y="285.29" width="1.00" height="9.91" fill="#b1072f"/>
<rect x="181.00" y="287.93" width="1.00" height="7.27" fill="#cb4d66"/>
<rect x="182.00" y="285.27" width="1.00" height="9.93" fill="#b1072f"/>
<rect x="183.00" y="288.06" width="1.00" height="7.14" fill="#e6a1ae"/>
<rect x="184.00" y="285.98" width="1.00" height="9.22" fill="#b1072f"/>
<rect x="185.00" y="285.32" width="1.00" height="9.88" fill="#e6a1ae"/>
<rect x="187.00" y="286.77" width="1.00" height="8.43" fill="#b1072f"/>
<rect x="188.00" y="288.13" width="1.00" height="7.07" fill="#b1072f"/>
<rect x="189.00" y="285.85" width="1.00" height="9.35" fill="#b1072f"/>
<rect x="190.00" y="286.42" width="1.00" height="8.78" fill="#b1072f"/>
<rect x="191.00" y="285.20" width="1.00" height="10.00" fill="#cb4d66"/>
<rect x="192.00" y="286.09" width="1.00" height="9.11" fill="#b1072f"/>
<rect x="193.00" y="286.29" width="1.00" height="8.91" fill="#e6a1ae"/>
<rect x="194.00" y="285.45" width="1.00" height="9.75" fill="#e6a1ae"/>
<rect x="196.00" y="287.24" width="1.00" height="7.96" fill="#b1072f"/>
<rect x="197.00" y="286.67" width="1.00" height="8.53" fill="#b1072f"/>
<rect x="198.00" y="286.79" width="1.00" height="8.41" fill="#b1072f"/>
<rect x="199.00" y="286.41" width="1.00" height="8.79" fill="#b1072f"/>
<rect x="200.00" y="289.09" width="1.00" height="6.11" fill="#b1072f"/>
<rect x="201.00" y="289.79" width="1.00" height="5.41" fill="#b1072f"/>
<rect x="202.00" y="290.12" width="1.00" height="5.08" fill="#b1072f"/>
<rect x="203.00" y="286.68" width="1.00" height="8.52" fill="#b1072f"/>
<rect x="204.00" y="286.72" width="1.00" height="8.48" fill="#b1072f"/>
<rect x="205.00" y="286.73" width="1.00" height="8.47" fill="#e6a1ae"/>
<rect x="206.00" y="285.36" width="1.00" height="9.84" fill="#b1072f"/>
<rect x="207.00" y="285.92" width="1.00" height="9.28" fill="#cb4d66"/>
<rect x="208.00" y="285.23" width="1.00" height="9.97" fill="#b1072f"/>
<rect x="209.00" y="286.11" width="1.00" height="9.09" fill="#b1072f"/>
<rect x="210.00" y="285.43" width="1.00" height="9.77" fill="#b1072f"/>
<rect x="211.00" y="286.37" width="1.00" height="8.83" fill="#b1072f"/>
<rect x="212.00" y="286.16" width="1.00" height="9.04" fill="#b1072f"/>
<rect x="213.00" y="286.80" width="1.00" height="8.40" fill="#b1072f"/>
<rect x="214.00" y="286.50" width="1.00" height="8.70" fill="#b1072f"/>
<rect x="215.00" y="285.64" width="1.00" height="9.56" fill="#e6a1ae"/>
<rect x="216.00" y="283.48" width="1.00" height="11.72" fill="#b1072f"/>
<rect x="217.00" y="283.98" width="1.00" height="11.22" fill="#b1072f"/>
<rect x="218.00" y="283.02" width="1.00" height="12.18" fill="#cb4d66"/>
<rect x="219.00" y="286.96" width="1.00" height="8.24" fill="#cb4d66"/>
<rect x="220.00" y="287.45" width="1.00" height="7.75" fill="#cb4d66"/>
<rect x="221.00" y="285.97" width="1.00" height="9.23" fill="#b1072f"/>
<rect x="222.00" y="286.21" width="1.00" height="8.99" fill="#b1072f"/>
<rect x="223.00" y="286.98" width="1.00" height="8.22" fill="#cb4d66"/>
<rect x="224.00" y="286.93" width="1.00" height="8.27" fill="#b1072f"/>
<rect x="225.00" y="286.86" width="1.00" height="8.34" fill="#b1072f"/>
<rect x="226.00" y="285.53" width="1.00" height="9.67" fill="#e6a1ae"/>
<rect x="227.00" y="286.20" width="1.00" height="9.00" fill="#b1072f"/>
<rect x="228.00" y="286.51" width="1.00" height="8.69" fill="#b1072f"/>
<rect x="229.00" y="285.39" width="1.00" height="9.81" fill="#b1072f"/>
<rect x="230.00" y="285.91" width="1.00" height="9.29" fill="#b1072f"/>
<rect x="231.00" y="285.75" width="1.00" height="9.45" fill="#b1072f"/>
<rect x="232.00" y="286.36" width="1.00" height="8.84" fill="#cb4d66"/>
<rect x="233.00" y="286.77" width="1.00" height="8.43" fill="#e6a1ae"/>
<rect x="234.00" y="285.57" width="1.00" height="9.63" fill="#b1072f"/>
<rect x="235.00" y="288.36" width="1.00" height="6.84" fill="#b1072f"/>
<rect x="236.00" y="286.85" width="1.00" height="8.35" fill="#b1072f"/>
<rect x="238.00" y="285.40" width="1.00" height="9.80" fill="#b1072f"/>
<rect x="239.00" y="285.62" width="1.00" height="9.58" fill="#b1072f"/>
<rect x="240.00" y="282.97" width="1.00" height="12.23" fill="#e6a1ae"/>
<rect x="241.00" y="282.89" width="1.00" height="12.31" fill="#b1072f"/>
<rect x="242.00" y="285.53" width="1.00" height="9.67" fill="#b1072f"/>
<rect x="243.00" y="287.33" width="1.00" height="7.87" fill="#b1072f"/>
<rect x="244.00" y="286.01" width="1.00" height="9.19" fill="#b1072f"/>
<rect x="245.00" y="285.48" width="1.00" height="9.72" fill="#b1072f"/>
<rect x="247.00" y="286.09" width="1.00" height="9.11" fill="#b1072f"/>
<rect x="248.00" y="285.77" width="1.00" height="9.43" fill="#cb4d66"/>
<rect x="249.00" y="285.37" width="1.00" height="9.83" fill="#cb4d66"/>
<rect x="250.00" y="285.87" width="1.00" height="9.33" fill="#b1072f"/>
<rect x="251.00" y="287.13" width="1.00" height="8.07" fill="#cb4d66"/>
<rect x="252.00" y="286.74" width="1.00" height="8.46" fill="#cb4d66"/>
<rect x="253.00" y="285.69" width="1.00" height="9.51" fill="#b1072f"/>
<rect x="254.00" y="286.51" width="1.00" height="8.69" fill="#b1072f"/>
<rect x="255.00" y="286.15" width="1.00" height="9.05" fill="#b1072f"/>
<rect x="256.00" y="285.52" width="1.00" height="9.68" fill="#b1072f"/>
<rect x="257.00" y="286.01" width="1.00" height="9.19" fill="#cb4d66"/>
<rect x="258.00" y="288.27" width="1.00" height="6.93" fill="#b1072f"/>
<rect x="259.00" y="285.81" width="1.00" height="9.39" fill="#b1072f"/>
<rect x="260.00" y="287.46" width="1.00" height="7.74" fill="#b1072f"/>
<rect x="261.00" y="285.51" width="1.00" height="9.69" fill="#b1072f"/>
<rect x="262.00" y="285.78" width="1.00" height="9.42" fill="#e6a1ae"/>
<rect x="263.00" y="288.20" width="1.60" height="7.00" fill="#b1072f"/>
<rect x="264.60" y="289.70" width="1.60" height="5.50" fill="#b1072f"/>
<rect x="266.20" y="288.20" width="0.80" height="7.00" fill="#b1072f"/>
<rect x="267.00" y="288.47" width="1.00" height="6.73" fill="#b1072f"/>
<rect x="268.00" y="288.58" width="0.70" height="6.62" fill="#cb4d66"/>
<rect x="269.10" y="284.20" width="1.70" height="11.00" fill="#b1072f"/>
<rect x="271.00" y="286.53" width="1.00" height="8.67" fill="#b1072f"/>
<rect x="272.00" y="286.46" width="1.00" height="8.74" fill="#e6a1ae"/>
<rect x="273.00" y="286.65" width="1.00" height="8.55" fill="#cb4d66"/>
<rect x="274.00" y="285.93" width="1.00" height="9.27" fill="#e6a1ae"/>
<rect x="275.00" y="287.20" width="1.00" height="8.00" fill="#cb4d66"/>
<rect x="276.00" y="286.47" width="1.00" height="8.73" fill="#b1072f"/>
<rect x="277.00" y="287.33" width="1.00" height="7.87" fill="#cb4d66"/>
<rect x="278.00" y="287.31" width="1.00" height="7.89" fill="#b1072f"/>
<rect x="279.00" y="287.73" width="1.00" height="7.47" fill="#b1072f"/>
<rect x="280.00" y="287.00" width="1.00" height="8.20" fill="#b1072f"/>
<rect x="281.00" y="288.19" width="1.00" height="7.01" fill="#cb4d66"/>
<rect x="284.00" y="286.36" width="1.00" height="8.84" fill="#cb4d66"/>
<rect x="285.00" y="286.78" width="1.00" height="8.42" fill="#cb4d66"/>
<rect x="286.00" y="286.27" width="1.00" height="8.93" fill="#e6a1ae"/>
<rect x="287.00" y="286.47" width="0.20" height="8.73" fill="#cb4d66"/>
<rect x="288.00" y="285.75" width="1.00" height="9.45" fill="#b1072f"/>
<rect x="289.00" y="286.98" width="1.00" height="8.22" fill="#b1072f"/>
<rect x="290.00" y="285.90" width="1.00" height="9.30" fill="#e6a1ae"/>
<rect x="298.50" y="290.20" width="2.00" height="5.00" fill="#cb4d66"/>
<rect x="300.50" y="291.70" width="2.10" height="3.50" fill="#b1072f"/>
<rect x="305.30" y="284.70" width="1.70" height="10.50" fill="#b1072f"/>
<rect x="307.00" y="292.20" width="1.60" height="3.00" fill="#b1072f"/>
<rect x="312.30" y="294.20" width="1.10" height="1.00" fill="#b1072f"/>
<rect x="315.50" y="293.70" width="1.10" height="1.50" fill="#b1072f"/>
<rect x="330.00" y="293.70" width="1.70" height="1.50" fill="#b1072f"/>
<rect x="370.90" y="294.20" width="1.90" height="1.00" fill="#b1072f"/>
<rect x="372.80" y="294.20" width="2.00" height="1.00" fill="#b1072f"/>
<rect x="377.70" y="294.20" width="1.30" height="1.00" fill="#b1072f"/>
<rect x="383.80" y="292.70" width="1.20" height="2.50" fill="#b1072f"/>
<rect x="388.20" y="293.70" width="1.10" height="1.50" fill="#b1072f"/>
<rect x="391.90" y="286.20" width="1.10" height="9.00" fill="#b1072f"/>
<rect x="393.00" y="284.20" width="1.20" height="11.00" fill="#b1072f"/>
<rect x="397.00" y="290.20" width="0.90" height="5.00" fill="#b1072f"/>
<rect x="403.20" y="292.20" width="1.60" height="3.00" fill="#b1072f"/>
<rect x="404.80" y="293.70" width="1.20" height="1.50" fill="#b1072f"/>
<rect x="411.30" y="293.70" width="1.10" height="1.50" fill="#b1072f"/>
<rect x="414.00" y="279.20" width="1.70" height="16.00" fill="#b1072f"/>
<rect x="415.70" y="279.20" width="1.60" height="16.00" fill="#b1072f"/>
<rect x="419.40" y="285.20" width="1.60" height="10.00" fill="#cb4d66"/>
<rect x="423.70" y="288.70" width="1.20" height="6.50" fill="#b1072f"/>
<rect x="429.70" y="287.20" width="1.30" height="8.00" fill="#b1072f"/>
<rect x="431.00" y="287.20" width="1.60" height="8.00" fill="#b1072f"/>
<rect x="438.30" y="291.22" width="0.70" height="3.98" fill="#e6a1ae"/>
<rect x="439.00" y="291.41" width="1.00" height="3.79" fill="#e6a1ae"/>
<rect x="440.00" y="291.23" width="1.00" height="3.97" fill="#e6a1ae"/>
<rect x="441.00" y="291.26" width="0.50" height="3.94" fill="#e6a1ae"/>
<rect x="441.50" y="293.20" width="1.10" height="2.00" fill="#b1072f"/>
<rect x="446.40" y="294.20" width="1.60" height="1.00" fill="#b1072f"/>
<rect x="449.60" y="294.20" width="2.40" height="1.00" fill="#b1072f"/>
<rect x="452.30" y="287.20" width="1.30" height="8.00" fill="#b1072f"/>
<rect x="453.60" y="286.28" width="0.40" height="8.92" fill="#cb4d66"/>
<rect x="455.00" y="285.88" width="1.00" height="9.32" fill="#b1072f"/>
<rect x="456.00" y="286.04" width="0.50" height="9.16" fill="#cb4d66"/>
<rect x="456.80" y="288.20" width="1.70" height="7.00" fill="#cb4d66"/>
<rect x="458.80" y="290.70" width="1.20" height="4.50" fill="#b1072f"/>
<rect x="462.50" y="285.28" width="0.50" height="9.92" fill="#b1072f"/>
<rect x="463.00" y="285.66" width="1.00" height="9.54" fill="#b1072f"/>
<rect x="464.00" y="285.83" width="1.00" height="9.37" fill="#cb4d66"/>
<rect x="465.00" y="285.66" width="0.70" height="9.54" fill="#b1072f"/>
<rect x="466.00" y="286.29" width="1.00" height="8.91" fill="#cb4d66"/>
<rect x="467.00" y="287.05" width="1.00" height="8.15" fill="#b1072f"/>
<rect x="468.00" y="288.34" width="1.00" height="6.86" fill="#b1072f"/>
<rect x="469.80" y="285.20" width="1.60" height="10.00" fill="#b1072f"/>
<rect x="471.40" y="279.20" width="1.40" height="16.00" fill="#b1072f"/>
<rect x="472.80" y="283.20" width="1.00" height="12.00" fill="#b1072f"/>
<rect x="476.20" y="287.12" width="0.80" height="8.08" fill="#b1072f"/>
<rect x="477.00" y="287.07" width="1.00" height="8.13" fill="#cb4d66"/>
<rect x="478.00" y="286.78" width="1.00" height="8.42" fill="#b1072f"/>
<rect x="479.00" y="286.92" width="0.50" height="8.28" fill="#cb4d66"/>
<rect x="479.50" y="289.20" width="1.30" height="6.00" fill="#b1072f"/>
<rect x="490.00" y="293.70" width="1.20" height="1.50" fill="#b1072f"/>
<rect x="492.40" y="293.70" width="1.30" height="1.50" fill="#b1072f"/>
<rect x="498.00" y="288.20" width="1.20" height="7.00" fill="#b1072f"/>
<rect x="501.30" y="285.20" width="1.60" height="10.00" fill="#b1072f"/>
<rect x="96.50" y="297.30" width="1.50" height="2.90" fill="#000" fill-opacity="0.45"/>
<rect x="98.80" y="297.30" width="1.00" height="2.90" fill="#000" fill-opacity="0.95"/>
<rect x="100.50" y="297.30" width="1.00" height="2.90" fill="#000" fill-opacity="0.95"/>
<rect x="103.00" y="297.30" width="1.00" height="2.90" fill="#000" fill-opacity="0.76"/>
<rect x="106.00" y="297.30" width="1.00" height="2.90" fill="#000" fill-opacity="0.76"/>
<rect x="110.00" y="297.30" width="1.50" height="2.90" fill="#000" fill-opacity="0.81"/>
<rect x="112.50" y="297.30" width="1.50" height="2.90" fill="#000" fill-opacity="0.54"/>
<rect x="114.50" y="297.30" width="1.70" height="2.90" fill="#000" fill-opacity="0.54"/>
<rect x="117.00" y="297.30" width="1.00" height="2.90" fill="#000" fill-opacity="0.45"/>
<rect x="119.00" y="297.30" width="1.50" height="2.90" fill="#000" fill-opacity="0.81"/>
<rect x="122.50" y="297.30" width="1.00" height="2.90" fill="#000" fill-opacity="0.45"/>
<rect x="125.00" y="297.30" width="1.20" height="2.90" fill="#000" fill-opacity="0.81"/>
<rect x="129.00" y="297.30" width="2.00" height="2.90" fill="#000" fill-opacity="0.45"/>
<rect x="132.00" y="297.30" width="2.50" height="2.90" fill="#000" fill-opacity="0.81"/>
<rect x="137.50" y="297.30" width="1.50" height="2.90" fill="#000" fill-opacity="0.45"/>
<rect x="139.50" y="297.30" width="1.00" height="2.90" fill="#000" fill-opacity="0.45"/>
<rect x="141.50" y="297.30" width="1.00" height="2.90" fill="#000" fill-opacity="0.85"/>
<rect x="143.50" y="297.30" width="1.00" height="2.90" fill="#000" fill-opacity="0.85"/>
<rect x="146.50" y="297.30" width="1.00" height="2.90" fill="#000" fill-opacity="0.81"/>
<rect x="148.50" y="297.30" width="1.00" height="2.90" fill="#000" fill-opacity="0.76"/>
<rect x="150.50" y="297.30" width="1.00" height="2.90" fill="#000" fill-opacity="0.76"/>
<rect x="153.00" y="297.30" width="1.00" height="2.90" fill="#000" fill-opacity="0.85"/>
<rect x="155.00" y="297.30" width="1.00" height="2.90" fill="#000" fill-opacity="0.85"/>
<rect x="158.00" y="297.30" width="1.00" height="2.90" fill="#000" fill-opacity="0.85"/>
<rect x="160.50" y="297.30" width="1.00" height="2.90" fill="#000" fill-opacity="0.85"/>
<rect x="163.00" y="297.30" width="1.00" height="2.90" fill="#000" fill-opacity="0.85"/>
<rect x="166.50" y="297.30" width="1.00" height="2.90" fill="#000" fill-opacity="0.85"/>
<rect x="169.00" y="297.30" width="1.00" height="2.90" fill="#000" fill-opacity="0.85"/>
<rect x="171.50" y="297.30" width="1.50" height="2.90" fill="#000" fill-opacity="0.81"/>
<rect x="174.00" y="297.30" width="2.00" height="2.90" fill="#000" fill-opacity="0.63"/>
<rect x="177.00" y="297.30" width="1.50" height="2.90" fill="#000" fill-opacity="0.90"/>
<rect x="180.00" y="297.30" width="2.00" height="2.90" fill="#000" fill-opacity="0.45"/>
<rect x="183.00" y="297.30" width="1.50" height="2.90" fill="#000" fill-opacity="0.81"/>
<rect x="185.50" y="297.30" width="2.50" height="2.90" fill="#000" fill-opacity="0.81"/>
<rect x="189.00" y="297.30" width="1.00" height="2.90" fill="#000" fill-opacity="0.45"/>
<rect x="191.00" y="297.30" width="1.00" height="2.90" fill="#000" fill-opacity="0.27"/>
<rect x="193.50" y="297.30" width="1.00" height="2.90" fill="#000" fill-opacity="0.95"/>
<rect x="197.00" y="297.30" width="1.00" height="2.90" fill="#000" fill-opacity="0.95"/>
<rect x="198.00" y="297.30" width="1.20" height="2.90" fill="#000" fill-opacity="0.90"/>
<rect x="201.00" y="297.30" width="1.50" height="2.90" fill="#000" fill-opacity="0.81"/>
<rect x="203.50" y="297.30" width="2.00" height="2.90" fill="#000" fill-opacity="0.54"/>
<rect x="206.00" y="297.30" width="1.50" height="2.90" fill="#000" fill-opacity="0.90"/>
<rect x="208.50" y="297.30" width="2.50" height="2.90" fill="#000" fill-opacity="0.81"/>
<rect x="211.50" y="297.30" width="2.50" height="2.90" fill="#000" fill-opacity="0.63"/>
<rect x="217.00" y="297.30" width="2.00" height="2.90" fill="#000" fill-opacity="0.81"/>
<rect x="220.50" y="297.30" width="1.00" height="2.90" fill="#000" fill-opacity="0.85"/>
<rect x="223.00" y="297.30" width="1.00" height="2.90" fill="#000" fill-opacity="0.85"/>
<rect x="227.00" y="297.30" width="1.50" height="2.90" fill="#000" fill-opacity="0.45"/>
<rect x="229.50" y="297.30" width="2.50" height="2.90" fill="#000" fill-opacity="0.90"/>
<rect x="232.50" y="297.30" width="1.50" height="2.90" fill="#000" fill-opacity="0.81"/>
<rect x="235.00" y="297.30" width="1.50" height="2.90" fill="#000" fill-opacity="0.90"/>
<rect x="238.50" y="297.30" width="1.50" height="2.90" fill="#000" fill-opacity="0.81"/>
<rect x="241.00" y="297.30" width="1.50" height="2.90" fill="#000" fill-opacity="0.81"/>
<rect x="244.00" y="297.30" width="1.50" height="2.90" fill="#000" fill-opacity="0.81"/>
<rect x="247.00" y="297.30" width="1.00" height="2.90" fill="#000" fill-opacity="0.85"/>
<rect x="249.00" y="297.30" width="1.00" height="2.90" fill="#000" fill-opacity="0.85"/>
<rect x="250.00" y="297.30" width="2.00" height="2.90" fill="#000" fill-opacity="0.81"/>
<rect x="252.50" y="297.30" width="1.00" height="2.90" fill="#000" fill-opacity="0.95"/>
<rect x="255.00" y="297.30" width="1.00" height="2.90" fill="#000" fill-opacity="0.95"/>
<rect x="257.50" y="297.30" width="1.00" height="2.90" fill="#000" fill-opacity="0.95"/>
<rect x="260.00" y="297.30" width="1.00" height="2.90" fill="#000" fill-opacity="0.95"/>
<rect x="262.00" y="297.30" width="1.00" height="2.90" fill="#000" fill-opacity="0.90"/>
<rect x="265.00" y="297.30" width="1.00" height="2.90" fill="#000" fill-opacity="0.90"/>
<rect x="267.00" y="297.30" width="1.00" height="2.90" fill="#000" fill-opacity="0.45"/>
<rect x="269.00" y="297.30" width="1.00" height="2.90" fill="#000" fill-opacity="0.81"/>
<rect x="271.50" y="297.30" width="1.00" height="2.90" fill="#000" fill-opacity="0.95"/>
<rect x="274.00" y="297.30" width="1.00" height="2.90" fill="#000" fill-opacity="0.95"/>
<rect x="276.00" y="297.30" width="1.00" height="2.90" fill="#000" fill-opacity="0.45"/>
<rect x="278.00" y="297.30" width="1.00" height="2.90" fill="#000" fill-opacity="0.66"/>
<rect x="281.00" y="297.30" width="1.00" height="2.90" fill="#000" fill-opacity="0.66"/>
<rect x="283.00" y="297.30" width="1.50" height="2.90" fill="#000" fill-opacity="0.81"/>
<rect x="285.50" y="297.30" width="1.50" height="2.90" fill="#000" fill-opacity="0.81"/>
<rect x="299.00" y="297.30" width="1.50" height="2.90" fill="#000" fill-opacity="0.45"/>
<rect x="302.00" y="297.30" width="2.50" height="2.90" fill="#000" fill-opacity="0.81"/>
<rect x="306.00" y="297.30" width="2.00" height="2.90" fill="#000" fill-opacity="0.81"/>
<rect x="309.50" y="297.30" width="1.50" height="2.90" fill="#000" fill-opacity="0.90"/>
<rect x="321.50" y="297.30" width="1.50" height="2.90" fill="#000" fill-opacity="0.81"/>
<rect x="333.00" y="297.30" width="2.00" height="2.90" fill="#000" fill-opacity="0.45"/>
<rect x="365.00" y="297.30" width="1.00" height="2.90" fill="#000" fill-opacity="0.85"/>
<rect x="367.00" y="297.30" width="1.00" height="2.90" fill="#000" fill-opacity="0.85"/>
<rect x="369.00" y="297.30" width="1.00" height="2.90" fill="#000" fill-opacity="0.85"/>
<rect x="371.00" y="297.30" width="1.00" height="2.90" fill="#000" fill-opacity="0.45"/>
<rect x="373.50" y="297.30" width="1.50" height="2.90" fill="#000" fill-opacity="0.90"/>
<rect x="376.50" y="297.30" width="2.00" height="2.90" fill="#000" fill-opacity="0.85"/>
<rect x="383.00" y="297.30" width="1.00" height="2.90" fill="#000" fill-opacity="0.81"/>
<rect x="388.50" y="297.30" width="1.50" height="2.90" fill="#000" fill-opacity="0.81"/>
<rect x="392.00" y="297.30" width="1.50" height="2.90" fill="#000" fill-opacity="0.81"/>
<rect x="395.50" y="297.30" width="1.50" height="2.90" fill="#000" fill-opacity="0.45"/>
<rect x="414.00" y="297.30" width="2.00" height="2.90" fill="#000" fill-opacity="0.81"/>
<rect x="419.50" y="297.30" width="1.00" height="2.90" fill="#000" fill-opacity="0.45"/>
<rect x="430.50" y="297.30" width="1.50" height="2.90" fill="#000" fill-opacity="0.90"/>
<rect x="440.50" y="297.30" width="1.00" height="2.90" fill="#000" fill-opacity="0.85"/>
<rect x="443.00" y="297.30" width="1.00" height="2.90" fill="#000" fill-opacity="0.85"/>
<rect x="445.50" y="297.30" width="1.50" height="2.90" fill="#000" fill-opacity="0.45"/>
<rect x="448.50" y="297.30" width="2.00" height="2.90" fill="#000" fill-opacity="0.90"/>
<rect x="451.50" y="297.30" width="1.00" height="2.90" fill="#000" fill-opacity="0.95"/>
<rect x="455.00" y="297.30" width="1.00" height="2.90" fill="#000" fill-opacity="0.95"/>
<rect x="457.00" y="297.30" width="1.00" height="2.90" fill="#000" fill-opacity="0.45"/>
<rect x="458.50" y="297.30" width="1.50" height="2.90" fill="#000" fill-opacity="0.45"/>
<rect x="462.00" y="297.30" width="2.20" height="2.90" fill="#000" fill-opacity="0.90"/>
<rect x="464.70" y="297.30" width="1.00" height="2.90" fill="#000" fill-opacity="0.85"/>
<rect x="467.40" y="297.30" width="1.00" height="2.90" fill="#000" fill-opacity="0.85"/>
<rect x="469.40" y="297.30" width="1.00" height="2.90" fill="#000" fill-opacity="0.95"/>
<rect x="471.50" y="297.30" width="1.00" height="2.90" fill="#000" fill-opacity="0.95"/>
<rect x="476.20" y="297.30" width="2.00" height="2.90" fill="#000" fill-opacity="0.81"/>
<rect x="478.80" y="297.30" width="1.50" height="2.90" fill="#000" fill-opacity="0.45"/>
<rect x="485.50" y="297.30" width="1.10" height="2.90" fill="#000" fill-opacity="0.27"/>
<rect x="489.70" y="297.30" width="1.00" height="2.90" fill="#000" fill-opacity="0.81"/>
<rect x="491.20" y="297.30" width="1.10" height="2.90" fill="#000" fill-opacity="0.45"/>
<rect x="7.20" y="104.20" width="504.80" height="1.60" fill="#000"/>
<rect x="7.20" y="177.00" width="504.80" height="1.60" fill="#000"/>
<rect x="7.20" y="251.60" width="504.80" height="1.60" fill="#000"/>
<rect x="96.00" y="305.90" width="416.00" height="1.10" fill="#000"/>
<rect x="96.00" y="307.00" width="416.00" height="1.90" fill="#c8c8c8"/>
<rect x="96.00" y="308.90" width="416.00" height="1.05" fill="#000"/>
<rect x="98.00" y="312.90" width="178.60" height="1.00" fill="#b8a286"/>
<rect x="97.75" y="311.10" width="7.25" height="4.60" fill="#5e3a0f"/>
<rect x="108.10" y="311.10" width="2.90" height="4.60" fill="#5e3a0f"/>
<rect x="113.75" y="311.10" width="8.50" height="4.60" fill="#5e3a0f"/>
<rect x="125.00" y="311.10" width="2.25" height="4.60" fill="#5e3a0f"/>
<rect x="130.00" y="311.10" width="6.00" height="4.60" fill="#5e3a0f"/>
<rect x="138.75" y="311.10" width="7.25" height="4.60" fill="#5e3a0f"/>
<rect x="148.75" y="311.10" width="3.35" height="4.60" fill="#5e3a0f"/>
<path d="M155.80,312.30 L157.40,313.40 L155.80,314.50 Z" fill="#4d6390"/>
<path d="M165.60,312.30 L167.20,313.40 L165.60,314.50 Z" fill="#4d6390"/>
<path d="M175.40,312.30 L177.00,313.40 L175.40,314.50 Z" fill="#4d6390"/>
<path d="M185.20,312.30 L186.80,313.40 L185.20,314.50 Z" fill="#4d6390"/>
<path d="M195.00,312.30 L196.60,313.40 L195.00,314.50 Z" fill="#4d6390"/>
<path d="M204.80,312.30 L206.40,313.40 L204.80,314.50 Z" fill="#4d6390"/>
<path d="M214.60,312.30 L216.20,313.40 L214.60,314.50 Z" fill="#4d6390"/>
<path d="M224.40,312.30 L226.00,313.40 L224.40,314.50 Z" fill="#4d6390"/>
<path d="M234.20,312.30 L235.80,313.40 L234.20,314.50 Z" fill="#4d6390"/>
<path d="M244.00,312.30 L245.60,313.40 L244.00,314.50 Z" fill="#4d6390"/>
<path d="M253.80,312.30 L255.40,313.40 L253.80,314.50 Z" fill="#4d6390"/>
<path d="M263.60,312.30 L265.20,313.40 L263.60,314.50 Z" fill="#4d6390"/>
<path d="M273.40,312.30 L275.00,313.40 L273.40,314.50 Z" fill="#4d6390"/>
<rect x="276.60" y="312.00" width="15.20" height="2.80" fill="#5e3a0f"/>
<rect x="98.00" y="324.50" width="178.60" height="1.00" fill="#b8a286"/>
<rect x="97.75" y="322.70" width="7.25" height="4.60" fill="#5e3a0f"/>
<rect x="108.10" y="322.70" width="2.90" height="4.60" fill="#5e3a0f"/>
<rect x="113.75" y="322.70" width="8.50" height="4.60" fill="#5e3a0f"/>
<rect x="125.00" y="322.70" width="2.25" height="4.60" fill="#5e3a0f"/>
<rect x="130.00" y="322.70" width="6.00" height="4.60" fill="#5e3a0f"/>
<rect x="138.75" y="322.70" width="7.25" height="4.60" fill="#5e3a0f"/>
<rect x="148.75" y="322.70" width="3.35" height="4.60" fill="#5e3a0f"/>
<path d="M155.80,323.90 L157.40,325.00 L155.80,326.10 Z" fill="#4d6390"/>
<path d="M165.60,323.90 L167.20,325.00 L165.60,326.10 Z" fill="#4d6390"/>
<path d="M175.40,323.90 L177.00,325.00 L175.40,326.10 Z" fill="#4d6390"/>
<path d="M185.20,323.90 L186.80,325.00 L185.20,326.10 Z" fill="#4d6390"/>
<path d="M195.00,323.90 L196.60,325.00 L195.00,326.10 Z" fill="#4d6390"/>
<path d="M204.80,323.90 L206.40,325.00 L204.80,326.10 Z" fill="#4d6390"/>
<path d="M214.60,323.90 L216.20,325.00 L214.60,326.10 Z" fill="#4d6390"/>
<path d="M224.40,323.90 L226.00,325.00 L224.40,326.10 Z" fill="#4d6390"/>
<path d="M234.20,323.90 L235.80,325.00 L234.20,326.10 Z" fill="#4d6390"/>
<path d="M244.00,323.90 L245.60,325.00 L244.00,326.10 Z" fill="#4d6390"/>
<path d="M253.80,323.90 L255.40,325.00 L253.80,326.10 Z" fill="#4d6390"/>
<path d="M263.60,323.90 L265.20,325.00 L263.60,326.10 Z" fill="#4d6390"/>
<path d="M273.40,323.90 L275.00,325.00 L273.40,326.10 Z" fill="#4d6390"/>
<rect x="276.60" y="323.60" width="15.20" height="2.80" fill="#5e3a0f"/>
<rect x="291.80" y="312.00" width="10.00" height="2.70" fill="#4b1c69"/>
<rect x="317.70" y="312.00" width="5.30" height="2.70" fill="#5e3a0f"/>
<rect x="328.80" y="312.00" width="5.50" height="2.70" fill="#5e3a0f"/>
<rect x="340.70" y="312.10" width="66.90" height="2.70" fill="#000"/>
<rect x="418.20" y="312.30" width="21.10" height="2.40" fill="#4b1c69"/>
<rect x="420.00" y="311.40" width="17.50" height="4.00" fill="#4b1c69"/>
<path d="M428.10,312.20 L429.70,313.40 L428.10,314.60" fill="none" stroke="#fff" stroke-width="0.6"/>
<rect x="301.20" y="323.80" width="11.60" height="2.40" fill="#4b1c69"/>
<rect x="344.20" y="323.70" width="21.30" height="2.50" fill="#000"/>
<rect x="397.90" y="323.50" width="4.00" height="2.40" fill="#000"/>
<path d="M154.3,334.3 L291.8,334.3 L291.8,338.6 L154.3,338.6 Z" fill="#4b1c69"/><circle cx="154.4" cy="336.45" r="1.9" fill="#4b1c69"/>
<path d="M162.50,335.25 L164.10,336.45 L162.50,337.65" fill="none" stroke="#fff" stroke-width="0.6"/>
<path d="M172.30,335.25 L173.90,336.45 L172.30,337.65" fill="none" stroke="#fff" stroke-width="0.6"/>
<path d="M182.10,335.25 L183.70,336.45 L182.10,337.65" fill="none" stroke="#fff" stroke-width="0.6"/>
<path d="M191.90,335.25 L193.50,336.45 L191.90,337.65" fill="none" stroke="#fff" stroke-width="0.6"/>
<path d="M201.70,335.25 L203.30,336.45 L201.70,337.65" fill="none" stroke="#fff" stroke-width="0.6"/>
<path d="M211.50,335.25 L213.10,336.45 L211.50,337.65" fill="none" stroke="#fff" stroke-width="0.6"/>
<path d="M221.30,335.25 L222.90,336.45 L221.30,337.65" fill="none" stroke="#fff" stroke-width="0.6"/>
<path d="M231.10,335.25 L232.70,336.45 L231.10,337.65" fill="none" stroke="#fff" stroke-width="0.6"/>
<path d="M240.90,335.25 L242.50,336.45 L240.90,337.65" fill="none" stroke="#fff" stroke-width="0.6"/>
<path d="M250.70,335.25 L252.30,336.45 L250.70,337.65" fill="none" stroke="#fff" stroke-width="0.6"/>
<path d="M260.50,335.25 L262.10,336.45 L260.50,337.65" fill="none" stroke="#fff" stroke-width="0.6"/>
<path d="M270.30,335.25 L271.90,336.45 L270.30,337.65" fill="none" stroke="#fff" stroke-width="0.6"/>
<path d="M280.10,335.25 L281.70,336.45 L280.10,337.65" fill="none" stroke="#fff" stroke-width="0.6"/>
<path d="M289.90,335.25 L291.50,336.45 L289.90,337.65" fill="none" stroke="#fff" stroke-width="0.6"/>
<rect x="291.20" y="334.90" width="0.60" height="3.10" fill="#fff"/>
<rect x="480.00" y="312.90" width="31.80" height="1.20" fill="#b8a286"/>
<rect x="475.40" y="312.20" width="4.90" height="2.60" fill="#5e3a0f"/>
<rect x="485.00" y="312.20" width="1.20" height="2.60" fill="#5e3a0f"/>
<path d="M490.30,312.40 L491.90,313.50 L490.30,314.60 Z" fill="#4d6390"/>
<path d="M499.80,312.40 L501.40,313.50 L499.80,314.60 Z" fill="#4d6390"/>
<path d="M510.20,312.40 L511.80,313.50 L510.20,314.60 Z" fill="#4d6390"/>
<rect x="480.00" y="324.30" width="31.80" height="1.20" fill="#b8a286"/>
<rect x="475.40" y="323.60" width="4.90" height="2.60" fill="#5e3a0f"/>
<rect x="485.00" y="323.60" width="1.20" height="2.60" fill="#5e3a0f"/>
<path d="M490.30,323.80 L491.90,324.90 L490.30,326.00 Z" fill="#4d6390"/>
<path d="M499.80,323.80 L501.40,324.90 L499.80,326.00 Z" fill="#4d6390"/>
<path d="M510.20,323.80 L511.80,324.90 L510.20,326.00 Z" fill="#4d6390"/>
<rect x="480.00" y="335.70" width="31.80" height="1.20" fill="#b8a286"/>
<rect x="475.40" y="335.00" width="4.90" height="2.60" fill="#5e3a0f"/>
<rect x="485.00" y="335.00" width="1.20" height="2.60" fill="#5e3a0f"/>
<path d="M490.30,335.20 L491.90,336.30 L490.30,337.40 Z" fill="#4d6390"/>
<path d="M499.80,335.20 L501.40,336.30 L499.80,337.40 Z" fill="#4d6390"/>
<path d="M510.20,335.20 L511.80,336.30 L510.20,337.40 Z" fill="#4d6390"/>
<rect x="480.00" y="347.10" width="31.80" height="1.20" fill="#b8a286"/>
<rect x="475.40" y="346.40" width="4.90" height="2.60" fill="#5e3a0f"/>
<rect x="485.00" y="346.40" width="1.20" height="2.60" fill="#5e3a0f"/>
<path d="M490.30,346.60 L491.90,347.70 L490.30,348.80 Z" fill="#4d6390"/>
<path d="M499.80,346.60 L501.40,347.70 L499.80,348.80 Z" fill="#4d6390"/>
<path d="M510.20,346.60 L511.80,347.70 L510.20,348.80 Z" fill="#4d6390"/>
<rect x="480.00" y="358.50" width="31.80" height="1.20" fill="#b8a286"/>
<rect x="475.40" y="357.80" width="4.90" height="2.60" fill="#5e3a0f"/>
<rect x="485.00" y="357.80" width="1.20" height="2.60" fill="#5e3a0f"/>
<path d="M490.30,358.00 L491.90,359.10 L490.30,360.20 Z" fill="#4d6390"/>
<path d="M499.80,358.00 L501.40,359.10 L499.80,360.20 Z" fill="#4d6390"/>
<path d="M510.20,358.00 L511.80,359.10 L510.20,360.20 Z" fill="#4d6390"/>
<rect x="497.90" y="369.60" width="14.30" height="2.10" fill="#000"/>
<rect x="475.30" y="368.60" width="0.70" height="4.80" fill="#555"/>
</svg>
<svg class="t" width="520" height="388" viewBox="0 0 520 388">
<text x="304.50" y="11.00" font-size="4.8" fill="#222" text-anchor="middle" >12 kb</text>
<text x="98.00" y="22.40" font-size="4.7" fill="#777" text-anchor="middle" >dp</text>
<text x="163.15" y="22.40" font-size="4.7" fill="#222" text-anchor="middle" >2 kb</text>
<text x="230.05" y="22.40" font-size="4.7" fill="#222" text-anchor="middle" >4 kb</text>
<text x="296.95" y="22.40" font-size="4.7" fill="#222" text-anchor="middle" >6 kb</text>
<text x="363.85" y="22.40" font-size="4.7" fill="#222" text-anchor="middle" >8 kb</text>
<text x="430.75" y="22.40" font-size="4.7" fill="#222" text-anchor="middle" >10 kb</text>
<text x="497.65" y="22.40" font-size="4.7" fill="#222" text-anchor="middle" >12 kb</text>
<text x="96.00" y="38.00" font-size="4.4" fill="#333" text-anchor="start" >[0-100]</text>
<text x="96.00" y="58.20" font-size="4.4" fill="#333" text-anchor="start" >[0-100]</text>
<text x="96.00" y="77.80" font-size="4.4" fill="#333" text-anchor="start" >[0-100]</text>
<text x="92.90" y="47.00" font-size="6.5" fill="#1a1a1a" text-anchor="end" stroke="#1a1a1a" stroke-width="0.12" >Vehicle</text>
<text x="92.90" y="72.00" font-size="6.5" fill="#1a1a1a" text-anchor="end" stroke="#1a1a1a" stroke-width="0.12" >DCB</text>
<text x="92.90" y="91.20" font-size="6.5" fill="#1a1a1a" text-anchor="end" stroke="#1a1a1a" stroke-width="0.12" >Washout</text>
<text x="92.90" y="98.40" font-size="6.5" fill="#1a1a1a" text-anchor="end" stroke="#1a1a1a" stroke-width="0.12" >DMCs</text>
<text x="63.60" y="73.40" font-size="8.9" fill="#111" text-anchor="end" stroke="#111" stroke-width="0.18" >Mutu I</text>
<text x="96.00" y="110.50" font-size="4.4" fill="#333" text-anchor="start" >[0-100]</text>
<text x="96.00" y="130.90" font-size="4.4" fill="#333" text-anchor="start" >[0-100]</text>
<text x="96.00" y="151.10" font-size="4.4" fill="#333" text-anchor="start" >[0-100]</text>
<text x="92.90" y="120.50" font-size="6.5" fill="#1a1a1a" text-anchor="end" stroke="#1a1a1a" stroke-width="0.12" >Vehicle</text>
<text x="92.90" y="140.30" font-size="6.5" fill="#1a1a1a" text-anchor="end" stroke="#1a1a1a" stroke-width="0.12" >DCB</text>
<text x="92.90" y="163.40" font-size="6.5" fill="#1a1a1a" text-anchor="end" stroke="#1a1a1a" stroke-width="0.12" >Washout</text>
<text x="92.90" y="171.20" font-size="6.5" fill="#1a1a1a" text-anchor="end" stroke="#1a1a1a" stroke-width="0.12" >DMCs</text>
<text x="63.60" y="145.90" font-size="8.9" fill="#111" text-anchor="end" stroke="#111" stroke-width="0.18" >Kem I</text>
<text x="96.00" y="183.30" font-size="4.4" fill="#333" text-anchor="start" >[0-100]</text>
<text x="96.00" y="205.70" font-size="4.4" fill="#333" text-anchor="start" >[0-100]</text>
<text x="96.00" y="224.50" font-size="4.4" fill="#333" text-anchor="start" >[0-100]</text>
<text x="92.90" y="194.70" font-size="6.5" fill="#1a1a1a" text-anchor="end" stroke="#1a1a1a" stroke-width="0.12" >Vehicle</text>
<text x="92.90" y="219.40" font-size="6.5" fill="#1a1a1a" text-anchor="end" stroke="#1a1a1a" stroke-width="0.12" >DCB</text>
<text x="92.90" y="237.50" font-size="6.5" fill="#1a1a1a" text-anchor="end" stroke="#1a1a1a" stroke-width="0.12" >Washout</text>
<text x="92.90" y="245.60" font-size="6.5" fill="#1a1a1a" text-anchor="end" stroke="#1a1a1a" stroke-width="0.12" >DMCs</text>
<text x="63.60" y="219.80" font-size="8.9" fill="#111" text-anchor="end" stroke="#111" stroke-width="0.18" >Rael</text>
<text x="96.00" y="258.00" font-size="4.4" fill="#333" text-anchor="start" >[0-100]</text>
<text x="96.00" y="279.30" font-size="4.4" fill="#333" text-anchor="start" >[0-100]</text>
<text x="92.90" y="269.30" font-size="6.5" fill="#1a1a1a" text-anchor="end" stroke="#1a1a1a" stroke-width="0.12" >Vehicle</text>
<text x="92.90" y="292.40" font-size="6.5" fill="#1a1a1a" text-anchor="end" stroke="#1a1a1a" stroke-width="0.12" >DCB</text>
<text x="92.90" y="300.50" font-size="6.5" fill="#1a1a1a" text-anchor="end" stroke="#1a1a1a" stroke-width="0.12" >DMCs</text>
<text x="63.60" y="280.50" font-size="8.9" fill="#111" text-anchor="end" stroke="#111" stroke-width="0.18" >Rael</text>
<text x="63.60" y="291.00" font-size="8.9" fill="#111" text-anchor="end" stroke="#111" stroke-width="0.18" >Xenograft</text>
<text x="195.80" y="322.60" font-size="4.4" fill="#222" text-anchor="middle" >LMP-2A</text>
<text x="194.40" y="333.30" font-size="4.4" fill="#222" text-anchor="middle" >LMP-2B</text>
<text x="221.30" y="347.10" font-size="4.4" fill="#222" text-anchor="middle" >BNRF1</text>
<text x="298.90" y="322.30" font-size="4.4" fill="#222" text-anchor="middle" >BCLT1</text>
<text x="320.00" y="322.30" font-size="4.4" fill="#222" text-anchor="middle" >EBER1</text>
<text x="308.80" y="333.00" font-size="4.4" fill="#222" text-anchor="middle" >BCRT2</text>
<text x="376.30" y="322.60" font-size="4.4" fill="#222" text-anchor="middle" >Orip</text>
<text x="397.70" y="333.30" font-size="4.4" fill="#222" text-anchor="middle" >Dyad_Symmetry_EBNA1_Binding_site_II</text>
<text x="428.90" y="320.50" font-size="4.4" fill="#222" text-anchor="middle" >BCRF1/IL10</text>
<text x="494.10" y="321.80" font-size="4.4" fill="#222" text-anchor="middle" >Cp-EBNA1</text>
<text x="494.10" y="333.10" font-size="4.4" fill="#222" text-anchor="middle" >Cp-EBNA3B</text>
<text x="494.10" y="344.50" font-size="4.4" fill="#222" text-anchor="middle" >Cp-EBNA3C</text>
<text x="494.10" y="355.90" font-size="4.4" fill="#222" text-anchor="middle" >Cp-EBNA3A</text>
<text x="494.10" y="367.30" font-size="4.4" fill="#222" text-anchor="middle" >Cp-EBNA2</text>
<text x="475.50" y="379.00" font-size="4.4" fill="#222" text-anchor="middle" >Cp_Promoter</text>
</svg><div id="b"></div></div></body></html>
